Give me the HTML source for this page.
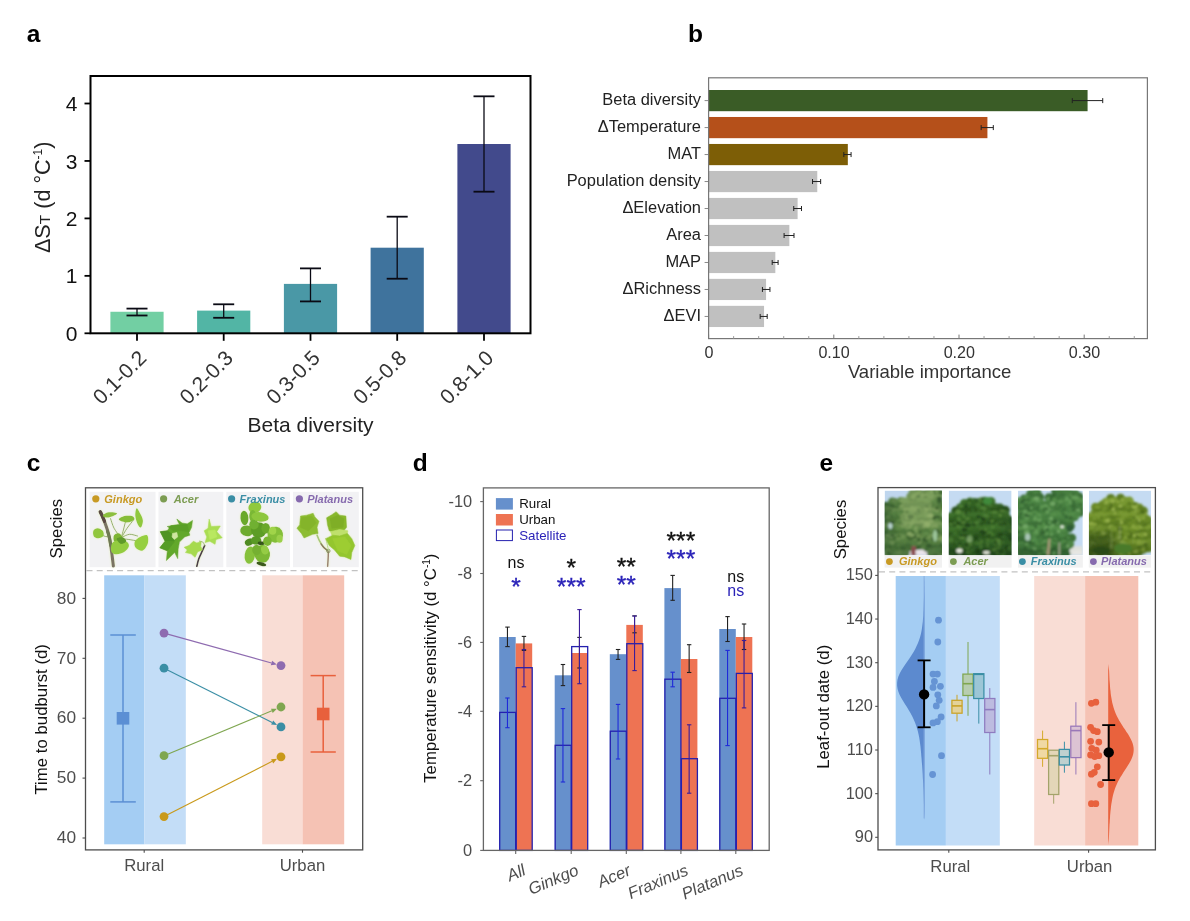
<!DOCTYPE html>
<html><head><meta charset="utf-8"><title>Figure</title>
<style>
html,body{margin:0;padding:0;background:#fff;}
body{width:1190px;height:921px;overflow:hidden;font-family:"Liberation Sans", sans-serif;}
svg{display:block;will-change:transform;}
svg text{font-family:"Liberation Sans", sans-serif;}
</style></head><body>
<svg width="1190" height="921" viewBox="0 0 1190 921">
<defs>
<filter id="b1" x="-10%" y="-10%" width="120%" height="120%"><feGaussianBlur stdDeviation="0.45"/></filter>
<filter id="b2" x="-10%" y="-10%" width="120%" height="120%"><feGaussianBlur stdDeviation="0.9"/></filter>
<filter id="lf" x="-15%" y="-15%" width="130%" height="130%"><feGaussianBlur in="SourceGraphic" stdDeviation="0.5" result="s"/><feGaussianBlur in="SourceAlpha" stdDeviation="1.1" result="a"/><feFlood flood-color="#e6f0b8" flood-opacity="0.9"/><feComposite in2="a" operator="in" result="h"/><feMerge><feMergeNode in="h"/><feMergeNode in="s"/></feMerge></filter>
<filter id="b3" x="-20%" y="-20%" width="140%" height="140%"><feGaussianBlur stdDeviation="1.6"/></filter>
</defs>
<rect width="1190" height="921" fill="#ffffff"/>
<g id="panel-a">
<text x="26.8" y="41.8" font-size="24.5" fill="#000" text-anchor="start" font-weight="bold" font-style="normal" >a</text>
<rect x="110.40" y="311.76" width="53.20" height="21.54" fill="#72cfa3" stroke="none" stroke-width="1" />
<rect x="197.10" y="310.61" width="53.20" height="22.69" fill="#52b5a5" stroke="none" stroke-width="1" />
<rect x="283.90" y="283.89" width="53.20" height="49.41" fill="#4a98a6" stroke="none" stroke-width="1" />
<rect x="370.60" y="247.70" width="53.20" height="85.60" fill="#3f739d" stroke="none" stroke-width="1" />
<rect x="457.40" y="144.00" width="53.20" height="189.30" fill="#424a8c" stroke="none" stroke-width="1" />
<line x1="137.0" y1="308.5965" x2="137.0" y2="315.4905" stroke="#0a0a14" stroke-width="1.3" />
<line x1="126.5" y1="308.5965" x2="147.5" y2="308.5965" stroke="#0a0a14" stroke-width="1.8" />
<line x1="126.5" y1="315.4905" x2="147.5" y2="315.4905" stroke="#0a0a14" stroke-width="1.8" />
<line x1="223.7" y1="304.28775" x2="223.7" y2="317.7885" stroke="#0a0a14" stroke-width="1.3" />
<line x1="213.2" y1="304.28775" x2="234.2" y2="304.28775" stroke="#0a0a14" stroke-width="1.8" />
<line x1="213.2" y1="317.7885" x2="234.2" y2="317.7885" stroke="#0a0a14" stroke-width="1.8" />
<line x1="310.5" y1="268.3815" x2="310.5" y2="301.41525" stroke="#0a0a14" stroke-width="1.3" />
<line x1="300.0" y1="268.3815" x2="321.0" y2="268.3815" stroke="#0a0a14" stroke-width="1.8" />
<line x1="300.0" y1="301.41525" x2="321.0" y2="301.41525" stroke="#0a0a14" stroke-width="1.8" />
<line x1="397.2" y1="216.67650000000003" x2="397.2" y2="278.7225" stroke="#0a0a14" stroke-width="1.3" />
<line x1="386.7" y1="216.67650000000003" x2="407.7" y2="216.67650000000003" stroke="#0a0a14" stroke-width="1.8" />
<line x1="386.7" y1="278.7225" x2="407.7" y2="278.7225" stroke="#0a0a14" stroke-width="1.8" />
<line x1="484.0" y1="96.31875" x2="484.0" y2="191.68575" stroke="#0a0a14" stroke-width="1.3" />
<line x1="473.5" y1="96.31875" x2="494.5" y2="96.31875" stroke="#0a0a14" stroke-width="1.8" />
<line x1="473.5" y1="191.68575" x2="494.5" y2="191.68575" stroke="#0a0a14" stroke-width="1.8" />
<rect x="90.50" y="76.00" width="440.00" height="257.30" fill="none" stroke="#000" stroke-width="2" />
<line x1="84.5" y1="333.3" x2="90.5" y2="333.3" stroke="#000" stroke-width="1.8" />
<text x="77.5" y="340.90000000000003" font-size="21" fill="#111" text-anchor="end" font-weight="normal" font-style="normal" >0</text>
<line x1="84.5" y1="275.85" x2="90.5" y2="275.85" stroke="#000" stroke-width="1.8" />
<text x="77.5" y="283.45000000000005" font-size="21" fill="#111" text-anchor="end" font-weight="normal" font-style="normal" >1</text>
<line x1="84.5" y1="218.4" x2="90.5" y2="218.4" stroke="#000" stroke-width="1.8" />
<text x="77.5" y="226.0" font-size="21" fill="#111" text-anchor="end" font-weight="normal" font-style="normal" >2</text>
<line x1="84.5" y1="160.95" x2="90.5" y2="160.95" stroke="#000" stroke-width="1.8" />
<text x="77.5" y="168.54999999999998" font-size="21" fill="#111" text-anchor="end" font-weight="normal" font-style="normal" >3</text>
<line x1="84.5" y1="103.5" x2="90.5" y2="103.5" stroke="#000" stroke-width="1.8" />
<text x="77.5" y="111.1" font-size="21" fill="#111" text-anchor="end" font-weight="normal" font-style="normal" >4</text>
<line x1="137.0" y1="333.3" x2="137.0" y2="340.8" stroke="#000" stroke-width="1.8" />
<text x="147.7" y="359.3" font-size="21" fill="#333" text-anchor="end" font-weight="normal" font-style="normal" transform="rotate(-45 147.7 359.3)" >0.1-0.2</text>
<line x1="223.7" y1="333.3" x2="223.7" y2="340.8" stroke="#000" stroke-width="1.8" />
<text x="234.39999999999998" y="359.3" font-size="21" fill="#333" text-anchor="end" font-weight="normal" font-style="normal" transform="rotate(-45 234.39999999999998 359.3)" >0.2-0.3</text>
<line x1="310.5" y1="333.3" x2="310.5" y2="340.8" stroke="#000" stroke-width="1.8" />
<text x="321.2" y="359.3" font-size="21" fill="#333" text-anchor="end" font-weight="normal" font-style="normal" transform="rotate(-45 321.2 359.3)" >0.3-0.5</text>
<line x1="397.2" y1="333.3" x2="397.2" y2="340.8" stroke="#000" stroke-width="1.8" />
<text x="407.9" y="359.3" font-size="21" fill="#333" text-anchor="end" font-weight="normal" font-style="normal" transform="rotate(-45 407.9 359.3)" >0.5-0.8</text>
<line x1="484.0" y1="333.3" x2="484.0" y2="340.8" stroke="#000" stroke-width="1.8" />
<text x="494.7" y="359.3" font-size="21" fill="#333" text-anchor="end" font-weight="normal" font-style="normal" transform="rotate(-45 494.7 359.3)" >0.8-1.0</text>
<text x="310.5" y="431.5" font-size="21" fill="#222" text-anchor="middle" font-weight="normal" font-style="normal" >Beta diversity</text>
<text transform="translate(50.2 197.3) rotate(-90)" font-size="21.6" fill="#222" text-anchor="middle">ΔS<tspan font-size="15.5">T</tspan> (d °C<tspan font-size="12" dy="-8">-1</tspan><tspan dy="8">)</tspan></text>
</g>
<g id="panel-b">
<text x="687.9" y="41.8" font-size="24.5" fill="#000" text-anchor="start" font-weight="bold" font-style="normal" >b</text>
<rect x="708.60" y="90.00" width="378.98" height="21.20" fill="#3a5c26" stroke="none" stroke-width="1" />
<line x1="1072.306" y1="100.6" x2="1102.7296000000001" y2="100.6" stroke="#222" stroke-width="1" />
<line x1="1072.306" y1="98.1" x2="1072.306" y2="103.1" stroke="#222" stroke-width="1" />
<line x1="1102.7296000000001" y1="98.1" x2="1102.7296000000001" y2="103.1" stroke="#222" stroke-width="1" />
<line x1="704.6" y1="100.6" x2="708.6" y2="100.6" stroke="#888" stroke-width="1" />
<text x="701.0" y="104.89999999999999" font-size="16.45" fill="#222" text-anchor="end" font-weight="normal" font-style="normal" >Beta diversity</text>
<rect x="708.60" y="116.98" width="278.82" height="21.20" fill="#b5501a" stroke="none" stroke-width="1" />
<line x1="981.1604" y1="127.58" x2="993.3048" y2="127.58" stroke="#222" stroke-width="1" />
<line x1="981.1604" y1="125.08" x2="981.1604" y2="130.07999999999998" stroke="#222" stroke-width="1" />
<line x1="993.3048" y1="125.08" x2="993.3048" y2="130.07999999999998" stroke="#222" stroke-width="1" />
<line x1="704.6" y1="127.58" x2="708.6" y2="127.58" stroke="#888" stroke-width="1" />
<text x="701.0" y="131.88" font-size="16.45" fill="#222" text-anchor="end" font-weight="normal" font-style="normal" >ΔTemperature</text>
<rect x="708.60" y="143.96" width="139.22" height="21.20" fill="#7d5e06" stroke="none" stroke-width="1" />
<line x1="843.816" y1="154.56" x2="851.0776000000001" y2="154.56" stroke="#222" stroke-width="1" />
<line x1="843.816" y1="152.06" x2="843.816" y2="157.06" stroke="#222" stroke-width="1" />
<line x1="851.0776000000001" y1="152.06" x2="851.0776000000001" y2="157.06" stroke="#222" stroke-width="1" />
<line x1="704.6" y1="154.56" x2="708.6" y2="154.56" stroke="#888" stroke-width="1" />
<text x="701.0" y="158.86" font-size="16.45" fill="#222" text-anchor="end" font-weight="normal" font-style="normal" >MAT</text>
<rect x="708.60" y="170.94" width="108.67" height="21.20" fill="#c0c0c0" stroke="none" stroke-width="1" />
<line x1="812.5160000000001" y1="181.54" x2="820.654" y2="181.54" stroke="#222" stroke-width="1" />
<line x1="812.5160000000001" y1="179.04" x2="812.5160000000001" y2="184.04" stroke="#222" stroke-width="1" />
<line x1="820.654" y1="179.04" x2="820.654" y2="184.04" stroke="#222" stroke-width="1" />
<line x1="704.6" y1="181.54" x2="708.6" y2="181.54" stroke="#888" stroke-width="1" />
<text x="701.0" y="185.84" font-size="16.45" fill="#222" text-anchor="end" font-weight="normal" font-style="normal" >Population density</text>
<rect x="708.60" y="197.92" width="89.02" height="21.20" fill="#c0c0c0" stroke="none" stroke-width="1" />
<line x1="793.736" y1="208.51999999999998" x2="801.4984000000001" y2="208.51999999999998" stroke="#222" stroke-width="1" />
<line x1="793.736" y1="206.01999999999998" x2="793.736" y2="211.01999999999998" stroke="#222" stroke-width="1" />
<line x1="801.4984000000001" y1="206.01999999999998" x2="801.4984000000001" y2="211.01999999999998" stroke="#222" stroke-width="1" />
<line x1="704.6" y1="208.51999999999998" x2="708.6" y2="208.51999999999998" stroke="#888" stroke-width="1" />
<text x="701.0" y="212.82" font-size="16.45" fill="#222" text-anchor="end" font-weight="normal" font-style="normal" >ΔElevation</text>
<rect x="708.60" y="224.90" width="80.75" height="21.20" fill="#c0c0c0" stroke="none" stroke-width="1" />
<line x1="784.0956" y1="235.5" x2="793.9864" y2="235.5" stroke="#222" stroke-width="1" />
<line x1="784.0956" y1="233.0" x2="784.0956" y2="238.0" stroke="#222" stroke-width="1" />
<line x1="793.9864" y1="233.0" x2="793.9864" y2="238.0" stroke="#222" stroke-width="1" />
<line x1="704.6" y1="235.5" x2="708.6" y2="235.5" stroke="#888" stroke-width="1" />
<text x="701.0" y="239.8" font-size="16.45" fill="#222" text-anchor="end" font-weight="normal" font-style="normal" >Area</text>
<rect x="708.60" y="251.88" width="66.73" height="21.20" fill="#c0c0c0" stroke="none" stroke-width="1" />
<line x1="772.2016" y1="262.48" x2="778.086" y2="262.48" stroke="#222" stroke-width="1" />
<line x1="772.2016" y1="259.98" x2="772.2016" y2="264.98" stroke="#222" stroke-width="1" />
<line x1="778.086" y1="259.98" x2="778.086" y2="264.98" stroke="#222" stroke-width="1" />
<line x1="704.6" y1="262.48" x2="708.6" y2="262.48" stroke="#888" stroke-width="1" />
<text x="701.0" y="266.78000000000003" font-size="16.45" fill="#222" text-anchor="end" font-weight="normal" font-style="normal" >MAP</text>
<rect x="708.60" y="278.86" width="57.47" height="21.20" fill="#c0c0c0" stroke="none" stroke-width="1" />
<line x1="762.436" y1="289.46000000000004" x2="769.948" y2="289.46000000000004" stroke="#222" stroke-width="1" />
<line x1="762.436" y1="286.96000000000004" x2="762.436" y2="291.96000000000004" stroke="#222" stroke-width="1" />
<line x1="769.948" y1="286.96000000000004" x2="769.948" y2="291.96000000000004" stroke="#222" stroke-width="1" />
<line x1="704.6" y1="289.46000000000004" x2="708.6" y2="289.46000000000004" stroke="#888" stroke-width="1" />
<text x="701.0" y="293.76000000000005" font-size="16.45" fill="#222" text-anchor="end" font-weight="normal" font-style="normal" >ΔRichness</text>
<rect x="708.60" y="305.84" width="55.46" height="21.20" fill="#c0c0c0" stroke="none" stroke-width="1" />
<line x1="760.1824" y1="316.44" x2="767.1936000000001" y2="316.44" stroke="#222" stroke-width="1" />
<line x1="760.1824" y1="313.94" x2="760.1824" y2="318.94" stroke="#222" stroke-width="1" />
<line x1="767.1936000000001" y1="313.94" x2="767.1936000000001" y2="318.94" stroke="#222" stroke-width="1" />
<line x1="704.6" y1="316.44" x2="708.6" y2="316.44" stroke="#888" stroke-width="1" />
<text x="701.0" y="320.74" font-size="16.45" fill="#222" text-anchor="end" font-weight="normal" font-style="normal" >ΔEVI</text>
<rect x="708.60" y="77.80" width="438.80" height="260.80" fill="none" stroke="#777" stroke-width="1.2" />
<line x1="708.6" y1="334.6" x2="708.6" y2="338.6" stroke="#777" stroke-width="1" />
<line x1="733.64" y1="336.1" x2="733.64" y2="338.6" stroke="#999" stroke-width="1" />
<line x1="758.6800000000001" y1="336.1" x2="758.6800000000001" y2="338.6" stroke="#999" stroke-width="1" />
<line x1="783.72" y1="336.1" x2="783.72" y2="338.6" stroke="#999" stroke-width="1" />
<line x1="808.76" y1="336.1" x2="808.76" y2="338.6" stroke="#999" stroke-width="1" />
<line x1="833.8000000000001" y1="334.6" x2="833.8000000000001" y2="338.6" stroke="#777" stroke-width="1" />
<line x1="858.84" y1="336.1" x2="858.84" y2="338.6" stroke="#999" stroke-width="1" />
<line x1="883.8800000000001" y1="336.1" x2="883.8800000000001" y2="338.6" stroke="#999" stroke-width="1" />
<line x1="908.9200000000001" y1="336.1" x2="908.9200000000001" y2="338.6" stroke="#999" stroke-width="1" />
<line x1="933.96" y1="336.1" x2="933.96" y2="338.6" stroke="#999" stroke-width="1" />
<line x1="959.0" y1="334.6" x2="959.0" y2="338.6" stroke="#777" stroke-width="1" />
<line x1="984.04" y1="336.1" x2="984.04" y2="338.6" stroke="#999" stroke-width="1" />
<line x1="1009.0799999999999" y1="336.1" x2="1009.0799999999999" y2="338.6" stroke="#999" stroke-width="1" />
<line x1="1034.1200000000001" y1="336.1" x2="1034.1200000000001" y2="338.6" stroke="#999" stroke-width="1" />
<line x1="1059.16" y1="336.1" x2="1059.16" y2="338.6" stroke="#999" stroke-width="1" />
<line x1="1084.2" y1="334.6" x2="1084.2" y2="338.6" stroke="#777" stroke-width="1" />
<line x1="1109.24" y1="336.1" x2="1109.24" y2="338.6" stroke="#999" stroke-width="1" />
<line x1="1134.28" y1="336.1" x2="1134.28" y2="338.6" stroke="#999" stroke-width="1" />
<text x="708.9" y="358.4" font-size="16.1" fill="#333" text-anchor="middle" font-weight="normal" font-style="normal" >0</text>
<text x="834.1" y="358.4" font-size="16.1" fill="#333" text-anchor="middle" font-weight="normal" font-style="normal" >0.10</text>
<text x="959.3" y="358.4" font-size="16.1" fill="#333" text-anchor="middle" font-weight="normal" font-style="normal" >0.20</text>
<text x="1084.5" y="358.4" font-size="16.1" fill="#333" text-anchor="middle" font-weight="normal" font-style="normal" >0.30</text>
<text x="929.6" y="378.3" font-size="18.55" fill="#333" text-anchor="middle" font-weight="normal" font-style="normal" >Variable importance</text>
</g>
<g id="panel-c">
<text x="26.8" y="470.7" font-size="24.5" fill="#000" text-anchor="start" font-weight="bold" font-style="normal" >c</text>
<rect x="104.20" y="575.30" width="40.20" height="269.00" fill="#a4cdf3" stroke="none" stroke-width="1" />
<rect x="144.40" y="575.30" width="41.40" height="269.00" fill="#c3ddf7" stroke="none" stroke-width="1" />
<rect x="262.20" y="575.30" width="40.30" height="269.00" fill="#f9ddd5" stroke="none" stroke-width="1" />
<rect x="302.50" y="575.30" width="41.70" height="269.00" fill="#f5c2b4" stroke="none" stroke-width="1" />
<rect x="89.60" y="491.80" width="65.90" height="75.40" fill="#f2f2f4" stroke="none" stroke-width="1" />
<rect x="158.50" y="491.80" width="64.80" height="75.40" fill="#f2f2f4" stroke="none" stroke-width="1" />
<rect x="226.30" y="491.80" width="63.70" height="75.40" fill="#f2f2f4" stroke="none" stroke-width="1" />
<rect x="293.00" y="491.80" width="65.80" height="75.40" fill="#f2f2f4" stroke="none" stroke-width="1" />
<g filter="url(#lf)">
<path d="M121.44,537.33 C121.80,535.96 122.96,531.62 123.61,529.08 C124.26,526.55 125.06,523.29 125.35,522.13 " fill="none" stroke="#8aa860" stroke-width="0.9" stroke-linecap="round"/>
<path d="M121.87,536.90 C122.74,535.45 125.20,530.96 127.08,528.21 C128.96,525.46 132.15,521.70 133.16,520.40 " fill="none" stroke="#8aa860" stroke-width="0.9" stroke-linecap="round"/>
<path d="M120.13,536.90 C119.12,535.45 115.65,531.25 114.06,528.21 C112.46,525.17 111.16,520.25 110.58,518.66 " fill="none" stroke="#8aa860" stroke-width="0.9" stroke-linecap="round"/>
<path d="M122.74,536.90 C123.90,536.47 127.23,534.44 129.69,534.29 C132.15,534.15 136.20,535.74 137.50,536.03 " fill="none" stroke="#8aa860" stroke-width="0.9" stroke-linecap="round"/>
<path d="M109.71,536.90 C108.99,536.83 106.60,536.75 105.37,536.47 C104.14,536.18 102.84,535.38 102.33,535.16 " fill="none" stroke="#8aa860" stroke-width="0.9" stroke-linecap="round"/>
<path d="M121.00,538.64 C122.31,538.78 126.21,539.14 128.82,539.50 C131.43,539.87 135.33,540.59 136.64,540.81 " fill="none" stroke="#8aa860" stroke-width="0.9" stroke-linecap="round"/>
<path d="M100.59,512.15 C101.17,513.52 102.76,516.85 104.07,520.40 C105.37,523.94 107.30,529.23 108.41,533.43 C109.52,537.62 110.13,541.82 110.75,545.58 C111.38,549.35 111.71,552.60 112.14,556.01 C112.58,559.41 113.16,564.33 113.36,565.99 " fill="none" stroke="#7a7364" stroke-width="3.1" stroke-linecap="round"/>
<path d="M100.16,511.71 C100.52,512.44 101.61,514.46 102.33,516.06 C103.05,517.65 104.14,520.40 104.50,521.27 " fill="none" stroke="#5a4a42" stroke-width="3.3" stroke-linecap="round"/>
<path d="M107.54,531.69 C107.90,532.85 109.18,536.32 109.71,538.64 C110.25,540.95 110.58,544.43 110.75,545.58 " fill="none" stroke="#6e7a52" stroke-width="3.0" stroke-linecap="round"/>
<path d="M102.76,516.06 C102.69,515.24 104.79,513.36 106.67,512.75 C108.55,512.15 112.32,512.26 114.06,512.41 C115.79,512.55 117.24,513.02 117.10,513.62 C116.95,514.23 114.85,515.39 113.19,516.06 C111.52,516.72 108.84,517.62 107.11,517.62 C105.37,517.62 102.84,516.87 102.76,516.06 Z" fill="#8cbf3c" />
<path d="M118.83,519.53 C118.69,518.49 122.31,516.63 124.48,516.06 C126.65,515.48 130.20,515.55 131.86,516.06 C133.52,516.56 134.54,518.20 134.47,519.10 C134.39,519.99 132.95,520.90 131.43,521.44 C129.91,521.98 127.44,522.63 125.35,522.31 C123.25,521.99 118.98,520.57 118.83,519.53 Z" fill="#86bd38" />
<path d="M136.64,508.24 C137.43,507.80 139.07,511.42 140.11,513.45 C141.15,515.48 142.74,518.08 142.89,520.40 C143.03,522.71 141.80,526.62 140.98,527.35 C140.15,528.07 138.88,526.62 137.94,524.74 C137.00,522.86 135.55,518.81 135.33,516.06 C135.12,513.30 135.84,508.67 136.64,508.24 Z" fill="#8fc83e" />
<path d="M93.38,530.82 C93.99,529.44 95.99,528.21 97.55,528.21 C99.12,528.21 101.78,529.52 102.76,530.82 C103.75,532.12 104.18,534.80 103.46,536.03 C102.74,537.26 100.01,538.13 98.42,538.20 C96.83,538.27 94.75,537.70 93.91,536.47 C93.07,535.23 92.78,532.20 93.38,530.82 Z" fill="#90c63c" />
<path d="M114.06,535.16 C114.92,533.86 117.82,532.85 119.27,533.43 C120.71,534.00 122.89,537.19 122.74,538.64 C122.60,540.08 119.85,541.68 118.40,542.11 C116.95,542.54 114.78,542.40 114.06,541.24 C113.33,540.08 113.19,536.47 114.06,535.16 Z" fill="#7db533" />
<path d="M113.19,542.11 C114.71,540.95 117.82,540.37 120.13,540.37 C122.45,540.37 125.64,541.10 127.08,542.11 C128.53,543.12 129.25,544.86 128.82,546.45 C128.39,548.05 126.50,550.36 124.48,551.66 C122.45,552.97 118.76,554.12 116.66,554.27 C114.56,554.41 112.82,553.69 111.88,552.53 C110.94,551.37 110.80,549.06 111.02,547.32 C111.23,545.58 111.67,543.27 113.19,542.11 Z" fill="#93cc3f" />
<path d="M134.90,541.24 C135.70,539.50 138.08,537.91 140.11,536.90 C142.14,535.89 145.73,534.29 147.06,535.16 C148.39,536.03 148.39,539.94 148.10,542.11 C147.81,544.28 146.51,546.74 145.32,548.19 C144.13,549.64 142.64,550.94 140.98,550.80 C139.31,550.65 136.35,548.91 135.33,547.32 C134.32,545.73 134.10,542.98 134.90,541.24 Z" fill="#96cf40" />
<path d="M116.66,538.64 C116.95,537.55 121.15,536.90 122.74,537.33 C124.33,537.77 126.50,540.16 126.21,541.24 C125.92,542.33 122.60,544.28 121.00,543.85 C119.41,543.41 116.37,539.72 116.66,538.64 Z" fill="#5f9a2a" />
</g>
<g filter="url(#lf)">
<path d="M204.64,545.58 C204.06,546.89 202.18,551.09 201.16,553.40 C200.15,555.72 199.28,557.34 198.56,559.48 C197.83,561.62 197.11,565.13 196.82,566.25 " fill="none" stroke="#4b3c48" stroke-width="1.7" stroke-linecap="round"/>
<path d="M204.64,545.58 C204.35,545.01 203.77,542.83 202.90,542.11 C202.03,541.39 200.00,541.39 199.43,541.24 " fill="none" stroke="#8aa860" stroke-width="0.8" stroke-linecap="round"/>
<polygon points="176.84,519.10 182.06,523.00 187.27,523.87 192.48,520.40 191.61,527.35 189.00,532.56 189.87,535.16 184.66,536.90 179.45,542.11 178.15,549.06 177.71,558.61 174.67,552.53 166.42,560.52 167.29,550.80 159.91,547.76 165.12,541.24 160.34,531.69 167.29,530.82 170.76,525.61 179.45,524.74" fill="#62a82b" stroke="#62a82b" stroke-width="0.6" stroke-linejoin="round" />
<polygon points="160.34,531.69 167.29,530.82 173.37,535.16 174.24,541.24 165.12,541.24" fill="#4f9422" stroke="#4f9422" stroke-width="0.6" stroke-linejoin="round" />
<polygon points="159.91,547.76 165.12,541.24 174.24,542.11 167.29,550.80" fill="#579c26" stroke="#579c26" stroke-width="0.6" stroke-linejoin="round" />
<polygon points="167.29,526.48 177.71,524.74 187.27,524.74 189.00,531.69 182.06,530.82 173.37,530.82" fill="#5a9f27" stroke="#5a9f27" stroke-width="0.6" stroke-linejoin="round" />
<polygon points="172.50,533.43 176.84,532.56 177.71,536.90 174.24,539.50 172.07,536.90" fill="#cfe6a0" stroke="#cfe6a0" stroke-width="0.6" stroke-linejoin="round" />
<polygon points="184.23,547.32 189.00,545.58 193.35,541.24 196.82,542.98 201.16,541.68 200.73,546.45 202.47,549.93 197.69,551.66 195.08,557.31 191.17,553.84 185.53,552.53 187.27,549.93" fill="#a6da4e" stroke="#a6da4e" stroke-width="0.6" stroke-linejoin="round" />
<polygon points="209.15,519.10 211.15,526.48 220.27,526.04 216.80,531.69 222.18,537.77 215.93,539.50 215.06,544.28 209.85,541.24 205.07,542.54 206.81,536.90 204.20,530.82 208.11,528.21" fill="#a9dd52" stroke="#a9dd52" stroke-width="0.6" stroke-linejoin="round" />
<polygon points="208.11,530.82 215.06,529.95 216.80,536.90 209.85,539.50" fill="#b9e860" stroke="#b9e860" stroke-width="0.6" stroke-linejoin="round" />
</g>
<g filter="url(#lf)">
<ellipse cx="254.83" cy="507.37" rx="6.51" ry="5.73" fill="#90c93d" transform="rotate(-20 254.83 507.37)"/>
<ellipse cx="244.41" cy="517.97" rx="4.00" ry="7.30" fill="#6aa92b" transform="rotate(-5 244.41 517.97)"/>
<ellipse cx="252.66" cy="516.06" rx="3.47" ry="6.08" fill="#7ab834" transform="rotate(0 252.66 516.06)"/>
<ellipse cx="260.04" cy="516.92" rx="8.69" ry="4.78" fill="#8dc73c" transform="rotate(8 260.04 516.92)"/>
<ellipse cx="246.75" cy="530.82" rx="6.60" ry="5.38" fill="#6dab2d" transform="rotate(10 246.75 530.82)"/>
<ellipse cx="258.74" cy="529.95" rx="7.82" ry="7.82" fill="#5d9d26" transform="rotate(0 258.74 529.95)"/>
<ellipse cx="253.96" cy="524.74" rx="4.78" ry="4.78" fill="#70b030" transform="rotate(0 253.96 524.74)"/>
<ellipse cx="265.69" cy="528.21" rx="4.34" ry="5.21" fill="#6aa82c" transform="rotate(0 265.69 528.21)"/>
<ellipse cx="275.24" cy="534.73" rx="7.82" ry="7.99" fill="#84bf39" transform="rotate(10 275.24 534.73)"/>
<ellipse cx="272.64" cy="530.82" rx="3.65" ry="4.00" fill="#a0d44a" transform="rotate(0 272.64 530.82)"/>
<ellipse cx="279.58" cy="538.64" rx="3.13" ry="4.00" fill="#9bd048" transform="rotate(0 279.58 538.64)"/>
<ellipse cx="249.19" cy="542.11" rx="4.52" ry="3.47" fill="#4f8c22" transform="rotate(-25 249.19 542.11)"/>
<ellipse cx="256.13" cy="540.37" rx="5.21" ry="4.34" fill="#5a9a26" transform="rotate(0 256.13 540.37)"/>
<ellipse cx="261.35" cy="543.15" rx="3.65" ry="1.91" fill="#35551a" transform="rotate(0 261.35 543.15)"/>
<ellipse cx="267.43" cy="541.24" rx="4.34" ry="4.78" fill="#7ab532" transform="rotate(0 267.43 541.24)"/>
<ellipse cx="249.88" cy="555.14" rx="5.21" ry="8.69" fill="#86c13a" transform="rotate(8 249.88 555.14)"/>
<ellipse cx="262.21" cy="553.84" rx="7.82" ry="9.03" fill="#7cb834" transform="rotate(-8 262.21 553.84)"/>
<ellipse cx="256.57" cy="549.93" rx="4.34" ry="5.21" fill="#74b030" transform="rotate(0 256.57 549.93)"/>
<ellipse cx="264.82" cy="549.93" rx="3.65" ry="4.52" fill="#95cc44" transform="rotate(-20 264.82 549.93)"/>
<ellipse cx="261.35" cy="564.00" rx="5.04" ry="1.74" fill="#3b5a1c" transform="rotate(15 261.35 564.00)"/>
</g>
<g filter="url(#lf)">
<path d="M317.06,535.16 C317.49,536.18 318.65,539.36 319.66,541.24 C320.67,543.12 321.76,544.86 323.13,546.45 C324.51,548.05 327.12,550.07 327.91,550.80 " fill="none" stroke="#a8c878" stroke-width="1.6" stroke-linecap="round"/>
<path d="M320.96,543.85 C321.47,544.50 322.85,546.60 324.00,547.76 C325.16,548.91 327.26,550.29 327.91,550.80 " fill="none" stroke="#8a7562" stroke-width="1.3" stroke-linecap="round"/>
<path d="M328.35,551.23 C328.32,552.32 328.29,555.24 328.17,557.74 C328.06,560.25 327.74,564.84 327.65,566.25 " fill="none" stroke="#9a8270" stroke-width="1.5" stroke-linecap="round"/>
<circle cx="328.35" cy="550.97" r="1.7" fill="none" stroke="#7a8a55" stroke-width="0.9"/>
<path d="M325.74,538.64 C326.03,539.79 327.04,543.56 327.48,545.58 C327.91,547.61 328.20,549.93 328.35,550.80 " fill="none" stroke="#b8d890" stroke-width="1.0" stroke-linecap="round"/>
<polygon points="300.55,516.06 306.63,515.19 313.15,513.28 314.88,516.92 318.97,521.27 317.06,527.35 318.10,533.43 312.71,534.29 304.03,537.94 301.42,533.43 296.91,528.21 299.69,524.74" fill="#8dbd30" stroke="#8dbd30" stroke-width="0.6" stroke-linejoin="round" />
<polygon points="301.42,517.79 311.84,516.06 316.19,523.00 308.37,530.82 300.55,527.35" fill="#84b42b" stroke="#84b42b" stroke-width="0.6" stroke-linejoin="round" />
<polygon points="326.61,517.79 331.82,514.75 336.16,511.71 339.64,515.19 345.89,516.06 346.58,527.35 343.11,531.69 334.43,532.56 329.21,530.82 327.48,524.74" fill="#88b82c" stroke="#88b82c" stroke-width="0.6" stroke-linejoin="round" />
<polygon points="330.08,518.66 337.90,515.19 343.98,518.66 343.11,527.35 331.82,528.21" fill="#7fae28" stroke="#7fae28" stroke-width="0.6" stroke-linejoin="round" />
<polygon points="330.52,531.69 339.64,529.52 347.89,530.82 346.58,535.16 336.16,536.90 331.82,535.16" fill="#bfe06c" stroke="#bfe06c" stroke-width="0.6" stroke-linejoin="round" />
<polygon points="325.74,538.64 332.69,535.16 339.64,536.03 347.45,533.43 351.80,538.64 354.84,545.58 351.80,552.53 350.93,559.48 344.85,556.88 339.64,556.18 334.43,549.93 329.21,545.58" fill="#94c62f" stroke="#94c62f" stroke-width="0.6" stroke-linejoin="round" />
<polygon points="332.69,538.64 344.85,536.90 350.93,545.58 346.58,554.27 337.90,550.80" fill="#9dcd33" stroke="#9dcd33" stroke-width="0.6" stroke-linejoin="round" />
</g>
<circle cx="95.8" cy="498.8" r="3.6" fill="#c89a24"/>
<text x="104.3" y="502.6" font-size="11" fill="#c89a24" text-anchor="start" font-weight="bold" font-style="italic" >Ginkgo</text>
<circle cx="163.6" cy="498.8" r="3.6" fill="#7c9c52"/>
<text x="173.8" y="502.6" font-size="11" fill="#7c9c52" text-anchor="start" font-weight="bold" font-style="italic" >Acer</text>
<circle cx="231.6" cy="498.8" r="3.6" fill="#3a8ea5"/>
<text x="239.6" y="502.6" font-size="11" fill="#3a8ea5" text-anchor="start" font-weight="bold" font-style="italic" >Fraxinus</text>
<circle cx="299.4" cy="498.8" r="3.6" fill="#866aae"/>
<text x="307.2" y="502.6" font-size="11" fill="#866aae" text-anchor="start" font-weight="bold" font-style="italic" >Platanus</text>
<line x1="86.5" y1="570.6" x2="361.7" y2="570.6" stroke="#c2c2c2" stroke-width="1.3" stroke-dasharray="6 4.2"/>
<line x1="123" y1="635" x2="123" y2="801.9" stroke="#5b8fd4" stroke-width="1.5" />
<line x1="110.3" y1="635" x2="135.8" y2="635" stroke="#5b8fd4" stroke-width="1.5" />
<line x1="110.3" y1="801.9" x2="135.8" y2="801.9" stroke="#5b8fd4" stroke-width="1.5" />
<rect x="116.70" y="712.00" width="12.60" height="12.60" fill="#5b8fd4" stroke="none" stroke-width="1" />
<line x1="323.2" y1="675.6" x2="323.2" y2="752" stroke="#e8603c" stroke-width="1.5" />
<line x1="310.6" y1="675.6" x2="335.8" y2="675.6" stroke="#e8603c" stroke-width="1.5" />
<line x1="310.6" y1="752" x2="335.8" y2="752" stroke="#e8603c" stroke-width="1.5" />
<rect x="316.90" y="707.70" width="12.60" height="12.60" fill="#e8603c" stroke="none" stroke-width="1" />
<line x1="164.0" y1="633.1" x2="271.46117269466356" y2="662.9503257485177" stroke="#8e6bb0" stroke-width="1.1" />
<polygon points="276.8,664.4 270.8,665.2 272.1,660.7" fill="#8e6bb0"/>
<line x1="164.0" y1="668.2" x2="272.1512295189058" y2="722.4604886560664" stroke="#3a8ea5" stroke-width="1.1" />
<polygon points="277.1,724.9 271.1,724.5 273.2,720.4" fill="#3a8ea5"/>
<line x1="164.0" y1="755.7" x2="271.86015235119106" y2="710.8043639358717" stroke="#7fa650" stroke-width="1.1" />
<polygon points="276.9,708.7 272.7,712.9 271.0,708.7" fill="#7fa650"/>
<line x1="164.0" y1="816.6" x2="272.18469664625883" y2="761.3055994919122" stroke="#c9991a" stroke-width="1.1" />
<polygon points="277.1,758.8 273.2,763.4 271.1,759.3" fill="#c9991a"/>
<circle cx="164" cy="633.1" r="4.4" fill="#8e6bb0"/>
<circle cx="281" cy="665.6" r="4.4" fill="#8e6bb0"/>
<circle cx="164" cy="668.2" r="4.4" fill="#3a8ea5"/>
<circle cx="281" cy="726.9" r="4.4" fill="#3a8ea5"/>
<circle cx="164" cy="755.7" r="4.4" fill="#7fa650"/>
<circle cx="281" cy="707.0" r="4.4" fill="#7fa650"/>
<circle cx="164" cy="816.6" r="4.4" fill="#c9991a"/>
<circle cx="281" cy="756.8" r="4.4" fill="#c9991a"/>
<rect x="85.50" y="487.80" width="277.20" height="362.10" fill="none" stroke="#4d4d4d" stroke-width="1.3" />
<line x1="82.5" y1="838.0" x2="85.5" y2="838.0" stroke="#4d4d4d" stroke-width="1.1" />
<text x="76.0" y="843.2" font-size="17.3" fill="#4d4d4d" text-anchor="end" font-weight="normal" font-style="normal" >40</text>
<line x1="82.5" y1="778.1" x2="85.5" y2="778.1" stroke="#4d4d4d" stroke-width="1.1" />
<text x="76.0" y="783.3000000000001" font-size="17.3" fill="#4d4d4d" text-anchor="end" font-weight="normal" font-style="normal" >50</text>
<line x1="82.5" y1="718.2" x2="85.5" y2="718.2" stroke="#4d4d4d" stroke-width="1.1" />
<text x="76.0" y="723.4000000000001" font-size="17.3" fill="#4d4d4d" text-anchor="end" font-weight="normal" font-style="normal" >60</text>
<line x1="82.5" y1="658.3" x2="85.5" y2="658.3" stroke="#4d4d4d" stroke-width="1.1" />
<text x="76.0" y="663.5" font-size="17.3" fill="#4d4d4d" text-anchor="end" font-weight="normal" font-style="normal" >70</text>
<line x1="82.5" y1="598.4" x2="85.5" y2="598.4" stroke="#4d4d4d" stroke-width="1.1" />
<text x="76.0" y="603.6" font-size="17.3" fill="#4d4d4d" text-anchor="end" font-weight="normal" font-style="normal" >80</text>
<line x1="144.2" y1="849.9" x2="144.2" y2="852.6999999999999" stroke="#4d4d4d" stroke-width="1.1" />
<text x="144.2" y="870.7" font-size="16.7" fill="#4d4d4d" text-anchor="middle" font-weight="normal" font-style="normal" >Rural</text>
<line x1="302.5" y1="849.9" x2="302.5" y2="852.6999999999999" stroke="#4d4d4d" stroke-width="1.1" />
<text x="302.5" y="870.7" font-size="16.7" fill="#4d4d4d" text-anchor="middle" font-weight="normal" font-style="normal" >Urban</text>
<text x="46.8" y="719.3" font-size="16.8" fill="#111" text-anchor="middle" font-weight="normal" font-style="normal" transform="rotate(-90 46.8 719.3)" >Time to budburst (d)</text>
<text x="61.6" y="528.6" font-size="16.8" fill="#111" text-anchor="middle" font-weight="normal" font-style="normal" transform="rotate(-90 61.6 528.6)" >Species</text>
</g>
<g id="panel-d">
<text x="412.8" y="471.3" font-size="24.5" fill="#000" text-anchor="start" font-weight="bold" font-style="normal" >d</text>
<rect x="499.20" y="637.00" width="16.50" height="213.40" fill="#6690cc" stroke="none" stroke-width="1" />
<rect x="515.70" y="643.40" width="16.50" height="207.00" fill="#ee7353" stroke="none" stroke-width="1" />
<rect x="554.70" y="675.30" width="16.50" height="175.10" fill="#6690cc" stroke="none" stroke-width="1" />
<rect x="571.20" y="653.00" width="16.50" height="197.40" fill="#ee7353" stroke="none" stroke-width="1" />
<rect x="609.80" y="654.20" width="16.50" height="196.20" fill="#6690cc" stroke="none" stroke-width="1" />
<rect x="626.30" y="624.90" width="16.50" height="225.50" fill="#ee7353" stroke="none" stroke-width="1" />
<rect x="664.40" y="588.10" width="16.50" height="262.30" fill="#6690cc" stroke="none" stroke-width="1" />
<rect x="680.90" y="659.00" width="16.50" height="191.40" fill="#ee7353" stroke="none" stroke-width="1" />
<rect x="719.30" y="629.00" width="16.50" height="221.40" fill="#6690cc" stroke="none" stroke-width="1" />
<rect x="735.80" y="637.00" width="16.50" height="213.40" fill="#ee7353" stroke="none" stroke-width="1" />
<line x1="507.45000000000005" y1="627.1" x2="507.45000000000005" y2="646.6" stroke="#222" stroke-width="1.1" />
<line x1="505.25000000000006" y1="627.1" x2="509.65000000000003" y2="627.1" stroke="#222" stroke-width="1.1" />
<line x1="505.25000000000006" y1="646.6" x2="509.65000000000003" y2="646.6" stroke="#222" stroke-width="1.1" />
<line x1="523.95" y1="636.4" x2="523.95" y2="650.4" stroke="#222" stroke-width="1.1" />
<line x1="521.75" y1="636.4" x2="526.1500000000001" y2="636.4" stroke="#222" stroke-width="1.1" />
<line x1="521.75" y1="650.4" x2="526.1500000000001" y2="650.4" stroke="#222" stroke-width="1.1" />
<line x1="562.95" y1="664.5" x2="562.95" y2="685.6" stroke="#222" stroke-width="1.1" />
<line x1="560.75" y1="664.5" x2="565.1500000000001" y2="664.5" stroke="#222" stroke-width="1.1" />
<line x1="560.75" y1="685.6" x2="565.1500000000001" y2="685.6" stroke="#222" stroke-width="1.1" />
<line x1="579.45" y1="637.4" x2="579.45" y2="668.0" stroke="#222" stroke-width="1.1" />
<line x1="577.25" y1="637.4" x2="581.6500000000001" y2="637.4" stroke="#222" stroke-width="1.1" />
<line x1="577.25" y1="668.0" x2="581.6500000000001" y2="668.0" stroke="#222" stroke-width="1.1" />
<line x1="618.05" y1="649.5" x2="618.05" y2="659.4" stroke="#222" stroke-width="1.1" />
<line x1="615.8499999999999" y1="649.5" x2="620.25" y2="649.5" stroke="#222" stroke-width="1.1" />
<line x1="615.8499999999999" y1="659.4" x2="620.25" y2="659.4" stroke="#222" stroke-width="1.1" />
<line x1="634.55" y1="615.9" x2="634.55" y2="632.8" stroke="#222" stroke-width="1.1" />
<line x1="632.3499999999999" y1="615.9" x2="636.75" y2="615.9" stroke="#222" stroke-width="1.1" />
<line x1="632.3499999999999" y1="632.8" x2="636.75" y2="632.8" stroke="#222" stroke-width="1.1" />
<line x1="672.65" y1="575.4" x2="672.65" y2="600.3" stroke="#222" stroke-width="1.1" />
<line x1="670.4499999999999" y1="575.4" x2="674.85" y2="575.4" stroke="#222" stroke-width="1.1" />
<line x1="670.4499999999999" y1="600.3" x2="674.85" y2="600.3" stroke="#222" stroke-width="1.1" />
<line x1="689.15" y1="644.7" x2="689.15" y2="672.5" stroke="#222" stroke-width="1.1" />
<line x1="686.9499999999999" y1="644.7" x2="691.35" y2="644.7" stroke="#222" stroke-width="1.1" />
<line x1="686.9499999999999" y1="672.5" x2="691.35" y2="672.5" stroke="#222" stroke-width="1.1" />
<line x1="727.55" y1="616.6" x2="727.55" y2="641.5" stroke="#222" stroke-width="1.1" />
<line x1="725.3499999999999" y1="616.6" x2="729.75" y2="616.6" stroke="#222" stroke-width="1.1" />
<line x1="725.3499999999999" y1="641.5" x2="729.75" y2="641.5" stroke="#222" stroke-width="1.1" />
<line x1="744.05" y1="624.0" x2="744.05" y2="649.5" stroke="#222" stroke-width="1.1" />
<line x1="741.8499999999999" y1="624.0" x2="746.25" y2="624.0" stroke="#222" stroke-width="1.1" />
<line x1="741.8499999999999" y1="649.5" x2="746.25" y2="649.5" stroke="#222" stroke-width="1.1" />
<rect x="499.70" y="712.40" width="16.00" height="138.00" fill="none" stroke="#2420ae" stroke-width="1.3" />
<rect x="516.20" y="667.70" width="16.00" height="182.70" fill="none" stroke="#2420ae" stroke-width="1.3" />
<line x1="507.45000000000005" y1="698.0" x2="507.45000000000005" y2="727.7" stroke="#1f2ad8" stroke-width="1.1" />
<line x1="505.25000000000006" y1="698.0" x2="509.65000000000003" y2="698.0" stroke="#1f2ad8" stroke-width="1.1" />
<line x1="505.25000000000006" y1="727.7" x2="509.65000000000003" y2="727.7" stroke="#1f2ad8" stroke-width="1.1" />
<line x1="523.95" y1="649.5" x2="523.95" y2="686.8" stroke="#3a1c9a" stroke-width="1.1" />
<line x1="521.75" y1="649.5" x2="526.1500000000001" y2="649.5" stroke="#3a1c9a" stroke-width="1.1" />
<line x1="521.75" y1="686.8" x2="526.1500000000001" y2="686.8" stroke="#3a1c9a" stroke-width="1.1" />
<rect x="555.20" y="745.30" width="16.00" height="105.10" fill="none" stroke="#2420ae" stroke-width="1.3" />
<rect x="571.70" y="646.60" width="16.00" height="203.80" fill="none" stroke="#2420ae" stroke-width="1.3" />
<line x1="562.95" y1="708.6" x2="562.95" y2="782.0" stroke="#1f2ad8" stroke-width="1.1" />
<line x1="560.75" y1="708.6" x2="565.1500000000001" y2="708.6" stroke="#1f2ad8" stroke-width="1.1" />
<line x1="560.75" y1="782.0" x2="565.1500000000001" y2="782.0" stroke="#1f2ad8" stroke-width="1.1" />
<line x1="579.45" y1="609.6" x2="579.45" y2="683.7" stroke="#3a1c9a" stroke-width="1.1" />
<line x1="577.25" y1="609.6" x2="581.6500000000001" y2="609.6" stroke="#3a1c9a" stroke-width="1.1" />
<line x1="577.25" y1="683.7" x2="581.6500000000001" y2="683.7" stroke="#3a1c9a" stroke-width="1.1" />
<rect x="610.30" y="731.20" width="16.00" height="119.20" fill="none" stroke="#2420ae" stroke-width="1.3" />
<rect x="626.80" y="643.70" width="16.00" height="206.70" fill="none" stroke="#2420ae" stroke-width="1.3" />
<line x1="618.05" y1="704.4" x2="618.05" y2="759.0" stroke="#1f2ad8" stroke-width="1.1" />
<line x1="615.8499999999999" y1="704.4" x2="620.25" y2="704.4" stroke="#1f2ad8" stroke-width="1.1" />
<line x1="615.8499999999999" y1="759.0" x2="620.25" y2="759.0" stroke="#1f2ad8" stroke-width="1.1" />
<line x1="634.55" y1="616.0" x2="634.55" y2="670.6" stroke="#3a1c9a" stroke-width="1.1" />
<line x1="632.3499999999999" y1="616.0" x2="636.75" y2="616.0" stroke="#3a1c9a" stroke-width="1.1" />
<line x1="632.3499999999999" y1="670.6" x2="636.75" y2="670.6" stroke="#3a1c9a" stroke-width="1.1" />
<rect x="664.90" y="679.20" width="16.00" height="171.20" fill="none" stroke="#2420ae" stroke-width="1.3" />
<rect x="681.40" y="758.70" width="16.00" height="91.70" fill="none" stroke="#2420ae" stroke-width="1.3" />
<line x1="672.65" y1="672.2" x2="672.65" y2="686.8" stroke="#1f2ad8" stroke-width="1.1" />
<line x1="670.4499999999999" y1="672.2" x2="674.85" y2="672.2" stroke="#1f2ad8" stroke-width="1.1" />
<line x1="670.4499999999999" y1="686.8" x2="674.85" y2="686.8" stroke="#1f2ad8" stroke-width="1.1" />
<line x1="689.15" y1="724.8" x2="689.15" y2="793.2" stroke="#3a1c9a" stroke-width="1.1" />
<line x1="686.9499999999999" y1="724.8" x2="691.35" y2="724.8" stroke="#3a1c9a" stroke-width="1.1" />
<line x1="686.9499999999999" y1="793.2" x2="691.35" y2="793.2" stroke="#3a1c9a" stroke-width="1.1" />
<rect x="719.80" y="698.30" width="16.00" height="152.10" fill="none" stroke="#2420ae" stroke-width="1.3" />
<rect x="736.30" y="673.40" width="16.00" height="177.00" fill="none" stroke="#2420ae" stroke-width="1.3" />
<line x1="727.55" y1="650.4" x2="727.55" y2="745.6" stroke="#1f2ad8" stroke-width="1.1" />
<line x1="725.3499999999999" y1="650.4" x2="729.75" y2="650.4" stroke="#1f2ad8" stroke-width="1.1" />
<line x1="725.3499999999999" y1="745.6" x2="729.75" y2="745.6" stroke="#1f2ad8" stroke-width="1.1" />
<line x1="744.05" y1="640.5" x2="744.05" y2="707.9" stroke="#3a1c9a" stroke-width="1.1" />
<line x1="741.8499999999999" y1="640.5" x2="746.25" y2="640.5" stroke="#3a1c9a" stroke-width="1.1" />
<line x1="741.8499999999999" y1="707.9" x2="746.25" y2="707.9" stroke="#3a1c9a" stroke-width="1.1" />
<rect x="483.40" y="487.90" width="285.80" height="362.50" fill="none" stroke="#666" stroke-width="1.3" />
<line x1="480.2" y1="850.4" x2="483.4" y2="850.4" stroke="#666" stroke-width="1.1" />
<text x="472.2" y="856.0" font-size="16.4" fill="#4d4d4d" text-anchor="end" font-weight="normal" font-style="normal" >0</text>
<line x1="480.2" y1="780.7" x2="483.4" y2="780.7" stroke="#666" stroke-width="1.1" />
<text x="472.2" y="786.3000000000001" font-size="16.4" fill="#4d4d4d" text-anchor="end" font-weight="normal" font-style="normal" >-2</text>
<line x1="480.2" y1="711.3" x2="483.4" y2="711.3" stroke="#666" stroke-width="1.1" />
<text x="472.2" y="716.9" font-size="16.4" fill="#4d4d4d" text-anchor="end" font-weight="normal" font-style="normal" >-4</text>
<line x1="480.2" y1="642.4" x2="483.4" y2="642.4" stroke="#666" stroke-width="1.1" />
<text x="472.2" y="648.0" font-size="16.4" fill="#4d4d4d" text-anchor="end" font-weight="normal" font-style="normal" >-6</text>
<line x1="480.2" y1="573.5" x2="483.4" y2="573.5" stroke="#666" stroke-width="1.1" />
<text x="472.2" y="579.1" font-size="16.4" fill="#4d4d4d" text-anchor="end" font-weight="normal" font-style="normal" >-8</text>
<line x1="480.2" y1="501.6" x2="483.4" y2="501.6" stroke="#666" stroke-width="1.1" />
<text x="472.2" y="507.20000000000005" font-size="16.4" fill="#4d4d4d" text-anchor="end" font-weight="normal" font-style="normal" >-10</text>
<line x1="515.7" y1="850.4" x2="515.7" y2="853.9" stroke="#666" stroke-width="1.1" />
<text x="526.7" y="874.4" font-size="16.6" fill="#4d4d4d" text-anchor="end" font-weight="normal" font-style="italic" transform="rotate(-23 526.7 874.4)" >All</text>
<line x1="571.2" y1="850.4" x2="571.2" y2="853.9" stroke="#666" stroke-width="1.1" />
<text x="579.7" y="874.4" font-size="16.6" fill="#4d4d4d" text-anchor="end" font-weight="normal" font-style="italic" transform="rotate(-23 579.7 874.4)" >Ginkgo</text>
<line x1="626.3" y1="850.4" x2="626.3" y2="853.9" stroke="#666" stroke-width="1.1" />
<text x="631.8" y="874.4" font-size="16.6" fill="#4d4d4d" text-anchor="end" font-weight="normal" font-style="italic" transform="rotate(-23 631.8 874.4)" >Acer</text>
<line x1="680.9" y1="850.4" x2="680.9" y2="853.9" stroke="#666" stroke-width="1.1" />
<text x="689.4" y="874.4" font-size="16.6" fill="#4d4d4d" text-anchor="end" font-weight="normal" font-style="italic" transform="rotate(-23 689.4 874.4)" >Fraxinus</text>
<line x1="735.8" y1="850.4" x2="735.8" y2="853.9" stroke="#666" stroke-width="1.1" />
<text x="744.3" y="874.4" font-size="16.6" fill="#4d4d4d" text-anchor="end" font-weight="normal" font-style="italic" transform="rotate(-23 744.3 874.4)" >Platanus</text>
<rect x="495.90" y="498.10" width="17.00" height="11.50" fill="#6690cc" stroke="none" stroke-width="1" />
<text x="519.2" y="508.3" font-size="13.3" fill="#111" text-anchor="start" font-weight="normal" font-style="normal" >Rural</text>
<rect x="495.90" y="514.00" width="17.00" height="11.50" fill="#ee7353" stroke="none" stroke-width="1" />
<text x="519.2" y="524.3" font-size="13.3" fill="#111" text-anchor="start" font-weight="normal" font-style="normal" >Urban</text>
<rect x="496.40" y="530.00" width="16.00" height="10.60" fill="#fff" stroke="#2420ae" stroke-width="1" />
<text x="519.2" y="540.0" font-size="13.3" fill="#2a22b8" text-anchor="start" font-weight="normal" font-style="normal" >Satellite</text>
<text x="516" y="568.2" font-size="16" fill="#111" text-anchor="middle" font-weight="normal" font-style="normal" >ns</text>
<text x="516" y="594.8" font-size="24.6" fill="#2a22b8" text-anchor="middle" font-weight="normal" font-style="normal" stroke="#2a22b8" stroke-width="0.35">*</text>
<text x="571.2" y="576.3" font-size="24.6" fill="#111" text-anchor="middle" font-weight="normal" font-style="normal" stroke="#111" stroke-width="0.35">*</text>
<text x="571.2" y="594.8" font-size="24.6" fill="#2a22b8" text-anchor="middle" font-weight="normal" font-style="normal" stroke="#2a22b8" stroke-width="0.35">***</text>
<text x="626.3" y="575.0" font-size="24.6" fill="#111" text-anchor="middle" font-weight="normal" font-style="normal" stroke="#111" stroke-width="0.35">**</text>
<text x="626.3" y="592.6" font-size="24.6" fill="#2a22b8" text-anchor="middle" font-weight="normal" font-style="normal" stroke="#2a22b8" stroke-width="0.35">**</text>
<text x="680.9" y="549.4" font-size="24.6" fill="#111" text-anchor="middle" font-weight="normal" font-style="normal" stroke="#111" stroke-width="0.35">***</text>
<text x="680.9" y="567.4" font-size="24.6" fill="#2a22b8" text-anchor="middle" font-weight="normal" font-style="normal" stroke="#2a22b8" stroke-width="0.35">***</text>
<text x="735.8" y="582.0" font-size="16" fill="#111" text-anchor="middle" font-weight="normal" font-style="normal" >ns</text>
<text x="735.8" y="596.3" font-size="16" fill="#2a22b8" text-anchor="middle" font-weight="normal" font-style="normal" >ns</text>
<text transform="translate(435.6 668.2) rotate(-90)" font-size="16.8" fill="#111" text-anchor="middle">Temperature sensitivity (d °C<tspan font-size="10" dy="-6">-1</tspan><tspan dy="6">)</tspan></text>
</g>
<g id="panel-e">
<text x="819.5" y="470.7" font-size="24.5" fill="#000" text-anchor="start" font-weight="bold" font-style="normal" >e</text>
<rect x="895.70" y="576.00" width="50.20" height="269.50" fill="#a4cdf3" stroke="none" stroke-width="1" />
<rect x="945.90" y="576.00" width="53.90" height="269.50" fill="#c3ddf7" stroke="none" stroke-width="1" />
<rect x="1034.20" y="576.00" width="50.90" height="269.50" fill="#f9ddd5" stroke="none" stroke-width="1" />
<rect x="1085.10" y="576.00" width="53.20" height="269.50" fill="#f5c2b4" stroke="none" stroke-width="1" />
<clipPath id="tc0"><rect x="884.60" y="490.6" width="57.40" height="64.60"/></clipPath>
<g clip-path="url(#tc0)">
<rect x="884.60" y="490.60" width="57.40" height="64.60" fill="#bfd6ee" stroke="none" stroke-width="1" />
<g filter="url(#b2)">
<rect x="884.60" y="542.28" width="57.40" height="12.92" fill="#e6dfe6" stroke="none" stroke-width="1" />
<rect x="911.00" y="542.28" width="5.17" height="12.92" fill="#8a4c50" stroke="none" stroke-width="1" />
<ellipse cx="912.4" cy="493.7" rx="4.2" ry="4.4" fill="#719354"/>
<ellipse cx="918.2" cy="491.7" rx="4.2" ry="4.4" fill="#719354"/>
<ellipse cx="923.2" cy="494.1" rx="4.2" ry="4.4" fill="#719354"/>
<ellipse cx="926.9" cy="493.2" rx="4.2" ry="4.4" fill="#719354"/>
<ellipse cx="930.2" cy="491.7" rx="4.2" ry="4.4" fill="#719354"/>
<ellipse cx="935.4" cy="491.8" rx="4.2" ry="4.4" fill="#50783c"/>
<ellipse cx="939.1" cy="492.2" rx="4.2" ry="4.4" fill="#50783c"/>
<ellipse cx="910.0" cy="498.8" rx="4.2" ry="4.4" fill="#86a663"/>
<ellipse cx="914.1" cy="498.1" rx="4.2" ry="4.4" fill="#86a663"/>
<ellipse cx="917.3" cy="496.8" rx="4.2" ry="4.4" fill="#86a663"/>
<ellipse cx="921.6" cy="496.4" rx="4.2" ry="4.4" fill="#86a663"/>
<ellipse cx="927.2" cy="497.3" rx="4.2" ry="4.4" fill="#86a663"/>
<ellipse cx="931.8" cy="497.2" rx="4.2" ry="4.4" fill="#86a663"/>
<ellipse cx="936.4" cy="498.4" rx="4.2" ry="4.4" fill="#729654"/>
<ellipse cx="938.6" cy="496.8" rx="4.2" ry="4.4" fill="#729654"/>
<ellipse cx="892.3" cy="501.9" rx="4.2" ry="4.4" fill="#4f793e"/>
<ellipse cx="894.7" cy="502.5" rx="4.2" ry="4.4" fill="#537d41"/>
<ellipse cx="900.7" cy="501.5" rx="4.2" ry="4.4" fill="#5e8746"/>
<ellipse cx="903.5" cy="501.7" rx="4.2" ry="4.4" fill="#7b9e5c"/>
<ellipse cx="910.0" cy="502.8" rx="4.2" ry="4.4" fill="#7b9e5c"/>
<ellipse cx="912.4" cy="501.5" rx="4.2" ry="4.4" fill="#7b9e5c"/>
<ellipse cx="916.8" cy="501.0" rx="4.2" ry="4.4" fill="#7b9e5c"/>
<ellipse cx="922.8" cy="501.3" rx="4.2" ry="4.4" fill="#7b9e5c"/>
<ellipse cx="926.7" cy="502.0" rx="4.2" ry="4.4" fill="#7b9e5c"/>
<ellipse cx="930.3" cy="502.7" rx="4.2" ry="4.4" fill="#7b9e5c"/>
<ellipse cx="934.5" cy="502.5" rx="4.2" ry="4.4" fill="#608a48"/>
<ellipse cx="938.9" cy="501.9" rx="4.2" ry="4.4" fill="#608a48"/>
<ellipse cx="886.1" cy="506.2" rx="4.2" ry="4.4" fill="#3b6331"/>
<ellipse cx="892.3" cy="507.5" rx="4.2" ry="4.4" fill="#436b35"/>
<ellipse cx="895.2" cy="507.7" rx="4.2" ry="4.4" fill="#476f37"/>
<ellipse cx="899.4" cy="506.5" rx="4.2" ry="4.4" fill="#4c743a"/>
<ellipse cx="905.3" cy="507.1" rx="4.2" ry="4.4" fill="#719354"/>
<ellipse cx="908.0" cy="508.0" rx="4.2" ry="4.4" fill="#719354"/>
<ellipse cx="912.6" cy="506.1" rx="4.2" ry="4.4" fill="#719354"/>
<ellipse cx="918.3" cy="506.3" rx="4.2" ry="4.4" fill="#719354"/>
<ellipse cx="921.7" cy="505.6" rx="4.2" ry="4.4" fill="#719354"/>
<ellipse cx="925.6" cy="507.0" rx="4.2" ry="4.4" fill="#719354"/>
<ellipse cx="930.4" cy="507.0" rx="4.2" ry="4.4" fill="#719354"/>
<ellipse cx="935.1" cy="506.6" rx="4.2" ry="4.4" fill="#50783c"/>
<ellipse cx="940.8" cy="506.7" rx="4.2" ry="4.4" fill="#50783c"/>
<ellipse cx="887.0" cy="512.3" rx="4.2" ry="4.4" fill="#517640"/>
<ellipse cx="890.5" cy="510.5" rx="4.2" ry="4.4" fill="#597e45"/>
<ellipse cx="896.6" cy="512.2" rx="4.2" ry="4.4" fill="#668b4d"/>
<ellipse cx="899.5" cy="510.6" rx="4.2" ry="4.4" fill="#6c9151"/>
<ellipse cx="905.0" cy="512.5" rx="4.2" ry="4.4" fill="#86a663"/>
<ellipse cx="908.2" cy="512.5" rx="4.2" ry="4.4" fill="#86a663"/>
<ellipse cx="914.2" cy="511.6" rx="4.2" ry="4.4" fill="#86a663"/>
<ellipse cx="917.5" cy="510.3" rx="4.2" ry="4.4" fill="#86a663"/>
<ellipse cx="921.1" cy="512.6" rx="4.2" ry="4.4" fill="#86a663"/>
<ellipse cx="925.9" cy="511.9" rx="4.2" ry="4.4" fill="#86a663"/>
<ellipse cx="930.4" cy="512.2" rx="4.2" ry="4.4" fill="#86a663"/>
<ellipse cx="935.6" cy="510.8" rx="4.2" ry="4.4" fill="#729654"/>
<ellipse cx="939.0" cy="511.9" rx="4.2" ry="4.4" fill="#729654"/>
<ellipse cx="885.8" cy="515.3" rx="4.2" ry="4.4" fill="#446d38"/>
<ellipse cx="891.4" cy="516.9" rx="4.2" ry="4.4" fill="#4d773d"/>
<ellipse cx="895.9" cy="515.4" rx="4.2" ry="4.4" fill="#557f42"/>
<ellipse cx="901.0" cy="515.2" rx="4.2" ry="4.4" fill="#5e8847"/>
<ellipse cx="903.4" cy="515.4" rx="4.2" ry="4.4" fill="#7b9e5c"/>
<ellipse cx="908.8" cy="514.8" rx="4.2" ry="4.4" fill="#7b9e5c"/>
<ellipse cx="912.6" cy="515.6" rx="4.2" ry="4.4" fill="#7b9e5c"/>
<ellipse cx="917.9" cy="515.0" rx="4.2" ry="4.4" fill="#7b9e5c"/>
<ellipse cx="921.8" cy="517.0" rx="4.2" ry="4.4" fill="#7b9e5c"/>
<ellipse cx="927.6" cy="516.4" rx="4.2" ry="4.4" fill="#7b9e5c"/>
<ellipse cx="931.4" cy="516.2" rx="4.2" ry="4.4" fill="#7b9e5c"/>
<ellipse cx="934.6" cy="514.8" rx="4.2" ry="4.4" fill="#608a48"/>
<ellipse cx="938.7" cy="517.0" rx="4.2" ry="4.4" fill="#608a48"/>
<ellipse cx="887.3" cy="521.8" rx="4.2" ry="4.4" fill="#3c6432"/>
<ellipse cx="890.1" cy="520.9" rx="4.2" ry="4.4" fill="#406834"/>
<ellipse cx="895.6" cy="521.2" rx="4.2" ry="4.4" fill="#476f37"/>
<ellipse cx="899.6" cy="521.9" rx="4.2" ry="4.4" fill="#4d753a"/>
<ellipse cx="903.5" cy="520.7" rx="4.2" ry="4.4" fill="#719354"/>
<ellipse cx="909.4" cy="521.6" rx="4.2" ry="4.4" fill="#719354"/>
<ellipse cx="913.8" cy="521.1" rx="4.2" ry="4.4" fill="#719354"/>
<ellipse cx="918.4" cy="521.7" rx="4.2" ry="4.4" fill="#719354"/>
<ellipse cx="921.8" cy="521.1" rx="4.2" ry="4.4" fill="#719354"/>
<ellipse cx="927.5" cy="521.6" rx="4.2" ry="4.4" fill="#719354"/>
<ellipse cx="930.8" cy="521.3" rx="4.2" ry="4.4" fill="#719354"/>
<ellipse cx="936.2" cy="520.8" rx="4.2" ry="4.4" fill="#50783c"/>
<ellipse cx="940.1" cy="520.3" rx="4.2" ry="4.4" fill="#50783c"/>
<ellipse cx="887.0" cy="525.5" rx="4.2" ry="4.4" fill="#517741"/>
<ellipse cx="890.3" cy="525.6" rx="4.2" ry="4.4" fill="#587d45"/>
<ellipse cx="896.8" cy="526.2" rx="4.2" ry="4.4" fill="#668b4d"/>
<ellipse cx="900.6" cy="524.9" rx="4.2" ry="4.4" fill="#6f9352"/>
<ellipse cx="905.0" cy="525.4" rx="4.2" ry="4.4" fill="#86a663"/>
<ellipse cx="908.7" cy="526.1" rx="4.2" ry="4.4" fill="#86a663"/>
<ellipse cx="912.3" cy="525.9" rx="4.2" ry="4.4" fill="#86a663"/>
<ellipse cx="916.6" cy="525.5" rx="4.2" ry="4.4" fill="#86a663"/>
<ellipse cx="922.1" cy="524.5" rx="4.2" ry="4.4" fill="#86a663"/>
<ellipse cx="927.0" cy="525.2" rx="4.2" ry="4.4" fill="#86a663"/>
<ellipse cx="931.2" cy="526.3" rx="4.2" ry="4.4" fill="#86a663"/>
<ellipse cx="934.8" cy="523.9" rx="4.2" ry="4.4" fill="#729654"/>
<ellipse cx="939.3" cy="525.7" rx="4.2" ry="4.4" fill="#729654"/>
<ellipse cx="886.1" cy="529.0" rx="4.2" ry="4.4" fill="#446e38"/>
<ellipse cx="892.2" cy="530.2" rx="4.2" ry="4.4" fill="#4f783e"/>
<ellipse cx="895.5" cy="530.8" rx="4.2" ry="4.4" fill="#557e41"/>
<ellipse cx="899.7" cy="530.3" rx="4.2" ry="4.4" fill="#5c8645"/>
<ellipse cx="903.8" cy="529.6" rx="4.2" ry="4.4" fill="#608a48"/>
<ellipse cx="909.6" cy="530.9" rx="4.2" ry="4.4" fill="#608a48"/>
<ellipse cx="914.2" cy="529.5" rx="4.2" ry="4.4" fill="#608a48"/>
<ellipse cx="917.9" cy="529.3" rx="4.2" ry="4.4" fill="#7b9e5c"/>
<ellipse cx="921.3" cy="529.8" rx="4.2" ry="4.4" fill="#608a48"/>
<ellipse cx="927.3" cy="530.7" rx="4.2" ry="4.4" fill="#608a48"/>
<ellipse cx="931.4" cy="531.0" rx="4.2" ry="4.4" fill="#608a48"/>
<ellipse cx="934.9" cy="529.0" rx="4.2" ry="4.4" fill="#608a48"/>
<ellipse cx="939.7" cy="529.2" rx="4.2" ry="4.4" fill="#608a48"/>
<ellipse cx="886.2" cy="534.2" rx="4.2" ry="4.4" fill="#3b6331"/>
<ellipse cx="891.5" cy="534.4" rx="4.2" ry="4.4" fill="#426a35"/>
<ellipse cx="895.2" cy="535.3" rx="4.2" ry="4.4" fill="#476f37"/>
<ellipse cx="901.2" cy="534.3" rx="4.2" ry="4.4" fill="#4f773b"/>
<ellipse cx="903.5" cy="533.2" rx="4.2" ry="4.4" fill="#50783c"/>
<ellipse cx="909.7" cy="533.3" rx="4.2" ry="4.4" fill="#50783c"/>
<ellipse cx="913.8" cy="534.6" rx="4.2" ry="4.4" fill="#50783c"/>
<ellipse cx="917.3" cy="535.2" rx="4.2" ry="4.4" fill="#50783c"/>
<ellipse cx="921.0" cy="533.5" rx="4.2" ry="4.4" fill="#50783c"/>
<ellipse cx="926.4" cy="533.2" rx="4.2" ry="4.4" fill="#50783c"/>
<ellipse cx="931.7" cy="533.8" rx="4.2" ry="4.4" fill="#50783c"/>
<ellipse cx="934.6" cy="533.3" rx="4.2" ry="4.4" fill="#50783c"/>
<ellipse cx="940.1" cy="534.3" rx="4.2" ry="4.4" fill="#50783c"/>
<ellipse cx="887.1" cy="539.5" rx="4.2" ry="4.4" fill="#517741"/>
<ellipse cx="891.9" cy="540.2" rx="4.2" ry="4.4" fill="#5c8147"/>
<ellipse cx="896.1" cy="538.3" rx="4.2" ry="4.4" fill="#65894c"/>
<ellipse cx="900.0" cy="538.2" rx="4.2" ry="4.4" fill="#6d9151"/>
<ellipse cx="903.3" cy="539.0" rx="4.2" ry="4.4" fill="#6b9050"/>
<ellipse cx="909.4" cy="538.2" rx="4.2" ry="4.4" fill="#6d9151"/>
<ellipse cx="912.8" cy="538.7" rx="4.2" ry="4.4" fill="#6c9050"/>
<ellipse cx="918.2" cy="539.1" rx="4.2" ry="4.4" fill="#6b8f50"/>
<ellipse cx="922.4" cy="539.7" rx="4.2" ry="4.4" fill="#6a8e4f"/>
<ellipse cx="926.3" cy="539.8" rx="4.2" ry="4.4" fill="#6a8e4f"/>
<ellipse cx="931.9" cy="538.0" rx="4.2" ry="4.4" fill="#6d9151"/>
<ellipse cx="936.4" cy="539.6" rx="4.2" ry="4.4" fill="#6a8e4f"/>
<ellipse cx="938.9" cy="538.9" rx="4.2" ry="4.4" fill="#6b9050"/>
<ellipse cx="887.1" cy="544.7" rx="4.2" ry="4.4" fill="#466f39"/>
<ellipse cx="890.9" cy="543.8" rx="4.2" ry="4.4" fill="#4d763d"/>
<ellipse cx="896.5" cy="544.4" rx="4.2" ry="4.4" fill="#527c40"/>
<ellipse cx="901.1" cy="543.6" rx="4.2" ry="4.4" fill="#547d41"/>
<ellipse cx="904.8" cy="542.9" rx="4.2" ry="4.4" fill="#557e41"/>
<ellipse cx="909.4" cy="544.5" rx="4.2" ry="4.4" fill="#527c40"/>
<ellipse cx="913.6" cy="544.2" rx="4.2" ry="4.4" fill="#537c40"/>
<ellipse cx="917.1" cy="544.7" rx="4.2" ry="4.4" fill="#527b40"/>
<ellipse cx="923.2" cy="544.9" rx="4.2" ry="4.4" fill="#527b40"/>
<ellipse cx="926.6" cy="544.4" rx="4.2" ry="4.4" fill="#527c40"/>
<ellipse cx="930.5" cy="544.7" rx="4.2" ry="4.4" fill="#527b40"/>
<ellipse cx="936.2" cy="543.3" rx="4.2" ry="4.4" fill="#547e41"/>
<ellipse cx="938.8" cy="543.5" rx="4.2" ry="4.4" fill="#547d41"/>
<ellipse cx="886.9" cy="549.0" rx="4.2" ry="4.4" fill="#3c6432"/>
<ellipse cx="891.2" cy="547.1" rx="4.2" ry="4.4" fill="#426a35"/>
<ellipse cx="896.3" cy="547.2" rx="4.2" ry="4.4" fill="#426a35"/>
<ellipse cx="900.7" cy="547.4" rx="4.2" ry="4.4" fill="#426a35"/>
<ellipse cx="904.1" cy="549.0" rx="4.2" ry="4.4" fill="#406834"/>
<ellipse cx="908.1" cy="547.4" rx="4.2" ry="4.4" fill="#426a35"/>
<ellipse cx="923.2" cy="548.3" rx="4.2" ry="4.4" fill="#416934"/>
<ellipse cx="927.6" cy="547.2" rx="4.2" ry="4.4" fill="#426a35"/>
<ellipse cx="930.3" cy="548.3" rx="4.2" ry="4.4" fill="#416934"/>
<ellipse cx="934.9" cy="548.9" rx="4.2" ry="4.4" fill="#406834"/>
<ellipse cx="940.1" cy="548.3" rx="4.2" ry="4.4" fill="#416934"/>
<ellipse cx="887.6" cy="553.0" rx="4.2" ry="4.4" fill="#507540"/>
<ellipse cx="890.8" cy="552.6" rx="4.2" ry="4.4" fill="#517640"/>
<ellipse cx="896.4" cy="553.9" rx="4.2" ry="4.4" fill="#4e743f"/>
<ellipse cx="899.4" cy="553.8" rx="4.2" ry="4.4" fill="#4e743f"/>
<ellipse cx="905.5" cy="553.0" rx="4.2" ry="4.4" fill="#507640"/>
<ellipse cx="931.1" cy="552.9" rx="4.2" ry="4.4" fill="#507640"/>
<ellipse cx="935.8" cy="551.8" rx="4.2" ry="4.4" fill="#527841"/>
<ellipse cx="939.9" cy="552.7" rx="4.2" ry="4.4" fill="#517640"/>
<ellipse cx="939.5" cy="550.3" rx="1.7" ry="1.7" fill="#557b43"/>
<ellipse cx="904.1" cy="548.8" rx="2.2" ry="1.2" fill="#375d2d"/>
<ellipse cx="899.5" cy="536.0" rx="1.3" ry="1.2" fill="#4d753a"/>
<ellipse cx="885.3" cy="509.0" rx="1.9" ry="1.9" fill="#406634"/>
<ellipse cx="890.6" cy="537.8" rx="2.9" ry="1.9" fill="#416934"/>
<ellipse cx="925.8" cy="535.9" rx="1.2" ry="1.9" fill="#416731"/>
<ellipse cx="932.0" cy="530.4" rx="1.6" ry="1.9" fill="#82a260"/>
<ellipse cx="921.2" cy="524.8" rx="2.3" ry="1.8" fill="#61814b"/>
<ellipse cx="892.4" cy="549.7" rx="2.8" ry="2.3" fill="#466d38"/>
<ellipse cx="902.7" cy="510.9" rx="1.6" ry="2.4" fill="#7b9e5c"/>
<ellipse cx="935.5" cy="499.3" rx="1.5" ry="1.1" fill="#608a48"/>
<ellipse cx="906.9" cy="518.7" rx="2.3" ry="2.0" fill="#68894e"/>
<ellipse cx="896.1" cy="531.2" rx="1.2" ry="1.3" fill="#34582c"/>
<ellipse cx="940.2" cy="498.1" rx="2.5" ry="1.5" fill="#82a260"/>
<ellipse cx="941.9" cy="544.4" rx="1.3" ry="1.1" fill="#32572b"/>
<ellipse cx="886.7" cy="526.2" rx="3.0" ry="1.7" fill="#5a7d47"/>
<ellipse cx="894.5" cy="500.8" rx="3.1" ry="1.1" fill="#61864a"/>
<ellipse cx="888.2" cy="552.1" rx="1.4" ry="1.1" fill="#345b2c"/>
<ellipse cx="907.0" cy="518.1" rx="2.1" ry="1.8" fill="#86a663"/>
<ellipse cx="885.4" cy="535.9" rx="1.6" ry="1.6" fill="#2c5229"/>
<ellipse cx="905.2" cy="514.5" rx="2.4" ry="1.1" fill="#7b9e5c"/>
<ellipse cx="930.1" cy="511.5" rx="2.8" ry="2.0" fill="#719354"/>
<ellipse cx="934.0" cy="531.3" rx="2.3" ry="1.3" fill="#426832"/>
<ellipse cx="918.2" cy="512.6" rx="1.7" ry="2.3" fill="#61814b"/>
<ellipse cx="927.3" cy="540.9" rx="3.1" ry="1.2" fill="#34592c"/>
<ellipse cx="903.5" cy="525.4" rx="2.7" ry="2.1" fill="#86a663"/>
<ellipse cx="907.9" cy="537.3" rx="2.8" ry="1.4" fill="#4e763b"/>
<ellipse cx="890.4" cy="548.0" rx="3.0" ry="1.1" fill="#486e38"/>
<ellipse cx="900.3" cy="552.7" rx="1.9" ry="1.9" fill="#517640"/>
<ellipse cx="917.3" cy="525.0" rx="2.2" ry="1.7" fill="#68894e"/>
<ellipse cx="907.3" cy="527.7" rx="2.4" ry="2.0" fill="#719354"/>
<ellipse cx="899.3" cy="516.5" rx="2.7" ry="1.9" fill="#4c743a"/>
<ellipse cx="885.2" cy="507.3" rx="3.0" ry="1.8" fill="#4d733e"/>
<ellipse cx="921.2" cy="542.9" rx="2.3" ry="1.9" fill="#476f37"/>
<ellipse cx="939.4" cy="515.6" rx="2.0" ry="2.4" fill="#608a48"/>
<ellipse cx="933.7" cy="525.6" rx="1.3" ry="2.3" fill="#82a260"/>
<ellipse cx="908.7" cy="524.6" rx="1.8" ry="1.7" fill="#91ae6b"/>
<ellipse cx="912.3" cy="508.0" rx="2.5" ry="2.0" fill="#86a663"/>
<ellipse cx="886.1" cy="540.5" rx="1.3" ry="1.2" fill="#597c47"/>
<ellipse cx="927.9" cy="515.8" rx="2.7" ry="1.1" fill="#86a663"/>
<ellipse cx="941.4" cy="551.6" rx="2.8" ry="1.3" fill="#3d6532"/>
<ellipse cx="925.9" cy="506.8" rx="1.7" ry="1.7" fill="#61814b"/>
<ellipse cx="938.4" cy="537.3" rx="1.5" ry="2.3" fill="#406631"/>
<ellipse cx="898.7" cy="536.2" rx="2.4" ry="1.6" fill="#4b7339"/>
<ellipse cx="914.9" cy="498.6" rx="1.5" ry="1.6" fill="#68894e"/>
<ellipse cx="919.1" cy="531.9" rx="2.0" ry="2.1" fill="#5a8042"/>
<ellipse cx="939.3" cy="538.0" rx="2.2" ry="1.7" fill="#5c8646"/>
<ellipse cx="902.3" cy="523.4" rx="1.9" ry="1.4" fill="#61814b"/>
<ellipse cx="923.9" cy="527.1" rx="1.6" ry="1.4" fill="#91ae6b"/>
<ellipse cx="898.3" cy="552.1" rx="3.2" ry="2.3" fill="#5c7f48"/>
<ellipse cx="935.0" cy="493.2" rx="1.2" ry="1.4" fill="#50783c"/>
<ellipse cx="897.4" cy="508.6" rx="1.4" ry="1.9" fill="#34592c"/>
<ellipse cx="916.2" cy="531.4" rx="2.2" ry="1.5" fill="#729654"/>
<ellipse cx="904.0" cy="522.5" rx="2.9" ry="1.1" fill="#7b9e5c"/>
<ellipse cx="891.5" cy="542.9" rx="2.9" ry="2.1" fill="#66894f"/>
<ellipse cx="910.1" cy="538.9" rx="2.8" ry="1.5" fill="#3f6530"/>
<ellipse cx="903.3" cy="526.0" rx="2.9" ry="1.3" fill="#779858"/>
<ellipse cx="922.1" cy="528.1" rx="3.0" ry="1.1" fill="#68894e"/>
<ellipse cx="889.4" cy="527.0" rx="2.8" ry="1.6" fill="#365c2d"/>
<ellipse cx="931.9" cy="491.2" rx="1.6" ry="1.9" fill="#86a663"/>
<ellipse cx="889.3" cy="510.2" rx="2.7" ry="1.5" fill="#466d37"/>
<ellipse cx="935.2" cy="504.7" rx="2.7" ry="1.5" fill="#5a8042"/>
<ellipse cx="891.3" cy="536.4" rx="2.4" ry="2.3" fill="#66884f"/>
<ellipse cx="924.0" cy="508.6" rx="2.8" ry="1.4" fill="#91ae6b"/>
<ellipse cx="902.8" cy="516.4" rx="3.0" ry="1.3" fill="#779858"/>
<ellipse cx="905.4" cy="514.2" rx="2.6" ry="1.8" fill="#86a663"/>
<ellipse cx="930.3" cy="538.3" rx="2.8" ry="1.8" fill="#6d9151"/>
<ellipse cx="932.6" cy="527.0" rx="1.4" ry="1.6" fill="#7b9e5c"/>
<ellipse cx="933.7" cy="543.0" rx="2.2" ry="1.8" fill="#547e41"/>
<ellipse cx="922.0" cy="542.6" rx="2.4" ry="1.4" fill="#487038"/>
<ellipse cx="915.9" cy="512.2" rx="2.7" ry="2.3" fill="#86a663"/>
<ellipse cx="889.5" cy="531.6" rx="1.4" ry="2.1" fill="#4a743c"/>
<ellipse cx="908.8" cy="536.6" rx="2.7" ry="1.7" fill="#416731"/>
<ellipse cx="928.5" cy="516.1" rx="2.8" ry="1.5" fill="#86a663"/>
<ellipse cx="892.4" cy="522.1" rx="2.6" ry="2.0" fill="#31562b"/>
<ellipse cx="937.1" cy="517.1" rx="3.2" ry="1.5" fill="#385c2e"/>
<ellipse cx="884.8" cy="515.0" rx="3.0" ry="2.3" fill="#396130"/>
<ellipse cx="921.4" cy="524.4" rx="1.2" ry="1.2" fill="#779858"/>
<ellipse cx="937.6" cy="549.7" rx="2.7" ry="2.4" fill="#4a743c"/>
<ellipse cx="906.2" cy="501.4" rx="2.0" ry="1.7" fill="#7b9e5c"/>
<ellipse cx="900.3" cy="547.8" rx="1.8" ry="1.2" fill="#375e2d"/>
<ellipse cx="921.8" cy="540.7" rx="3.0" ry="2.1" fill="#588243"/>
<ellipse cx="885.6" cy="521.7" rx="1.3" ry="1.2" fill="#2c5229"/>
<ellipse cx="895.2" cy="504.6" rx="2.4" ry="1.7" fill="#547e41"/>
<ellipse cx="913.8" cy="519.2" rx="2.0" ry="2.3" fill="#86a663"/>
<ellipse cx="938.4" cy="531.1" rx="2.3" ry="2.2" fill="#385c2e"/>
<ellipse cx="912.4" cy="516.6" rx="2.5" ry="2.1" fill="#86a663"/>
<ellipse cx="889.9" cy="546.3" rx="1.3" ry="2.3" fill="#365d2d"/>
<ellipse cx="930.6" cy="515.5" rx="2.8" ry="2.1" fill="#91ae6b"/>
<ellipse cx="929.8" cy="494.3" rx="3.0" ry="2.2" fill="#7b9e5c"/>
<ellipse cx="936.6" cy="519.7" rx="2.6" ry="1.8" fill="#608a48"/>
<ellipse cx="893.6" cy="500.7" rx="1.5" ry="2.3" fill="#608449"/>
<ellipse cx="931.1" cy="499.1" rx="3.2" ry="1.4" fill="#779858"/>
<ellipse cx="915.3" cy="500.3" rx="1.6" ry="1.3" fill="#61814b"/>
<ellipse cx="937.2" cy="500.2" rx="1.4" ry="1.4" fill="#608a48"/>
<ellipse cx="925.7" cy="496.9" rx="2.6" ry="1.1" fill="#68894e"/>
<ellipse cx="927.6" cy="525.7" rx="1.8" ry="2.1" fill="#91ae6b"/>
<ellipse cx="889.8" cy="544.0" rx="1.3" ry="1.6" fill="#4b743c"/>
<ellipse cx="939.9" cy="511.0" rx="1.4" ry="1.4" fill="#426832"/>
<ellipse cx="911.4" cy="536.8" rx="1.3" ry="1.2" fill="#709452"/>
<ellipse cx="922.9" cy="534.3" rx="3.1" ry="2.2" fill="#5a8042"/>
<ellipse cx="922.1" cy="491.4" rx="2.6" ry="1.7" fill="#68894e"/>
<ellipse cx="928.9" cy="545.9" rx="2.8" ry="1.3" fill="#31562b"/>
<ellipse cx="920.0" cy="509.4" rx="3.1" ry="2.0" fill="#68894e"/>
<ellipse cx="939.4" cy="539.4" rx="2.5" ry="1.4" fill="#799a5a"/>
<ellipse cx="896.1" cy="537.9" rx="1.8" ry="1.4" fill="#65894c"/>
<ellipse cx="911.6" cy="532.0" rx="2.9" ry="1.1" fill="#426832"/>
<ellipse cx="923.5" cy="536.4" rx="1.6" ry="1.1" fill="#5f8947"/>
<ellipse cx="911.2" cy="536.1" rx="1.7" ry="1.2" fill="#4f773b"/>
<ellipse cx="891.7" cy="516.9" rx="1.9" ry="2.2" fill="#426a35"/>
<ellipse cx="937.8" cy="499.6" rx="2.7" ry="2.1" fill="#608a48"/>
<ellipse cx="906.8" cy="512.0" rx="2.4" ry="2.0" fill="#68894e"/>
<ellipse cx="919.8" cy="511.1" rx="2.8" ry="1.9" fill="#61814b"/>
<ellipse cx="919.5" cy="491.8" rx="1.6" ry="1.4" fill="#86a663"/>
<ellipse cx="909.9" cy="526.6" rx="2.2" ry="2.1" fill="#7b9e5c"/>
<ellipse cx="932.0" cy="530.1" rx="1.7" ry="1.8" fill="#608a48"/>
<ellipse cx="901.7" cy="505.7" rx="2.2" ry="1.2" fill="#81a15f"/>
<ellipse cx="914.2" cy="536.8" rx="3.1" ry="1.8" fill="#375b2d"/>
<ellipse cx="886.1" cy="533.2" rx="1.4" ry="1.3" fill="#2d5229"/>
<ellipse cx="917.7" cy="535.6" rx="1.4" ry="2.2" fill="#729654"/>
<ellipse cx="899.9" cy="547.6" rx="3.1" ry="1.2" fill="#385e2d"/>
<ellipse cx="936.5" cy="525.7" rx="1.3" ry="2.3" fill="#82a260"/>
<ellipse cx="894.3" cy="538.8" rx="1.9" ry="1.2" fill="#32572b"/>
<ellipse cx="938.2" cy="490.8" rx="3.0" ry="1.3" fill="#5a8042"/>
<ellipse cx="917.5" cy="544.3" rx="2.4" ry="2.1" fill="#537c40"/>
<ellipse cx="910.7" cy="516.7" rx="3.2" ry="2.3" fill="#61814b"/>
<ellipse cx="922.4" cy="510.5" rx="2.9" ry="2.3" fill="#779858"/>
<ellipse cx="919.9" cy="532.0" rx="1.2" ry="1.3" fill="#385c2e"/>
<ellipse cx="911.5" cy="499.8" rx="1.4" ry="1.6" fill="#68894e"/>
<ellipse cx="903.9" cy="499.1" rx="2.3" ry="1.5" fill="#7b9e5c"/>
<ellipse cx="921.4" cy="493.0" rx="2.8" ry="1.6" fill="#779858"/>
<ellipse cx="913.2" cy="497.2" rx="2.0" ry="1.9" fill="#86a663"/>
<ellipse cx="924.2" cy="539.6" rx="1.8" ry="2.2" fill="#355a2d"/>
<ellipse cx="924.2" cy="543.9" rx="2.3" ry="2.3" fill="#466e37"/>
<ellipse cx="914.8" cy="524.5" rx="2.0" ry="1.0" fill="#68894e"/>
<ellipse cx="936.7" cy="509.7" rx="3.0" ry="2.0" fill="#82a260"/>
<ellipse cx="918.9" cy="539.2" rx="3.0" ry="2.2" fill="#6b8f50"/>
<ellipse cx="898.6" cy="545.1" rx="2.2" ry="1.6" fill="#517b3f"/>
<ellipse cx="887.6" cy="535.5" rx="3.0" ry="1.8" fill="#5c7f49"/>
<ellipse cx="935.1" cy="555.2" rx="3.1" ry="1.9" fill="#3f6534"/>
<ellipse cx="934.3" cy="517.8" rx="1.5" ry="1.9" fill="#385c2e"/>
<ellipse cx="908.8" cy="498.5" rx="1.4" ry="2.1" fill="#719354"/>
<ellipse cx="891.7" cy="525.3" rx="1.2" ry="1.3" fill="#385f2e"/>
<ellipse cx="901.8" cy="511.6" rx="2.1" ry="1.6" fill="#4f773b"/>
<ellipse cx="915.0" cy="499.7" rx="2.4" ry="1.1" fill="#779858"/>
<ellipse cx="886.4" cy="548.6" rx="1.8" ry="1.2" fill="#507540"/>
<ellipse cx="929.2" cy="540.8" rx="1.6" ry="2.2" fill="#588243"/>
<ellipse cx="924.4" cy="494.4" rx="2.9" ry="1.5" fill="#86a663"/>
<ellipse cx="911.7" cy="501.7" rx="3.2" ry="1.3" fill="#779858"/>
<ellipse cx="920.9" cy="503.0" rx="2.5" ry="1.4" fill="#719354"/>
<ellipse cx="931.5" cy="552.7" rx="2.9" ry="2.0" fill="#517640"/>
<ellipse cx="892.3" cy="535.6" rx="2.1" ry="1.1" fill="#31562b"/>
<ellipse cx="897.4" cy="510.4" rx="2.6" ry="1.4" fill="#53793e"/>
<ellipse cx="925.9" cy="523.0" rx="2.8" ry="1.5" fill="#86a663"/>
<ellipse cx="922.6" cy="547.7" rx="2.2" ry="2.4" fill="#66884f"/>
<ellipse cx="936.0" cy="502.3" rx="1.8" ry="1.9" fill="#608a48"/>
<ellipse cx="889.8" cy="554.1" rx="3.0" ry="1.1" fill="#32592b"/>
<ellipse cx="936.7" cy="491.1" rx="1.8" ry="1.4" fill="#82a260"/>
<ellipse cx="930.7" cy="496.2" rx="3.2" ry="1.3" fill="#86a663"/>
<ellipse cx="894.9" cy="538.0" rx="1.6" ry="2.3" fill="#466e37"/>
<ellipse cx="941.3" cy="492.8" rx="3.0" ry="1.8" fill="#426832"/>
<ellipse cx="884.8" cy="548.2" rx="1.6" ry="1.8" fill="#396130"/>
<ellipse cx="921.6" cy="513.8" rx="2.2" ry="1.0" fill="#779858"/>
<ellipse cx="901.3" cy="544.0" rx="2.6" ry="1.7" fill="#4e743c"/>
<ellipse cx="939.2" cy="501.8" rx="2.7" ry="1.2" fill="#385c2e"/>
<ellipse cx="909.6" cy="533.8" rx="2.7" ry="2.1" fill="#82a260"/>
<ellipse cx="930.0" cy="505.8" rx="2.3" ry="2.2" fill="#68894e"/>
<ellipse cx="919.2" cy="507.5" rx="2.4" ry="2.0" fill="#7b9e5c"/>
<ellipse cx="917.5" cy="547.0" rx="1.9" ry="1.9" fill="#4e783e"/>
<ellipse cx="919.5" cy="542.7" rx="2.1" ry="1.4" fill="#729356"/>
<ellipse cx="930.4" cy="495.3" rx="2.3" ry="1.8" fill="#7b9e5c"/>
<ellipse cx="930.0" cy="506.0" rx="1.3" ry="1.6" fill="#7b9e5c"/>
<ellipse cx="924.5" cy="543.5" rx="2.3" ry="1.4" fill="#4f753c"/>
<ellipse cx="918.4" cy="496.3" rx="2.2" ry="1.5" fill="#61814b"/>
<ellipse cx="898.8" cy="522.7" rx="2.9" ry="2.1" fill="#557b3f"/>
<ellipse cx="888.1" cy="517.1" rx="2.6" ry="2.0" fill="#537942"/>
<ellipse cx="939.5" cy="498.9" rx="2.7" ry="2.4" fill="#385c2e"/>
<ellipse cx="892.9" cy="520.0" rx="3.2" ry="1.0" fill="#4c723a"/>
<ellipse cx="908.1" cy="524.6" rx="2.0" ry="1.4" fill="#719354"/>
<ellipse cx="909.0" cy="495.5" rx="2.6" ry="2.0" fill="#719354"/>
<ellipse cx="940.6" cy="530.2" rx="1.7" ry="1.8" fill="#729654"/>
<ellipse cx="898.5" cy="520.4" rx="1.9" ry="1.5" fill="#5a8444"/>
<ellipse cx="940.9" cy="530.1" rx="1.5" ry="1.8" fill="#50783c"/>
<ellipse cx="941.7" cy="538.2" rx="2.6" ry="2.2" fill="#7c9c5c"/>
<ellipse cx="918.5" cy="547.9" rx="2.9" ry="2.3" fill="#375e2d"/>
<ellipse cx="896.8" cy="515.1" rx="1.6" ry="1.5" fill="#497138"/>
<ellipse cx="895.1" cy="526.1" rx="2.2" ry="1.6" fill="#547e41"/>
<ellipse cx="918.7" cy="539.7" rx="2.1" ry="2.4" fill="#3e6430"/>
<ellipse cx="923.6" cy="546.3" rx="2.3" ry="1.6" fill="#4f793e"/>
<ellipse cx="887.3" cy="508.5" rx="2.4" ry="1.7" fill="#527741"/>
<ellipse cx="927.2" cy="523.7" rx="3.0" ry="2.0" fill="#91ae6b"/>
<ellipse cx="900.0" cy="513.9" rx="2.7" ry="2.1" fill="#5c8646"/>
<ellipse cx="892.5" cy="506.2" rx="3.0" ry="1.0" fill="#31562b"/>
<ellipse cx="903.1" cy="515.4" rx="2.9" ry="1.5" fill="#719354"/>
<ellipse cx="899.3" cy="547.4" rx="1.3" ry="1.6" fill="#497039"/>
<ellipse cx="893.3" cy="529.1" rx="1.6" ry="1.6" fill="#446c36"/>
<ellipse cx="912.1" cy="535.4" rx="2.6" ry="1.4" fill="#82a260"/>
<ellipse cx="926.2" cy="533.6" rx="3.0" ry="2.2" fill="#608a48"/>
<ellipse cx="915.3" cy="519.6" rx="2.0" ry="2.2" fill="#7b9e5c"/>
<ellipse cx="897.6" cy="509.5" rx="2.4" ry="1.2" fill="#688d4e"/>
<ellipse cx="933.3" cy="538.9" rx="2.3" ry="2.1" fill="#3f6530"/>
<ellipse cx="940.6" cy="509.9" rx="1.3" ry="2.2" fill="#5a8042"/>
<ellipse cx="916.6" cy="513.4" rx="3.1" ry="2.2" fill="#719354"/>
<ellipse cx="898.1" cy="531.5" rx="2.8" ry="1.2" fill="#4b7339"/>
<ellipse cx="912.9" cy="522.2" rx="1.8" ry="2.0" fill="#86a663"/>
<ellipse cx="897.3" cy="550.4" rx="2.2" ry="1.2" fill="#49723b"/>
<ellipse cx="922.8" cy="506.1" rx="2.7" ry="2.3" fill="#719354"/>
<ellipse cx="930.8" cy="521.5" rx="2.6" ry="1.8" fill="#86a663"/>
<ellipse cx="924.8" cy="492.1" rx="1.4" ry="2.3" fill="#68894e"/>
<ellipse cx="937.0" cy="508.2" rx="2.2" ry="1.8" fill="#426832"/>
<rect x="911.58" y="546.16" width="4.30" height="9.04" fill="#8a4c50" stroke="none" stroke-width="1" />
<ellipse cx="920.2" cy="552.0" rx="5" ry="2.6" fill="#e9e3ea"/>
<ellipse cx="890.3" cy="526.1" rx="2.2" ry="3" fill="#b9d3cf"/>
<ellipse cx="935.1" cy="535.8" rx="2.2" ry="6" fill="#9cc59a"/>
</g></g>
<clipPath id="tc1"><rect x="948.70" y="490.6" width="62.90" height="64.60"/></clipPath>
<g clip-path="url(#tc1)">
<rect x="948.70" y="490.60" width="62.90" height="64.60" fill="#c5dbf2" stroke="none" stroke-width="1" />
<g filter="url(#b2)">
<rect x="948.70" y="545.51" width="62.90" height="9.69" fill="#d8dcd2" stroke="none" stroke-width="1" />
<ellipse cx="964.6" cy="503.4" rx="4.6" ry="4.4" fill="#3e702c"/>
<ellipse cx="970.1" cy="502.0" rx="4.6" ry="4.4" fill="#3e702c"/>
<ellipse cx="975.1" cy="503.2" rx="4.6" ry="4.4" fill="#3e702c"/>
<ellipse cx="981.3" cy="502.2" rx="4.6" ry="4.4" fill="#3e702c"/>
<ellipse cx="984.7" cy="501.1" rx="4.6" ry="4.4" fill="#3e702c"/>
<ellipse cx="990.8" cy="501.3" rx="4.6" ry="4.4" fill="#3e702c"/>
<ellipse cx="960.6" cy="507.6" rx="4.6" ry="4.4" fill="#326024"/>
<ellipse cx="966.7" cy="506.6" rx="4.6" ry="4.4" fill="#326024"/>
<ellipse cx="971.3" cy="506.7" rx="4.6" ry="4.4" fill="#326024"/>
<ellipse cx="975.4" cy="507.0" rx="4.6" ry="4.4" fill="#326024"/>
<ellipse cx="981.4" cy="507.4" rx="4.6" ry="4.4" fill="#326024"/>
<ellipse cx="984.9" cy="507.3" rx="4.6" ry="4.4" fill="#326024"/>
<ellipse cx="990.2" cy="506.4" rx="4.6" ry="4.4" fill="#326024"/>
<ellipse cx="995.4" cy="507.6" rx="4.6" ry="4.4" fill="#326024"/>
<ellipse cx="999.8" cy="507.9" rx="4.6" ry="4.4" fill="#315f23"/>
<ellipse cx="955.8" cy="510.8" rx="4.6" ry="4.4" fill="#2a521e"/>
<ellipse cx="959.6" cy="512.6" rx="4.6" ry="4.4" fill="#2a521e"/>
<ellipse cx="965.3" cy="510.4" rx="4.6" ry="4.4" fill="#2a521e"/>
<ellipse cx="969.8" cy="510.7" rx="4.6" ry="4.4" fill="#2a521e"/>
<ellipse cx="976.2" cy="510.5" rx="4.6" ry="4.4" fill="#2a521e"/>
<ellipse cx="979.6" cy="510.3" rx="4.6" ry="4.4" fill="#2a521e"/>
<ellipse cx="984.9" cy="510.6" rx="4.6" ry="4.4" fill="#2a521e"/>
<ellipse cx="989.4" cy="512.0" rx="4.6" ry="4.4" fill="#2a521e"/>
<ellipse cx="995.7" cy="512.2" rx="4.6" ry="4.4" fill="#2a521e"/>
<ellipse cx="998.3" cy="511.0" rx="4.6" ry="4.4" fill="#2a521e"/>
<ellipse cx="1005.2" cy="510.2" rx="4.6" ry="4.4" fill="#264d1c"/>
<ellipse cx="950.8" cy="516.6" rx="4.6" ry="4.4" fill="#3e702c"/>
<ellipse cx="956.5" cy="515.9" rx="4.6" ry="4.4" fill="#3e702c"/>
<ellipse cx="960.2" cy="515.3" rx="4.6" ry="4.4" fill="#3e702c"/>
<ellipse cx="965.0" cy="514.9" rx="4.6" ry="4.4" fill="#3e702c"/>
<ellipse cx="970.9" cy="515.1" rx="4.6" ry="4.4" fill="#3e702c"/>
<ellipse cx="976.3" cy="516.4" rx="4.6" ry="4.4" fill="#3e702c"/>
<ellipse cx="979.0" cy="516.0" rx="4.6" ry="4.4" fill="#3e702c"/>
<ellipse cx="985.2" cy="514.8" rx="4.6" ry="4.4" fill="#3e702c"/>
<ellipse cx="989.8" cy="514.8" rx="4.6" ry="4.4" fill="#3e702c"/>
<ellipse cx="995.3" cy="514.7" rx="4.6" ry="4.4" fill="#3e702c"/>
<ellipse cx="999.8" cy="517.2" rx="4.6" ry="4.4" fill="#3d6e2b"/>
<ellipse cx="1005.2" cy="515.3" rx="4.6" ry="4.4" fill="#376628"/>
<ellipse cx="950.7" cy="521.5" rx="4.6" ry="4.4" fill="#326024"/>
<ellipse cx="956.8" cy="519.3" rx="4.6" ry="4.4" fill="#326024"/>
<ellipse cx="960.5" cy="521.0" rx="4.6" ry="4.4" fill="#326024"/>
<ellipse cx="964.8" cy="521.4" rx="4.6" ry="4.4" fill="#326024"/>
<ellipse cx="971.5" cy="520.7" rx="4.6" ry="4.4" fill="#326024"/>
<ellipse cx="975.0" cy="521.5" rx="4.6" ry="4.4" fill="#326024"/>
<ellipse cx="980.2" cy="519.8" rx="4.6" ry="4.4" fill="#326024"/>
<ellipse cx="984.4" cy="519.7" rx="4.6" ry="4.4" fill="#326024"/>
<ellipse cx="990.7" cy="520.6" rx="4.6" ry="4.4" fill="#326024"/>
<ellipse cx="995.2" cy="521.4" rx="4.6" ry="4.4" fill="#326024"/>
<ellipse cx="1000.7" cy="519.8" rx="4.6" ry="4.4" fill="#305e23"/>
<ellipse cx="1004.1" cy="521.6" rx="4.6" ry="4.4" fill="#2e5a22"/>
<ellipse cx="1009.8" cy="520.3" rx="4.6" ry="4.4" fill="#2a5420"/>
<ellipse cx="951.5" cy="524.4" rx="4.6" ry="4.4" fill="#2a521e"/>
<ellipse cx="955.1" cy="524.0" rx="4.6" ry="4.4" fill="#2a521e"/>
<ellipse cx="960.5" cy="524.5" rx="4.6" ry="4.4" fill="#2a521e"/>
<ellipse cx="965.7" cy="526.4" rx="4.6" ry="4.4" fill="#2a521e"/>
<ellipse cx="969.6" cy="525.4" rx="4.6" ry="4.4" fill="#2a521e"/>
<ellipse cx="976.2" cy="525.5" rx="4.6" ry="4.4" fill="#2a521e"/>
<ellipse cx="980.2" cy="525.9" rx="4.6" ry="4.4" fill="#2a521e"/>
<ellipse cx="983.8" cy="526.4" rx="4.6" ry="4.4" fill="#2a521e"/>
<ellipse cx="990.3" cy="526.0" rx="4.6" ry="4.4" fill="#2a521e"/>
<ellipse cx="995.5" cy="524.2" rx="4.6" ry="4.4" fill="#2a521e"/>
<ellipse cx="998.4" cy="524.4" rx="4.6" ry="4.4" fill="#2a521e"/>
<ellipse cx="1004.4" cy="526.3" rx="4.6" ry="4.4" fill="#274d1c"/>
<ellipse cx="1010.2" cy="525.0" rx="4.6" ry="4.4" fill="#24491b"/>
<ellipse cx="951.4" cy="530.4" rx="4.6" ry="4.4" fill="#3e702c"/>
<ellipse cx="955.5" cy="531.0" rx="4.6" ry="4.4" fill="#3e702c"/>
<ellipse cx="961.9" cy="530.4" rx="4.6" ry="4.4" fill="#3e702c"/>
<ellipse cx="966.6" cy="530.6" rx="4.6" ry="4.4" fill="#3e702c"/>
<ellipse cx="970.9" cy="529.4" rx="4.6" ry="4.4" fill="#3e702c"/>
<ellipse cx="974.8" cy="529.1" rx="4.6" ry="4.4" fill="#3e702c"/>
<ellipse cx="979.0" cy="530.9" rx="4.6" ry="4.4" fill="#3e702c"/>
<ellipse cx="984.5" cy="528.6" rx="4.6" ry="4.4" fill="#3e702c"/>
<ellipse cx="989.4" cy="528.8" rx="4.6" ry="4.4" fill="#3e702c"/>
<ellipse cx="994.5" cy="529.4" rx="4.6" ry="4.4" fill="#3e702c"/>
<ellipse cx="998.7" cy="529.8" rx="4.6" ry="4.4" fill="#3e702c"/>
<ellipse cx="1004.1" cy="529.4" rx="4.6" ry="4.4" fill="#386829"/>
<ellipse cx="1010.0" cy="529.3" rx="4.6" ry="4.4" fill="#335f26"/>
<ellipse cx="951.2" cy="535.4" rx="4.6" ry="4.4" fill="#326024"/>
<ellipse cx="957.1" cy="534.1" rx="4.6" ry="4.4" fill="#326024"/>
<ellipse cx="959.6" cy="535.6" rx="4.6" ry="4.4" fill="#326024"/>
<ellipse cx="965.7" cy="533.7" rx="4.6" ry="4.4" fill="#326024"/>
<ellipse cx="969.5" cy="533.8" rx="4.6" ry="4.4" fill="#326024"/>
<ellipse cx="974.8" cy="533.5" rx="4.6" ry="4.4" fill="#326024"/>
<ellipse cx="979.0" cy="535.7" rx="4.6" ry="4.4" fill="#326024"/>
<ellipse cx="985.8" cy="533.4" rx="4.6" ry="4.4" fill="#326024"/>
<ellipse cx="989.8" cy="535.2" rx="4.6" ry="4.4" fill="#326024"/>
<ellipse cx="994.7" cy="533.3" rx="4.6" ry="4.4" fill="#326024"/>
<ellipse cx="999.1" cy="534.1" rx="4.6" ry="4.4" fill="#315f23"/>
<ellipse cx="1005.4" cy="534.6" rx="4.6" ry="4.4" fill="#2d5921"/>
<ellipse cx="1009.1" cy="534.8" rx="4.6" ry="4.4" fill="#2a5420"/>
<ellipse cx="950.0" cy="539.5" rx="4.6" ry="4.4" fill="#284f1d"/>
<ellipse cx="956.7" cy="539.5" rx="4.6" ry="4.4" fill="#284f1d"/>
<ellipse cx="960.4" cy="538.5" rx="4.6" ry="4.4" fill="#28501d"/>
<ellipse cx="964.4" cy="538.0" rx="4.6" ry="4.4" fill="#29501d"/>
<ellipse cx="969.6" cy="538.9" rx="4.6" ry="4.4" fill="#28501d"/>
<ellipse cx="976.0" cy="538.3" rx="4.6" ry="4.4" fill="#29501d"/>
<ellipse cx="980.1" cy="539.4" rx="4.6" ry="4.4" fill="#284f1d"/>
<ellipse cx="985.3" cy="537.8" rx="4.6" ry="4.4" fill="#29501d"/>
<ellipse cx="990.9" cy="539.3" rx="4.6" ry="4.4" fill="#28501d"/>
<ellipse cx="994.2" cy="538.4" rx="4.6" ry="4.4" fill="#28501d"/>
<ellipse cx="1000.0" cy="540.2" rx="4.6" ry="4.4" fill="#284f1d"/>
<ellipse cx="1003.9" cy="538.8" rx="4.6" ry="4.4" fill="#274e1d"/>
<ellipse cx="1009.3" cy="538.2" rx="4.6" ry="4.4" fill="#244a1c"/>
<ellipse cx="950.9" cy="544.7" rx="4.6" ry="4.4" fill="#376628"/>
<ellipse cx="956.1" cy="544.5" rx="4.6" ry="4.4" fill="#376628"/>
<ellipse cx="960.2" cy="544.6" rx="4.6" ry="4.4" fill="#376628"/>
<ellipse cx="966.3" cy="543.0" rx="4.6" ry="4.4" fill="#386829"/>
<ellipse cx="970.5" cy="544.1" rx="4.6" ry="4.4" fill="#376628"/>
<ellipse cx="975.5" cy="543.9" rx="4.6" ry="4.4" fill="#376628"/>
<ellipse cx="979.5" cy="543.8" rx="4.6" ry="4.4" fill="#376728"/>
<ellipse cx="984.6" cy="544.4" rx="4.6" ry="4.4" fill="#376628"/>
<ellipse cx="989.5" cy="544.9" rx="4.6" ry="4.4" fill="#376528"/>
<ellipse cx="994.9" cy="543.0" rx="4.6" ry="4.4" fill="#386829"/>
<ellipse cx="999.3" cy="542.7" rx="4.6" ry="4.4" fill="#386829"/>
<ellipse cx="1004.9" cy="542.5" rx="4.6" ry="4.4" fill="#386728"/>
<ellipse cx="1009.4" cy="543.2" rx="4.6" ry="4.4" fill="#336026"/>
<ellipse cx="951.8" cy="547.3" rx="4.6" ry="4.4" fill="#2b5621"/>
<ellipse cx="956.4" cy="548.8" rx="4.6" ry="4.4" fill="#2a5520"/>
<ellipse cx="960.1" cy="547.3" rx="4.6" ry="4.4" fill="#2b5621"/>
<ellipse cx="965.3" cy="548.7" rx="4.6" ry="4.4" fill="#2b5520"/>
<ellipse cx="969.9" cy="547.0" rx="4.6" ry="4.4" fill="#2b5621"/>
<ellipse cx="975.2" cy="549.1" rx="4.6" ry="4.4" fill="#2a5420"/>
<ellipse cx="979.3" cy="549.4" rx="4.6" ry="4.4" fill="#2a5420"/>
<ellipse cx="985.0" cy="547.4" rx="4.6" ry="4.4" fill="#2b5621"/>
<ellipse cx="988.8" cy="547.9" rx="4.6" ry="4.4" fill="#2b5520"/>
<ellipse cx="994.6" cy="547.4" rx="4.6" ry="4.4" fill="#2b5621"/>
<ellipse cx="998.5" cy="548.3" rx="4.6" ry="4.4" fill="#2b5520"/>
<ellipse cx="1003.7" cy="548.1" rx="4.6" ry="4.4" fill="#2b5520"/>
<ellipse cx="1009.1" cy="548.8" rx="4.6" ry="4.4" fill="#2a5420"/>
<ellipse cx="951.3" cy="552.2" rx="4.6" ry="4.4" fill="#23481b"/>
<ellipse cx="955.2" cy="553.8" rx="4.6" ry="4.4" fill="#22471b"/>
<ellipse cx="959.7" cy="551.9" rx="4.6" ry="4.4" fill="#23481b"/>
<ellipse cx="964.6" cy="553.7" rx="4.6" ry="4.4" fill="#22471b"/>
<ellipse cx="970.6" cy="554.0" rx="4.6" ry="4.4" fill="#22471b"/>
<ellipse cx="975.6" cy="552.5" rx="4.6" ry="4.4" fill="#23481b"/>
<ellipse cx="980.0" cy="553.5" rx="4.6" ry="4.4" fill="#22471b"/>
<ellipse cx="984.3" cy="553.7" rx="4.6" ry="4.4" fill="#22471b"/>
<ellipse cx="989.6" cy="551.7" rx="4.6" ry="4.4" fill="#23481b"/>
<ellipse cx="994.3" cy="553.0" rx="4.6" ry="4.4" fill="#23481b"/>
<ellipse cx="998.6" cy="553.9" rx="4.6" ry="4.4" fill="#22471b"/>
<ellipse cx="1005.4" cy="552.9" rx="4.6" ry="4.4" fill="#23481b"/>
<ellipse cx="1010.2" cy="553.4" rx="4.6" ry="4.4" fill="#23471b"/>
<ellipse cx="982.5" cy="500.8" rx="3.0" ry="1.6" fill="#58883a"/>
<ellipse cx="987.6" cy="545.8" rx="1.6" ry="1.2" fill="#41702e"/>
<ellipse cx="984.1" cy="549.0" rx="3.2" ry="1.2" fill="#244a1c"/>
<ellipse cx="977.9" cy="503.7" rx="2.9" ry="1.6" fill="#4c7e34"/>
<ellipse cx="996.4" cy="541.9" rx="1.8" ry="1.9" fill="#204219"/>
<ellipse cx="971.2" cy="508.0" rx="1.4" ry="1.7" fill="#2a521e"/>
<ellipse cx="1005.2" cy="538.2" rx="2.8" ry="2.3" fill="#2d5921"/>
<ellipse cx="977.6" cy="530.2" rx="2.2" ry="1.0" fill="#386628"/>
<ellipse cx="958.1" cy="510.7" rx="1.3" ry="1.7" fill="#58883a"/>
<ellipse cx="983.1" cy="505.0" rx="1.7" ry="1.5" fill="#22441a"/>
<ellipse cx="974.8" cy="500.3" rx="3.0" ry="2.1" fill="#22441a"/>
<ellipse cx="987.4" cy="534.9" rx="2.7" ry="1.5" fill="#326024"/>
<ellipse cx="967.2" cy="505.8" rx="2.6" ry="1.5" fill="#22441a"/>
<ellipse cx="1011.2" cy="530.3" rx="1.8" ry="1.5" fill="#1d3e18"/>
<ellipse cx="964.6" cy="552.6" rx="1.7" ry="1.1" fill="#1d3e18"/>
<ellipse cx="979.3" cy="528.4" rx="1.4" ry="1.1" fill="#326024"/>
<ellipse cx="1005.7" cy="538.5" rx="2.6" ry="2.1" fill="#2d5821"/>
<ellipse cx="979.3" cy="520.6" rx="2.6" ry="2.1" fill="#386628"/>
<ellipse cx="965.3" cy="511.2" rx="1.3" ry="1.8" fill="#326024"/>
<ellipse cx="963.6" cy="526.5" rx="1.9" ry="2.4" fill="#386628"/>
<ellipse cx="965.9" cy="511.4" rx="1.3" ry="1.1" fill="#22441a"/>
<ellipse cx="1008.1" cy="524.2" rx="1.4" ry="1.6" fill="#3f6d2d"/>
<ellipse cx="955.7" cy="522.8" rx="1.9" ry="1.3" fill="#58883a"/>
<ellipse cx="986.5" cy="499.5" rx="1.3" ry="2.0" fill="#2a521e"/>
<ellipse cx="1000.3" cy="515.4" rx="1.7" ry="1.5" fill="#558538"/>
<ellipse cx="996.9" cy="553.8" rx="2.8" ry="1.4" fill="#22471b"/>
<ellipse cx="970.5" cy="510.8" rx="2.0" ry="2.0" fill="#2a521e"/>
<ellipse cx="996.5" cy="538.7" rx="1.5" ry="1.3" fill="#497a32"/>
<ellipse cx="959.6" cy="536.4" rx="1.4" ry="1.5" fill="#214319"/>
<ellipse cx="1000.1" cy="522.0" rx="3.1" ry="1.6" fill="#376427"/>
<ellipse cx="999.0" cy="552.3" rx="2.2" ry="2.0" fill="#29521f"/>
<ellipse cx="1007.6" cy="542.4" rx="2.4" ry="1.6" fill="#305b24"/>
<ellipse cx="967.9" cy="519.2" rx="2.4" ry="1.6" fill="#58883a"/>
<ellipse cx="975.1" cy="540.0" rx="2.2" ry="1.2" fill="#284f1d"/>
<ellipse cx="979.1" cy="510.5" rx="1.4" ry="2.4" fill="#386628"/>
<ellipse cx="994.4" cy="513.0" rx="2.6" ry="2.1" fill="#58883a"/>
<ellipse cx="951.0" cy="534.8" rx="2.8" ry="1.0" fill="#2a521e"/>
<ellipse cx="964.4" cy="513.0" rx="1.3" ry="1.3" fill="#3e702c"/>
<ellipse cx="961.9" cy="504.5" rx="1.7" ry="1.5" fill="#386628"/>
<ellipse cx="950.4" cy="539.4" rx="3.1" ry="2.1" fill="#487932"/>
<ellipse cx="981.1" cy="499.0" rx="2.8" ry="1.7" fill="#58883a"/>
<ellipse cx="973.3" cy="502.8" rx="2.7" ry="2.2" fill="#326024"/>
<ellipse cx="1010.6" cy="543.4" rx="2.3" ry="1.2" fill="#325e25"/>
<ellipse cx="980.2" cy="535.3" rx="2.4" ry="1.4" fill="#326024"/>
<ellipse cx="960.3" cy="519.6" rx="1.3" ry="1.6" fill="#58883a"/>
<ellipse cx="972.7" cy="509.7" rx="2.0" ry="1.4" fill="#386628"/>
<ellipse cx="968.3" cy="505.3" rx="1.8" ry="1.1" fill="#2a521e"/>
<ellipse cx="958.4" cy="550.2" rx="2.5" ry="1.2" fill="#2e5823"/>
<ellipse cx="974.1" cy="524.5" rx="1.8" ry="1.7" fill="#22441a"/>
<ellipse cx="1008.9" cy="524.9" rx="1.8" ry="1.2" fill="#346126"/>
<ellipse cx="984.9" cy="550.9" rx="2.3" ry="1.3" fill="#1e3f18"/>
<ellipse cx="967.9" cy="548.5" rx="1.4" ry="1.2" fill="#3f6c2d"/>
<ellipse cx="996.1" cy="508.3" rx="2.3" ry="2.2" fill="#2a521e"/>
<ellipse cx="969.7" cy="500.7" rx="2.5" ry="1.5" fill="#2a521e"/>
<ellipse cx="984.4" cy="541.4" rx="2.7" ry="1.1" fill="#467630"/>
<ellipse cx="999.4" cy="539.7" rx="3.1" ry="2.0" fill="#214219"/>
<ellipse cx="960.2" cy="533.4" rx="1.6" ry="1.8" fill="#22441a"/>
<ellipse cx="989.8" cy="540.1" rx="1.6" ry="1.7" fill="#356226"/>
<ellipse cx="951.6" cy="554.3" rx="2.4" ry="2.2" fill="#27501f"/>
<ellipse cx="992.7" cy="548.4" rx="2.2" ry="1.3" fill="#244a1c"/>
<ellipse cx="979.5" cy="536.8" rx="2.3" ry="1.3" fill="#29511d"/>
<ellipse cx="967.9" cy="524.9" rx="3.0" ry="2.4" fill="#22441a"/>
<ellipse cx="959.1" cy="521.8" rx="2.6" ry="1.6" fill="#326024"/>
<ellipse cx="963.4" cy="522.6" rx="2.8" ry="1.0" fill="#58883a"/>
<ellipse cx="987.3" cy="517.3" rx="2.3" ry="1.3" fill="#58883a"/>
<ellipse cx="989.4" cy="506.7" rx="2.1" ry="1.6" fill="#386628"/>
<ellipse cx="1010.7" cy="530.9" rx="2.3" ry="1.3" fill="#45702f"/>
<ellipse cx="992.5" cy="534.9" rx="3.0" ry="1.7" fill="#3e702c"/>
<ellipse cx="1005.7" cy="539.9" rx="1.5" ry="2.0" fill="#2d5821"/>
<ellipse cx="980.4" cy="526.0" rx="2.3" ry="1.1" fill="#326024"/>
<ellipse cx="965.2" cy="546.7" rx="2.7" ry="1.5" fill="#254b1c"/>
<ellipse cx="1003.0" cy="536.6" rx="2.9" ry="1.2" fill="#396a29"/>
<ellipse cx="980.4" cy="539.2" rx="2.3" ry="1.9" fill="#356226"/>
<ellipse cx="989.3" cy="533.7" rx="3.2" ry="2.4" fill="#4c7e34"/>
<ellipse cx="956.5" cy="536.9" rx="3.2" ry="1.7" fill="#4a7c33"/>
<ellipse cx="960.7" cy="546.3" rx="2.3" ry="1.7" fill="#4b7733"/>
<ellipse cx="961.6" cy="550.5" rx="1.5" ry="1.8" fill="#457130"/>
<ellipse cx="950.4" cy="534.7" rx="2.5" ry="1.3" fill="#22441a"/>
<ellipse cx="991.5" cy="520.8" rx="2.4" ry="1.6" fill="#58883a"/>
<ellipse cx="952.8" cy="543.6" rx="2.7" ry="1.4" fill="#264d1c"/>
<ellipse cx="997.3" cy="553.1" rx="1.7" ry="2.3" fill="#28511f"/>
<ellipse cx="984.1" cy="533.5" rx="2.9" ry="2.2" fill="#22441a"/>
<ellipse cx="959.9" cy="549.4" rx="2.8" ry="2.0" fill="#477231"/>
<ellipse cx="969.0" cy="521.3" rx="2.7" ry="2.1" fill="#326024"/>
<ellipse cx="991.4" cy="522.9" rx="1.2" ry="1.4" fill="#3e702c"/>
<ellipse cx="998.5" cy="534.3" rx="1.2" ry="2.0" fill="#2a521e"/>
<ellipse cx="967.0" cy="546.8" rx="3.2" ry="1.8" fill="#406e2e"/>
<ellipse cx="950.0" cy="536.3" rx="1.8" ry="1.3" fill="#376527"/>
<ellipse cx="1002.4" cy="510.7" rx="3.0" ry="1.2" fill="#528137"/>
<ellipse cx="1002.5" cy="554.4" rx="3.0" ry="1.9" fill="#396429"/>
<ellipse cx="981.8" cy="523.5" rx="2.7" ry="1.3" fill="#2a521e"/>
<ellipse cx="969.1" cy="542.7" rx="1.3" ry="1.0" fill="#386829"/>
<ellipse cx="980.9" cy="529.9" rx="1.3" ry="1.3" fill="#58883a"/>
<ellipse cx="998.6" cy="540.8" rx="2.5" ry="2.2" fill="#518036"/>
<ellipse cx="964.9" cy="514.4" rx="2.1" ry="2.0" fill="#58883a"/>
<ellipse cx="997.5" cy="552.9" rx="1.3" ry="1.6" fill="#436d2e"/>
<ellipse cx="953.1" cy="535.8" rx="1.4" ry="1.8" fill="#376527"/>
<ellipse cx="986.4" cy="511.8" rx="1.7" ry="2.0" fill="#386628"/>
<ellipse cx="981.6" cy="539.6" rx="2.6" ry="1.1" fill="#356226"/>
<ellipse cx="983.7" cy="498.8" rx="3.0" ry="1.2" fill="#386628"/>
<ellipse cx="998.5" cy="527.5" rx="2.7" ry="1.4" fill="#3e702c"/>
<ellipse cx="978.7" cy="506.5" rx="2.9" ry="1.7" fill="#3e702c"/>
<ellipse cx="979.5" cy="542.4" rx="1.4" ry="2.1" fill="#204119"/>
<ellipse cx="992.8" cy="526.9" rx="1.8" ry="2.2" fill="#4c7e34"/>
<ellipse cx="1010.4" cy="522.8" rx="2.0" ry="1.0" fill="#295320"/>
<ellipse cx="978.7" cy="526.4" rx="2.2" ry="2.0" fill="#3e702c"/>
<ellipse cx="972.0" cy="551.1" rx="2.3" ry="2.4" fill="#295320"/>
<ellipse cx="973.7" cy="499.7" rx="2.5" ry="1.1" fill="#4c7e34"/>
<ellipse cx="948.9" cy="540.2" rx="1.5" ry="2.0" fill="#477731"/>
<ellipse cx="998.0" cy="547.5" rx="2.3" ry="1.9" fill="#406d2d"/>
<ellipse cx="977.4" cy="534.5" rx="2.6" ry="1.1" fill="#2a521e"/>
<ellipse cx="971.6" cy="549.4" rx="1.3" ry="1.1" fill="#1e3f19"/>
<ellipse cx="961.7" cy="532.9" rx="2.0" ry="1.1" fill="#386628"/>
<ellipse cx="986.0" cy="537.4" rx="1.4" ry="1.9" fill="#3c6e2b"/>
<ellipse cx="990.0" cy="505.6" rx="2.5" ry="1.1" fill="#58883a"/>
<ellipse cx="968.5" cy="542.6" rx="2.5" ry="1.9" fill="#457430"/>
<ellipse cx="1002.0" cy="551.5" rx="2.6" ry="1.7" fill="#1e3e18"/>
<ellipse cx="974.2" cy="555.2" rx="1.8" ry="1.1" fill="#386329"/>
<ellipse cx="985.2" cy="503.1" rx="3.0" ry="1.6" fill="#386628"/>
<ellipse cx="1000.9" cy="552.1" rx="3.0" ry="1.9" fill="#23481b"/>
<ellipse cx="957.9" cy="526.0" rx="1.6" ry="1.1" fill="#58883a"/>
<ellipse cx="965.8" cy="514.0" rx="1.4" ry="2.0" fill="#22441a"/>
<ellipse cx="978.9" cy="543.4" rx="3.0" ry="1.3" fill="#44732f"/>
<ellipse cx="971.1" cy="522.8" rx="2.5" ry="1.2" fill="#3e702c"/>
<ellipse cx="969.4" cy="508.7" rx="1.4" ry="1.2" fill="#2a521e"/>
<ellipse cx="967.9" cy="552.3" rx="2.4" ry="1.8" fill="#436e2f"/>
<ellipse cx="975.9" cy="538.1" rx="1.7" ry="1.9" fill="#214319"/>
<ellipse cx="958.6" cy="519.0" rx="2.0" ry="2.0" fill="#2a521e"/>
<ellipse cx="950.7" cy="541.8" rx="2.6" ry="1.9" fill="#457530"/>
<ellipse cx="982.7" cy="499.4" rx="1.7" ry="1.7" fill="#2a521e"/>
<ellipse cx="988.1" cy="518.9" rx="1.5" ry="1.2" fill="#3e702c"/>
<ellipse cx="972.6" cy="509.5" rx="2.0" ry="1.3" fill="#326024"/>
<ellipse cx="985.6" cy="529.5" rx="2.0" ry="1.4" fill="#4c7e34"/>
<ellipse cx="969.3" cy="503.2" rx="1.5" ry="1.9" fill="#4c7e34"/>
<ellipse cx="980.7" cy="519.9" rx="2.5" ry="1.7" fill="#3e702c"/>
<ellipse cx="973.4" cy="547.8" rx="2.6" ry="1.6" fill="#305a24"/>
<ellipse cx="954.9" cy="538.4" rx="2.0" ry="1.4" fill="#366327"/>
<ellipse cx="967.8" cy="554.8" rx="1.8" ry="2.0" fill="#1d3d18"/>
<ellipse cx="964.7" cy="531.7" rx="2.6" ry="1.7" fill="#386628"/>
<ellipse cx="982.0" cy="531.5" rx="2.6" ry="2.0" fill="#22441a"/>
<ellipse cx="988.0" cy="523.0" rx="1.8" ry="1.1" fill="#326024"/>
<ellipse cx="955.3" cy="533.0" rx="2.2" ry="2.0" fill="#3e702c"/>
<ellipse cx="974.8" cy="535.1" rx="2.5" ry="1.0" fill="#2a521e"/>
<ellipse cx="960.9" cy="506.2" rx="2.8" ry="1.6" fill="#4c7e34"/>
<ellipse cx="985.2" cy="509.0" rx="2.9" ry="1.6" fill="#58883a"/>
<ellipse cx="958.0" cy="536.5" rx="1.6" ry="2.3" fill="#3d6f2b"/>
<ellipse cx="966.7" cy="515.2" rx="2.2" ry="1.5" fill="#386628"/>
<ellipse cx="971.9" cy="538.6" rx="2.3" ry="1.8" fill="#305d23"/>
<ellipse cx="972.1" cy="550.1" rx="2.4" ry="1.9" fill="#335f26"/>
<ellipse cx="1007.1" cy="547.8" rx="1.7" ry="1.4" fill="#1e4019"/>
<ellipse cx="992.5" cy="512.9" rx="1.7" ry="1.7" fill="#4c7e34"/>
<ellipse cx="991.0" cy="514.8" rx="2.6" ry="1.3" fill="#326024"/>
<ellipse cx="974.3" cy="528.6" rx="2.5" ry="2.1" fill="#386628"/>
<ellipse cx="987.4" cy="539.7" rx="2.9" ry="1.0" fill="#538137"/>
<ellipse cx="1007.2" cy="521.6" rx="2.7" ry="1.6" fill="#305b24"/>
<ellipse cx="951.9" cy="535.7" rx="2.6" ry="1.3" fill="#386628"/>
<ellipse cx="1007.8" cy="546.3" rx="1.2" ry="1.8" fill="#1f4019"/>
<ellipse cx="969.2" cy="505.6" rx="2.0" ry="2.2" fill="#386628"/>
<ellipse cx="977.2" cy="502.6" rx="1.2" ry="1.5" fill="#326024"/>
<ellipse cx="959.5" cy="526.9" rx="3.0" ry="1.2" fill="#4c7e34"/>
<ellipse cx="1004.6" cy="550.8" rx="1.8" ry="2.1" fill="#2e5723"/>
<ellipse cx="999.1" cy="544.8" rx="1.9" ry="2.4" fill="#4d7a34"/>
<ellipse cx="958.3" cy="512.0" rx="2.8" ry="2.2" fill="#58883a"/>
<ellipse cx="988.0" cy="535.9" rx="2.7" ry="2.3" fill="#3d6f2b"/>
<ellipse cx="1006.1" cy="511.8" rx="2.3" ry="1.6" fill="#42712e"/>
<ellipse cx="976.7" cy="522.7" rx="2.8" ry="1.7" fill="#4c7e34"/>
<ellipse cx="982.8" cy="518.4" rx="2.3" ry="1.5" fill="#22441a"/>
<ellipse cx="990.2" cy="550.3" rx="2.2" ry="1.4" fill="#2a5320"/>
<ellipse cx="956.1" cy="521.7" rx="1.2" ry="2.3" fill="#326024"/>
<ellipse cx="974.4" cy="499.6" rx="1.4" ry="1.6" fill="#326024"/>
<ellipse cx="962.1" cy="545.8" rx="1.5" ry="1.6" fill="#2c5721"/>
<ellipse cx="990.1" cy="519.1" rx="2.4" ry="1.5" fill="#2a521e"/>
<ellipse cx="966.9" cy="544.8" rx="2.9" ry="2.4" fill="#264c1c"/>
<ellipse cx="987.6" cy="509.6" rx="2.0" ry="1.5" fill="#326024"/>
<ellipse cx="989.1" cy="522.2" rx="1.6" ry="1.3" fill="#22441a"/>
<ellipse cx="958.4" cy="518.6" rx="1.6" ry="2.1" fill="#4c7e34"/>
<ellipse cx="983.2" cy="507.9" rx="3.0" ry="1.9" fill="#4c7e34"/>
<ellipse cx="1008.1" cy="547.6" rx="3.1" ry="1.4" fill="#3f6d2d"/>
<ellipse cx="970.9" cy="535.5" rx="1.8" ry="1.4" fill="#3e702c"/>
<ellipse cx="964.4" cy="517.0" rx="1.5" ry="1.2" fill="#4c7e34"/>
<ellipse cx="989.6" cy="548.1" rx="2.7" ry="1.1" fill="#2f5a23"/>
<ellipse cx="995.6" cy="544.9" rx="2.7" ry="1.0" fill="#42712f"/>
<ellipse cx="996.9" cy="546.1" rx="2.7" ry="1.4" fill="#315c24"/>
<ellipse cx="978.3" cy="516.6" rx="2.0" ry="1.4" fill="#22441a"/>
<ellipse cx="984.0" cy="540.4" rx="2.7" ry="2.1" fill="#2f5c22"/>
<ellipse cx="950.8" cy="544.1" rx="3.0" ry="1.9" fill="#2d5921"/>
<ellipse cx="989.7" cy="534.7" rx="1.3" ry="1.3" fill="#22441a"/>
<ellipse cx="962.2" cy="538.0" rx="3.1" ry="1.3" fill="#558438"/>
<ellipse cx="983.2" cy="545.9" rx="1.4" ry="1.7" fill="#2c5721"/>
<ellipse cx="969.3" cy="554.0" rx="3.2" ry="1.6" fill="#305b24"/>
<ellipse cx="963.8" cy="530.8" rx="1.9" ry="2.2" fill="#326024"/>
<ellipse cx="969.3" cy="540.4" rx="1.7" ry="1.3" fill="#528037"/>
<ellipse cx="987.7" cy="543.2" rx="1.4" ry="1.6" fill="#44732f"/>
<ellipse cx="1007.4" cy="517.6" rx="1.9" ry="1.8" fill="#356327"/>
<ellipse cx="983.7" cy="519.9" rx="2.3" ry="1.2" fill="#22441a"/>
<ellipse cx="986.9" cy="501.4" rx="2.8" ry="1.9" fill="#22441a"/>
<ellipse cx="977.5" cy="530.7" rx="1.6" ry="1.5" fill="#326024"/>
<ellipse cx="1006.5" cy="547.5" rx="1.5" ry="2.1" fill="#1f4019"/>
<ellipse cx="1000.6" cy="534.7" rx="2.7" ry="1.6" fill="#214319"/>
<ellipse cx="958.6" cy="534.1" rx="2.2" ry="1.7" fill="#326024"/>
<ellipse cx="994.2" cy="549.7" rx="2.4" ry="1.7" fill="#467230"/>
<ellipse cx="987.3" cy="518.0" rx="2.9" ry="1.0" fill="#386628"/>
<ellipse cx="978.0" cy="499.4" rx="1.4" ry="1.5" fill="#386628"/>
<ellipse cx="983.5" cy="507.8" rx="2.9" ry="1.2" fill="#4c7e34"/>
<ellipse cx="959.9" cy="543.4" rx="2.1" ry="1.7" fill="#264d1c"/>
<ellipse cx="953.7" cy="547.8" rx="1.6" ry="1.8" fill="#2b5620"/>
<ellipse cx="989.6" cy="506.7" rx="1.7" ry="1.4" fill="#386628"/>
<ellipse cx="985.4" cy="515.6" rx="2.7" ry="1.9" fill="#4c7e34"/>
<ellipse cx="986.9" cy="552.2" rx="1.8" ry="2.3" fill="#2d5622"/>
<ellipse cx="980.9" cy="546.7" rx="1.8" ry="2.2" fill="#416f2e"/>
<ellipse cx="1010.8" cy="539.6" rx="1.7" ry="1.9" fill="#1e3e18"/>
<ellipse cx="997.8" cy="529.4" rx="1.5" ry="1.3" fill="#386628"/>
<ellipse cx="958.6" cy="522.3" rx="1.6" ry="1.8" fill="#22441a"/>
<ellipse cx="981.3" cy="541.4" rx="1.8" ry="1.6" fill="#467630"/>
<ellipse cx="964.5" cy="529.8" rx="2.9" ry="1.9" fill="#22441a"/>
<ellipse cx="1009.9" cy="549.9" rx="2.6" ry="1.2" fill="#335f26"/>
<ellipse cx="963.2" cy="546.2" rx="2.0" ry="1.1" fill="#315c24"/>
<ellipse cx="959.1" cy="520.3" rx="1.6" ry="1.4" fill="#4c7e34"/>
<ellipse cx="950.5" cy="524.2" rx="2.8" ry="1.1" fill="#4c7e34"/>
<ellipse cx="977.8" cy="551.3" rx="1.4" ry="2.3" fill="#1e3e18"/>
<ellipse cx="955.6" cy="537.5" rx="3.0" ry="1.4" fill="#315e23"/>
<ellipse cx="981.2" cy="502.7" rx="2.1" ry="1.3" fill="#326024"/>
<ellipse cx="995.5" cy="506.7" rx="1.9" ry="1.1" fill="#386628"/>
<ellipse cx="991.7" cy="540.1" rx="2.8" ry="1.4" fill="#3a6b2a"/>
<ellipse cx="985.8" cy="535.3" rx="1.6" ry="1.7" fill="#386628"/>
<ellipse cx="987.7" cy="502.3" rx="2.8" ry="1.7" fill="#4c7e34"/>
<ellipse cx="970.3" cy="544.3" rx="2.2" ry="1.4" fill="#4d7a34"/>
<ellipse cx="996.4" cy="524.7" rx="1.8" ry="2.2" fill="#3e702c"/>
<ellipse cx="987.8" cy="536.7" rx="2.9" ry="1.9" fill="#29511d"/>
<ellipse cx="995.4" cy="514.8" rx="2.8" ry="1.5" fill="#386628"/>
<ellipse cx="987.7" cy="500.9" rx="4.5" ry="3.6" fill="#3f8a3a"/>
<ellipse cx="959.4" cy="550.7" rx="3.2" ry="2.2" fill="#e4e6dc"/>
<ellipse cx="986.4" cy="552.6" rx="3.5" ry="1.8" fill="#d9dccf"/>
<ellipse cx="969.5" cy="539.1" rx="3.0" ry="3.5" fill="#8fb07a" opacity="0.7"/>
</g></g>
<clipPath id="tc2"><rect x="1018.00" y="490.6" width="64.80" height="64.60"/></clipPath>
<g clip-path="url(#tc2)">
<rect x="1018.00" y="490.60" width="64.80" height="64.60" fill="#c5dbf2" stroke="none" stroke-width="1" />
<g filter="url(#b2)">
<rect x="1063.36" y="546.16" width="19.44" height="9.04" fill="#dfe1dc" stroke="none" stroke-width="1" />
<ellipse cx="1030.9" cy="493.9" rx="4.7" ry="4.4" fill="#467e40"/>
<ellipse cx="1036.5" cy="492.1" rx="4.7" ry="4.4" fill="#467e40"/>
<ellipse cx="1056.5" cy="493.3" rx="4.7" ry="4.4" fill="#467e40"/>
<ellipse cx="1059.9" cy="492.4" rx="4.7" ry="4.4" fill="#467e40"/>
<ellipse cx="1065.3" cy="491.8" rx="4.7" ry="4.4" fill="#467e40"/>
<ellipse cx="1070.6" cy="493.5" rx="4.7" ry="4.4" fill="#467e40"/>
<ellipse cx="1075.1" cy="493.8" rx="4.7" ry="4.4" fill="#467e40"/>
<ellipse cx="1024.3" cy="498.8" rx="4.7" ry="4.4" fill="#3c7038"/>
<ellipse cx="1029.9" cy="496.8" rx="4.7" ry="4.4" fill="#3c7038"/>
<ellipse cx="1036.5" cy="498.2" rx="4.7" ry="4.4" fill="#3c7038"/>
<ellipse cx="1039.5" cy="497.1" rx="4.7" ry="4.4" fill="#3c7038"/>
<ellipse cx="1049.1" cy="497.6" rx="4.7" ry="4.4" fill="#3c7038"/>
<ellipse cx="1054.9" cy="497.2" rx="4.7" ry="4.4" fill="#3c7038"/>
<ellipse cx="1059.6" cy="496.5" rx="4.7" ry="4.4" fill="#3c7038"/>
<ellipse cx="1064.1" cy="498.5" rx="4.7" ry="4.4" fill="#3c7038"/>
<ellipse cx="1071.0" cy="497.7" rx="4.7" ry="4.4" fill="#3c7038"/>
<ellipse cx="1074.3" cy="496.6" rx="4.7" ry="4.4" fill="#3c7038"/>
<ellipse cx="1079.3" cy="497.0" rx="4.7" ry="4.4" fill="#3c7038"/>
<ellipse cx="1019.3" cy="501.6" rx="4.7" ry="4.4" fill="#548e4a"/>
<ellipse cx="1024.7" cy="501.3" rx="4.7" ry="4.4" fill="#548e4a"/>
<ellipse cx="1030.9" cy="502.0" rx="4.7" ry="4.4" fill="#548e4a"/>
<ellipse cx="1035.4" cy="501.8" rx="4.7" ry="4.4" fill="#548e4a"/>
<ellipse cx="1040.5" cy="502.9" rx="4.7" ry="4.4" fill="#548e4a"/>
<ellipse cx="1050.4" cy="501.8" rx="4.7" ry="4.4" fill="#548e4a"/>
<ellipse cx="1056.1" cy="501.1" rx="4.7" ry="4.4" fill="#548e4a"/>
<ellipse cx="1061.3" cy="500.9" rx="4.7" ry="4.4" fill="#548e4a"/>
<ellipse cx="1065.5" cy="502.0" rx="4.7" ry="4.4" fill="#548e4a"/>
<ellipse cx="1069.9" cy="503.1" rx="4.7" ry="4.4" fill="#548e4a"/>
<ellipse cx="1075.8" cy="501.3" rx="4.7" ry="4.4" fill="#548e4a"/>
<ellipse cx="1080.3" cy="502.4" rx="4.7" ry="4.4" fill="#548e4a"/>
<ellipse cx="1019.3" cy="505.7" rx="4.7" ry="4.4" fill="#467e40"/>
<ellipse cx="1025.7" cy="507.3" rx="4.7" ry="4.4" fill="#467e40"/>
<ellipse cx="1030.4" cy="506.5" rx="4.7" ry="4.4" fill="#467e40"/>
<ellipse cx="1035.5" cy="506.1" rx="4.7" ry="4.4" fill="#467e40"/>
<ellipse cx="1041.4" cy="507.9" rx="4.7" ry="4.4" fill="#467e40"/>
<ellipse cx="1045.4" cy="505.5" rx="4.7" ry="4.4" fill="#467e40"/>
<ellipse cx="1050.1" cy="507.5" rx="4.7" ry="4.4" fill="#467e40"/>
<ellipse cx="1054.9" cy="505.7" rx="4.7" ry="4.4" fill="#467e40"/>
<ellipse cx="1059.6" cy="507.3" rx="4.7" ry="4.4" fill="#467e40"/>
<ellipse cx="1065.7" cy="506.2" rx="4.7" ry="4.4" fill="#467e40"/>
<ellipse cx="1070.7" cy="507.4" rx="4.7" ry="4.4" fill="#467e40"/>
<ellipse cx="1076.5" cy="507.6" rx="4.7" ry="4.4" fill="#467e40"/>
<ellipse cx="1080.1" cy="507.5" rx="4.7" ry="4.4" fill="#467e40"/>
<ellipse cx="1021.6" cy="512.3" rx="4.7" ry="4.4" fill="#3c7038"/>
<ellipse cx="1026.1" cy="511.6" rx="4.7" ry="4.4" fill="#3c7038"/>
<ellipse cx="1030.5" cy="512.3" rx="4.7" ry="4.4" fill="#3c7038"/>
<ellipse cx="1035.8" cy="511.9" rx="4.7" ry="4.4" fill="#3c7038"/>
<ellipse cx="1039.7" cy="510.3" rx="4.7" ry="4.4" fill="#3c7038"/>
<ellipse cx="1044.8" cy="511.6" rx="4.7" ry="4.4" fill="#3c7038"/>
<ellipse cx="1050.6" cy="510.6" rx="4.7" ry="4.4" fill="#3c7038"/>
<ellipse cx="1054.6" cy="512.5" rx="4.7" ry="4.4" fill="#3c7038"/>
<ellipse cx="1059.3" cy="512.5" rx="4.7" ry="4.4" fill="#3c7038"/>
<ellipse cx="1066.1" cy="511.6" rx="4.7" ry="4.4" fill="#3c7038"/>
<ellipse cx="1071.6" cy="511.8" rx="4.7" ry="4.4" fill="#3c7038"/>
<ellipse cx="1074.0" cy="512.5" rx="4.7" ry="4.4" fill="#3c7038"/>
<ellipse cx="1080.1" cy="512.4" rx="4.7" ry="4.4" fill="#3c7038"/>
<ellipse cx="1021.3" cy="515.0" rx="4.7" ry="4.4" fill="#548e4a"/>
<ellipse cx="1024.3" cy="514.7" rx="4.7" ry="4.4" fill="#548e4a"/>
<ellipse cx="1031.2" cy="516.7" rx="4.7" ry="4.4" fill="#548e4a"/>
<ellipse cx="1034.7" cy="515.0" rx="4.7" ry="4.4" fill="#548e4a"/>
<ellipse cx="1040.1" cy="516.8" rx="4.7" ry="4.4" fill="#548e4a"/>
<ellipse cx="1046.0" cy="516.9" rx="4.7" ry="4.4" fill="#548e4a"/>
<ellipse cx="1051.6" cy="516.6" rx="4.7" ry="4.4" fill="#548e4a"/>
<ellipse cx="1056.3" cy="514.7" rx="4.7" ry="4.4" fill="#548e4a"/>
<ellipse cx="1059.1" cy="516.9" rx="4.7" ry="4.4" fill="#548e4a"/>
<ellipse cx="1065.7" cy="515.5" rx="4.7" ry="4.4" fill="#548e4a"/>
<ellipse cx="1069.4" cy="515.5" rx="4.7" ry="4.4" fill="#548e4a"/>
<ellipse cx="1074.9" cy="516.0" rx="4.7" ry="4.4" fill="#548e4a"/>
<ellipse cx="1019.4" cy="519.8" rx="4.7" ry="4.4" fill="#467e40"/>
<ellipse cx="1024.5" cy="519.6" rx="4.7" ry="4.4" fill="#467e40"/>
<ellipse cx="1030.2" cy="519.6" rx="4.7" ry="4.4" fill="#467e40"/>
<ellipse cx="1036.2" cy="520.7" rx="4.7" ry="4.4" fill="#467e40"/>
<ellipse cx="1040.3" cy="521.0" rx="4.7" ry="4.4" fill="#467e40"/>
<ellipse cx="1044.7" cy="519.4" rx="4.7" ry="4.4" fill="#467e40"/>
<ellipse cx="1049.3" cy="520.2" rx="4.7" ry="4.4" fill="#467e40"/>
<ellipse cx="1055.0" cy="520.0" rx="4.7" ry="4.4" fill="#467e40"/>
<ellipse cx="1059.9" cy="521.5" rx="4.7" ry="4.4" fill="#467e40"/>
<ellipse cx="1064.1" cy="520.5" rx="4.7" ry="4.4" fill="#467e40"/>
<ellipse cx="1070.0" cy="520.0" rx="4.7" ry="4.4" fill="#467e40"/>
<ellipse cx="1021.7" cy="524.8" rx="4.7" ry="4.4" fill="#3c7038"/>
<ellipse cx="1024.5" cy="526.4" rx="4.7" ry="4.4" fill="#3c7038"/>
<ellipse cx="1030.8" cy="526.4" rx="4.7" ry="4.4" fill="#3c7038"/>
<ellipse cx="1035.0" cy="526.0" rx="4.7" ry="4.4" fill="#3c7038"/>
<ellipse cx="1039.2" cy="524.5" rx="4.7" ry="4.4" fill="#3c7038"/>
<ellipse cx="1046.2" cy="525.2" rx="4.7" ry="4.4" fill="#3c7038"/>
<ellipse cx="1051.2" cy="524.9" rx="4.7" ry="4.4" fill="#3c7038"/>
<ellipse cx="1056.4" cy="524.1" rx="4.7" ry="4.4" fill="#3c7038"/>
<ellipse cx="1060.7" cy="524.4" rx="4.7" ry="4.4" fill="#3c7038"/>
<ellipse cx="1064.6" cy="526.2" rx="4.7" ry="4.4" fill="#3c7038"/>
<ellipse cx="1070.2" cy="526.0" rx="4.7" ry="4.4" fill="#3c7038"/>
<ellipse cx="1019.8" cy="530.3" rx="4.7" ry="4.4" fill="#548e4a"/>
<ellipse cx="1026.6" cy="530.6" rx="4.7" ry="4.4" fill="#548e4a"/>
<ellipse cx="1030.3" cy="529.6" rx="4.7" ry="4.4" fill="#548e4a"/>
<ellipse cx="1034.4" cy="530.5" rx="4.7" ry="4.4" fill="#548e4a"/>
<ellipse cx="1039.5" cy="529.1" rx="4.7" ry="4.4" fill="#548e4a"/>
<ellipse cx="1044.2" cy="529.0" rx="4.7" ry="4.4" fill="#548e4a"/>
<ellipse cx="1050.1" cy="529.8" rx="4.7" ry="4.4" fill="#548e4a"/>
<ellipse cx="1054.5" cy="529.6" rx="4.7" ry="4.4" fill="#548e4a"/>
<ellipse cx="1061.0" cy="528.8" rx="4.7" ry="4.4" fill="#548e4a"/>
<ellipse cx="1064.4" cy="529.9" rx="4.7" ry="4.4" fill="#548e4a"/>
<ellipse cx="1021.5" cy="534.5" rx="4.7" ry="4.4" fill="#467e40"/>
<ellipse cx="1025.2" cy="534.7" rx="4.7" ry="4.4" fill="#467e40"/>
<ellipse cx="1031.2" cy="535.7" rx="4.7" ry="4.4" fill="#467e40"/>
<ellipse cx="1035.4" cy="534.5" rx="4.7" ry="4.4" fill="#467e40"/>
<ellipse cx="1039.9" cy="534.5" rx="4.7" ry="4.4" fill="#467e40"/>
<ellipse cx="1045.5" cy="533.9" rx="4.7" ry="4.4" fill="#467e40"/>
<ellipse cx="1050.3" cy="535.5" rx="4.7" ry="4.4" fill="#467e40"/>
<ellipse cx="1054.7" cy="533.8" rx="4.7" ry="4.4" fill="#467e40"/>
<ellipse cx="1059.9" cy="535.4" rx="4.7" ry="4.4" fill="#467e40"/>
<ellipse cx="1064.8" cy="535.3" rx="4.7" ry="4.4" fill="#467e40"/>
<ellipse cx="1019.8" cy="539.3" rx="4.7" ry="4.4" fill="#3b6f37"/>
<ellipse cx="1026.4" cy="540.2" rx="4.7" ry="4.4" fill="#3b6e37"/>
<ellipse cx="1030.1" cy="538.1" rx="4.7" ry="4.4" fill="#3c7038"/>
<ellipse cx="1034.2" cy="538.6" rx="4.7" ry="4.4" fill="#3c7038"/>
<ellipse cx="1040.6" cy="538.5" rx="4.7" ry="4.4" fill="#3c7038"/>
<ellipse cx="1046.3" cy="539.4" rx="4.7" ry="4.4" fill="#3b6f37"/>
<ellipse cx="1050.7" cy="539.9" rx="4.7" ry="4.4" fill="#3b6f37"/>
<ellipse cx="1054.9" cy="539.4" rx="4.7" ry="4.4" fill="#3b6f37"/>
<ellipse cx="1060.0" cy="538.5" rx="4.7" ry="4.4" fill="#3c7038"/>
<ellipse cx="1064.4" cy="539.8" rx="4.7" ry="4.4" fill="#3b6f37"/>
<ellipse cx="1071.4" cy="537.8" rx="4.7" ry="4.4" fill="#3c7038"/>
<ellipse cx="1021.5" cy="543.5" rx="4.7" ry="4.4" fill="#4f8746"/>
<ellipse cx="1025.5" cy="543.3" rx="4.7" ry="4.4" fill="#4f8746"/>
<ellipse cx="1029.8" cy="543.0" rx="4.7" ry="4.4" fill="#4f8846"/>
<ellipse cx="1034.3" cy="542.4" rx="4.7" ry="4.4" fill="#508947"/>
<ellipse cx="1040.6" cy="544.3" rx="4.7" ry="4.4" fill="#4e8645"/>
<ellipse cx="1045.9" cy="543.0" rx="4.7" ry="4.4" fill="#4f8846"/>
<ellipse cx="1051.7" cy="542.6" rx="4.7" ry="4.4" fill="#508847"/>
<ellipse cx="1055.2" cy="543.2" rx="4.7" ry="4.4" fill="#4f8746"/>
<ellipse cx="1059.5" cy="544.9" rx="4.7" ry="4.4" fill="#4d8545"/>
<ellipse cx="1065.9" cy="542.7" rx="4.7" ry="4.4" fill="#508847"/>
<ellipse cx="1069.5" cy="544.5" rx="4.7" ry="4.4" fill="#4e8545"/>
<ellipse cx="1020.7" cy="547.8" rx="4.7" ry="4.4" fill="#3f733a"/>
<ellipse cx="1025.7" cy="547.2" rx="4.7" ry="4.4" fill="#3f743a"/>
<ellipse cx="1030.6" cy="548.5" rx="4.7" ry="4.4" fill="#3e723a"/>
<ellipse cx="1035.0" cy="549.2" rx="4.7" ry="4.4" fill="#3e7139"/>
<ellipse cx="1041.5" cy="548.7" rx="4.7" ry="4.4" fill="#3e7239"/>
<ellipse cx="1045.2" cy="547.4" rx="4.7" ry="4.4" fill="#3f743a"/>
<ellipse cx="1050.7" cy="547.7" rx="4.7" ry="4.4" fill="#3f733a"/>
<ellipse cx="1054.5" cy="548.4" rx="4.7" ry="4.4" fill="#3e723a"/>
<ellipse cx="1059.6" cy="548.6" rx="4.7" ry="4.4" fill="#3e7239"/>
<ellipse cx="1066.0" cy="547.0" rx="4.7" ry="4.4" fill="#3f743a"/>
<ellipse cx="1021.2" cy="552.5" rx="4.7" ry="4.4" fill="#346331"/>
<ellipse cx="1026.6" cy="552.0" rx="4.7" ry="4.4" fill="#346331"/>
<ellipse cx="1030.9" cy="551.8" rx="4.7" ry="4.4" fill="#346431"/>
<ellipse cx="1035.6" cy="553.5" rx="4.7" ry="4.4" fill="#336231"/>
<ellipse cx="1041.5" cy="553.6" rx="4.7" ry="4.4" fill="#336230"/>
<ellipse cx="1045.5" cy="552.6" rx="4.7" ry="4.4" fill="#336331"/>
<ellipse cx="1050.7" cy="553.3" rx="4.7" ry="4.4" fill="#336231"/>
<ellipse cx="1055.7" cy="553.4" rx="4.7" ry="4.4" fill="#336231"/>
<ellipse cx="1061.0" cy="554.0" rx="4.7" ry="4.4" fill="#336230"/>
<ellipse cx="1065.7" cy="553.9" rx="4.7" ry="4.4" fill="#336230"/>
<ellipse cx="1062.9" cy="522.8" rx="3.2" ry="1.4" fill="#3c7038"/>
<ellipse cx="1051.5" cy="532.5" rx="1.6" ry="1.2" fill="#548e4a"/>
<ellipse cx="1025.3" cy="526.3" rx="2.8" ry="2.4" fill="#70a664"/>
<ellipse cx="1026.6" cy="497.1" rx="2.3" ry="2.1" fill="#548e4a"/>
<ellipse cx="1050.0" cy="535.0" rx="1.7" ry="1.5" fill="#3c7038"/>
<ellipse cx="1070.9" cy="500.5" rx="1.6" ry="1.3" fill="#3c7038"/>
<ellipse cx="1044.6" cy="541.2" rx="1.3" ry="2.3" fill="#336231"/>
<ellipse cx="1060.8" cy="536.7" rx="2.1" ry="1.5" fill="#467e40"/>
<ellipse cx="1034.6" cy="514.2" rx="1.6" ry="1.2" fill="#3c7038"/>
<ellipse cx="1039.7" cy="501.5" rx="2.6" ry="1.4" fill="#467e40"/>
<ellipse cx="1034.8" cy="537.2" rx="1.5" ry="1.7" fill="#70a664"/>
<ellipse cx="1043.8" cy="541.2" rx="2.6" ry="1.3" fill="#619855"/>
<ellipse cx="1064.7" cy="501.9" rx="1.9" ry="1.5" fill="#4c8444"/>
<ellipse cx="1058.1" cy="498.3" rx="1.9" ry="2.1" fill="#3c7038"/>
<ellipse cx="1043.7" cy="523.9" rx="1.6" ry="2.0" fill="#548e4a"/>
<ellipse cx="1023.4" cy="504.9" rx="2.9" ry="1.7" fill="#548e4a"/>
<ellipse cx="1050.9" cy="508.6" rx="2.7" ry="2.2" fill="#70a664"/>
<ellipse cx="1055.8" cy="505.2" rx="3.1" ry="1.0" fill="#548e4a"/>
<ellipse cx="1056.3" cy="512.9" rx="1.6" ry="1.6" fill="#4c8444"/>
<ellipse cx="1046.9" cy="549.4" rx="2.9" ry="1.1" fill="#497e41"/>
<ellipse cx="1031.3" cy="540.6" rx="2.4" ry="1.0" fill="#619956"/>
<ellipse cx="1058.1" cy="539.4" rx="2.6" ry="2.2" fill="#3b6f37"/>
<ellipse cx="1035.6" cy="526.8" rx="1.5" ry="1.6" fill="#346432"/>
<ellipse cx="1068.1" cy="539.0" rx="2.6" ry="2.3" fill="#3c7038"/>
<ellipse cx="1023.2" cy="503.8" rx="1.4" ry="1.2" fill="#4c8444"/>
<ellipse cx="1025.0" cy="538.9" rx="2.7" ry="1.2" fill="#467e40"/>
<ellipse cx="1039.4" cy="519.9" rx="2.4" ry="2.0" fill="#649c58"/>
<ellipse cx="1021.8" cy="501.7" rx="1.5" ry="2.2" fill="#346432"/>
<ellipse cx="1052.2" cy="548.6" rx="3.1" ry="1.2" fill="#2f5d2e"/>
<ellipse cx="1022.2" cy="540.5" rx="1.5" ry="1.7" fill="#629956"/>
<ellipse cx="1054.6" cy="552.7" rx="1.9" ry="1.7" fill="#5a8b52"/>
<ellipse cx="1043.8" cy="534.2" rx="2.7" ry="1.2" fill="#467e40"/>
<ellipse cx="1060.9" cy="503.2" rx="1.9" ry="2.3" fill="#649c58"/>
<ellipse cx="1063.5" cy="515.4" rx="1.5" ry="1.8" fill="#4c8444"/>
<ellipse cx="1039.6" cy="554.1" rx="1.9" ry="1.0" fill="#4f8147"/>
<ellipse cx="1023.6" cy="512.5" rx="1.5" ry="1.6" fill="#3c7038"/>
<ellipse cx="1057.0" cy="522.3" rx="1.9" ry="2.3" fill="#70a664"/>
<ellipse cx="1063.0" cy="512.4" rx="2.0" ry="1.5" fill="#467e40"/>
<ellipse cx="1025.2" cy="540.8" rx="3.2" ry="1.2" fill="#619856"/>
<ellipse cx="1069.4" cy="529.0" rx="1.3" ry="1.4" fill="#70a664"/>
<ellipse cx="1076.1" cy="501.2" rx="2.7" ry="1.5" fill="#649c58"/>
<ellipse cx="1020.1" cy="539.7" rx="2.7" ry="2.3" fill="#336331"/>
<ellipse cx="1049.6" cy="499.0" rx="3.1" ry="2.3" fill="#649c58"/>
<ellipse cx="1040.8" cy="541.4" rx="2.1" ry="1.5" fill="#326231"/>
<ellipse cx="1057.0" cy="541.0" rx="1.3" ry="1.5" fill="#619855"/>
<ellipse cx="1050.3" cy="550.7" rx="1.5" ry="1.8" fill="#477c40"/>
<ellipse cx="1072.0" cy="516.8" rx="1.7" ry="1.4" fill="#3c7038"/>
<ellipse cx="1067.2" cy="495.8" rx="1.3" ry="1.3" fill="#548e4a"/>
<ellipse cx="1066.7" cy="496.9" rx="3.0" ry="1.4" fill="#467e40"/>
<ellipse cx="1029.8" cy="540.7" rx="2.2" ry="2.2" fill="#4a8142"/>
<ellipse cx="1054.4" cy="548.2" rx="1.7" ry="2.2" fill="#2f5d2e"/>
<ellipse cx="1042.0" cy="531.2" rx="1.7" ry="1.0" fill="#70a664"/>
<ellipse cx="1043.2" cy="515.9" rx="2.8" ry="1.2" fill="#467e40"/>
<ellipse cx="1055.3" cy="494.2" rx="3.1" ry="1.9" fill="#3c7038"/>
<ellipse cx="1072.8" cy="497.1" rx="2.0" ry="1.1" fill="#649c58"/>
<ellipse cx="1073.6" cy="505.7" rx="2.8" ry="1.2" fill="#346432"/>
<ellipse cx="1043.5" cy="512.5" rx="2.9" ry="1.4" fill="#467e40"/>
<ellipse cx="1077.1" cy="500.9" rx="1.8" ry="1.9" fill="#4c8444"/>
<ellipse cx="1073.3" cy="496.2" rx="2.2" ry="1.0" fill="#467e40"/>
<ellipse cx="1070.5" cy="501.6" rx="1.6" ry="2.3" fill="#649c58"/>
<ellipse cx="1070.2" cy="503.0" rx="1.5" ry="1.8" fill="#649c58"/>
<ellipse cx="1050.0" cy="555.1" rx="2.7" ry="1.0" fill="#326130"/>
<ellipse cx="1065.3" cy="550.5" rx="2.9" ry="1.6" fill="#2e5b2d"/>
<ellipse cx="1066.8" cy="504.7" rx="1.8" ry="2.1" fill="#548e4a"/>
<ellipse cx="1038.3" cy="507.8" rx="2.9" ry="1.6" fill="#3c7038"/>
<ellipse cx="1064.9" cy="538.8" rx="1.6" ry="1.0" fill="#346432"/>
<ellipse cx="1065.7" cy="543.9" rx="2.7" ry="1.5" fill="#396b35"/>
<ellipse cx="1075.2" cy="497.3" rx="3.0" ry="2.1" fill="#548e4a"/>
<ellipse cx="1052.7" cy="525.3" rx="1.6" ry="1.2" fill="#70a664"/>
<ellipse cx="1060.7" cy="535.3" rx="1.4" ry="2.2" fill="#548e4a"/>
<ellipse cx="1044.5" cy="548.5" rx="2.8" ry="1.2" fill="#578b4d"/>
<ellipse cx="1033.8" cy="531.3" rx="2.5" ry="1.5" fill="#649c58"/>
<ellipse cx="1070.4" cy="520.6" rx="3.1" ry="1.5" fill="#4c8444"/>
<ellipse cx="1054.3" cy="540.3" rx="2.3" ry="1.4" fill="#336331"/>
<ellipse cx="1045.9" cy="534.0" rx="3.1" ry="1.3" fill="#649c58"/>
<ellipse cx="1053.3" cy="490.9" rx="2.2" ry="2.1" fill="#3c7038"/>
<ellipse cx="1068.5" cy="530.4" rx="1.4" ry="1.7" fill="#4c8444"/>
<ellipse cx="1075.2" cy="519.6" rx="2.9" ry="1.2" fill="#3c7038"/>
<ellipse cx="1045.0" cy="532.5" rx="1.5" ry="1.4" fill="#548e4a"/>
<ellipse cx="1051.4" cy="534.6" rx="1.8" ry="1.4" fill="#649c58"/>
<ellipse cx="1066.1" cy="498.7" rx="2.8" ry="2.1" fill="#649c58"/>
<ellipse cx="1079.9" cy="512.4" rx="1.2" ry="1.8" fill="#548e4a"/>
<ellipse cx="1042.2" cy="529.4" rx="1.5" ry="2.0" fill="#3c7038"/>
<ellipse cx="1034.6" cy="492.2" rx="2.3" ry="1.0" fill="#467e40"/>
<ellipse cx="1045.5" cy="527.7" rx="2.2" ry="1.9" fill="#70a664"/>
<ellipse cx="1029.8" cy="542.3" rx="2.2" ry="1.7" fill="#326130"/>
<ellipse cx="1040.0" cy="517.2" rx="2.5" ry="1.4" fill="#548e4a"/>
<ellipse cx="1074.1" cy="503.0" rx="1.6" ry="1.9" fill="#3c7038"/>
<ellipse cx="1055.4" cy="553.0" rx="1.9" ry="1.3" fill="#3f713a"/>
<ellipse cx="1023.8" cy="500.2" rx="1.4" ry="2.2" fill="#346432"/>
<ellipse cx="1055.3" cy="521.4" rx="2.6" ry="2.2" fill="#346432"/>
<ellipse cx="1039.7" cy="510.2" rx="2.6" ry="1.5" fill="#3c7038"/>
<ellipse cx="1032.5" cy="543.4" rx="2.9" ry="1.1" fill="#326030"/>
<ellipse cx="1050.7" cy="527.1" rx="2.3" ry="1.7" fill="#649c58"/>
<ellipse cx="1059.3" cy="516.1" rx="1.3" ry="1.8" fill="#4c8444"/>
<ellipse cx="1051.1" cy="498.4" rx="1.7" ry="1.2" fill="#467e40"/>
<ellipse cx="1066.6" cy="520.0" rx="1.7" ry="1.7" fill="#4c8444"/>
<ellipse cx="1054.2" cy="514.5" rx="2.7" ry="2.0" fill="#548e4a"/>
<ellipse cx="1028.0" cy="499.8" rx="3.0" ry="1.9" fill="#3c7038"/>
<ellipse cx="1062.3" cy="494.6" rx="2.2" ry="1.9" fill="#3c7038"/>
<ellipse cx="1038.7" cy="516.4" rx="2.7" ry="1.3" fill="#467e40"/>
<ellipse cx="1050.9" cy="500.4" rx="1.7" ry="2.3" fill="#3c7038"/>
<ellipse cx="1032.0" cy="505.1" rx="2.6" ry="2.1" fill="#3c7038"/>
<ellipse cx="1051.6" cy="518.7" rx="1.4" ry="1.9" fill="#70a664"/>
<ellipse cx="1062.9" cy="505.1" rx="3.2" ry="1.4" fill="#548e4a"/>
<ellipse cx="1058.7" cy="494.3" rx="1.5" ry="1.4" fill="#4c8444"/>
<ellipse cx="1030.7" cy="495.1" rx="3.0" ry="1.5" fill="#467e40"/>
<ellipse cx="1023.0" cy="540.1" rx="1.7" ry="1.5" fill="#336331"/>
<ellipse cx="1073.7" cy="497.2" rx="3.1" ry="1.1" fill="#649c58"/>
<ellipse cx="1035.4" cy="492.4" rx="2.6" ry="1.2" fill="#4c8444"/>
<ellipse cx="1041.8" cy="512.2" rx="1.4" ry="1.5" fill="#467e40"/>
<ellipse cx="1021.7" cy="532.3" rx="2.4" ry="2.1" fill="#3c7038"/>
<ellipse cx="1035.8" cy="533.7" rx="3.1" ry="1.9" fill="#548e4a"/>
<ellipse cx="1032.0" cy="548.3" rx="2.6" ry="2.2" fill="#43773d"/>
<ellipse cx="1032.9" cy="550.3" rx="2.0" ry="1.7" fill="#487d40"/>
<ellipse cx="1060.6" cy="509.5" rx="1.3" ry="1.4" fill="#4c8444"/>
<ellipse cx="1026.0" cy="522.2" rx="1.2" ry="2.1" fill="#4c8444"/>
<ellipse cx="1033.6" cy="536.3" rx="2.6" ry="1.9" fill="#4c8444"/>
<ellipse cx="1042.0" cy="506.5" rx="1.9" ry="1.6" fill="#649c58"/>
<ellipse cx="1019.0" cy="533.1" rx="3.1" ry="2.0" fill="#4c8444"/>
<ellipse cx="1046.2" cy="551.1" rx="2.5" ry="2.3" fill="#3c6f38"/>
<ellipse cx="1040.5" cy="538.7" rx="2.1" ry="2.1" fill="#467e40"/>
<ellipse cx="1069.6" cy="530.8" rx="2.6" ry="1.7" fill="#3c7038"/>
<ellipse cx="1028.5" cy="511.3" rx="2.5" ry="1.1" fill="#3c7038"/>
<ellipse cx="1078.2" cy="499.0" rx="2.1" ry="1.3" fill="#70a664"/>
<ellipse cx="1070.4" cy="494.8" rx="1.2" ry="1.1" fill="#649c58"/>
<ellipse cx="1047.3" cy="511.4" rx="2.2" ry="1.0" fill="#4c8444"/>
<ellipse cx="1027.8" cy="547.2" rx="1.6" ry="1.4" fill="#4b8143"/>
<ellipse cx="1025.3" cy="548.6" rx="2.3" ry="2.1" fill="#2f5d2e"/>
<ellipse cx="1064.7" cy="505.4" rx="1.4" ry="1.4" fill="#467e40"/>
<ellipse cx="1062.4" cy="498.2" rx="3.2" ry="1.8" fill="#467e40"/>
<ellipse cx="1029.9" cy="508.2" rx="2.7" ry="1.6" fill="#346432"/>
<ellipse cx="1045.5" cy="531.4" rx="3.1" ry="1.9" fill="#4c8444"/>
<ellipse cx="1069.6" cy="509.4" rx="1.9" ry="1.6" fill="#649c58"/>
<ellipse cx="1048.4" cy="503.6" rx="3.1" ry="2.0" fill="#4c8444"/>
<ellipse cx="1035.4" cy="518.6" rx="1.7" ry="2.3" fill="#649c58"/>
<ellipse cx="1021.7" cy="512.9" rx="2.4" ry="1.5" fill="#467e40"/>
<ellipse cx="1026.4" cy="515.7" rx="2.1" ry="1.8" fill="#70a664"/>
<ellipse cx="1061.4" cy="504.8" rx="2.5" ry="2.3" fill="#467e40"/>
<ellipse cx="1037.9" cy="501.3" rx="2.4" ry="1.0" fill="#649c58"/>
<ellipse cx="1078.0" cy="509.9" rx="2.2" ry="1.7" fill="#70a664"/>
<ellipse cx="1042.4" cy="541.3" rx="2.1" ry="2.1" fill="#6ca161"/>
<ellipse cx="1051.0" cy="507.2" rx="1.9" ry="1.0" fill="#649c58"/>
<ellipse cx="1050.7" cy="546.1" rx="1.8" ry="2.3" fill="#4c8344"/>
<ellipse cx="1080.1" cy="500.2" rx="2.6" ry="2.2" fill="#548e4a"/>
<ellipse cx="1026.8" cy="517.3" rx="2.3" ry="2.1" fill="#649c58"/>
<ellipse cx="1036.6" cy="531.8" rx="1.6" ry="2.0" fill="#649c58"/>
<ellipse cx="1060.2" cy="506.8" rx="1.9" ry="1.7" fill="#3c7038"/>
<ellipse cx="1030.8" cy="530.6" rx="1.8" ry="1.3" fill="#3c7038"/>
<ellipse cx="1046.7" cy="505.5" rx="3.0" ry="1.8" fill="#649c58"/>
<ellipse cx="1050.3" cy="517.9" rx="1.8" ry="2.0" fill="#70a664"/>
<ellipse cx="1041.9" cy="507.4" rx="2.0" ry="1.1" fill="#649c58"/>
<ellipse cx="1038.2" cy="513.5" rx="2.7" ry="1.0" fill="#548e4a"/>
<ellipse cx="1042.6" cy="532.7" rx="2.6" ry="2.2" fill="#346432"/>
<ellipse cx="1048.8" cy="504.5" rx="1.2" ry="2.1" fill="#467e40"/>
<ellipse cx="1027.1" cy="515.2" rx="2.7" ry="2.0" fill="#346432"/>
<ellipse cx="1029.0" cy="513.5" rx="2.1" ry="1.2" fill="#649c58"/>
<ellipse cx="1056.4" cy="496.5" rx="2.8" ry="1.6" fill="#467e40"/>
<ellipse cx="1049.7" cy="522.5" rx="1.5" ry="1.6" fill="#649c58"/>
<ellipse cx="1045.2" cy="551.6" rx="2.0" ry="1.7" fill="#53864a"/>
<ellipse cx="1026.7" cy="544.1" rx="2.0" ry="1.3" fill="#5d9352"/>
<ellipse cx="1042.1" cy="540.7" rx="1.6" ry="2.2" fill="#447c3e"/>
<ellipse cx="1026.0" cy="505.1" rx="2.9" ry="2.0" fill="#3c7038"/>
<ellipse cx="1032.2" cy="538.0" rx="1.3" ry="1.5" fill="#4c8444"/>
<ellipse cx="1076.0" cy="497.6" rx="3.2" ry="1.6" fill="#649c58"/>
<ellipse cx="1052.1" cy="503.8" rx="1.5" ry="2.4" fill="#649c58"/>
<ellipse cx="1019.7" cy="517.1" rx="2.2" ry="2.4" fill="#3c7038"/>
<ellipse cx="1050.8" cy="497.2" rx="1.4" ry="1.5" fill="#346432"/>
<ellipse cx="1022.2" cy="522.1" rx="3.0" ry="1.8" fill="#548e4a"/>
<ellipse cx="1025.1" cy="511.5" rx="2.3" ry="1.9" fill="#649c58"/>
<ellipse cx="1071.7" cy="518.3" rx="2.9" ry="1.9" fill="#346432"/>
<ellipse cx="1066.3" cy="516.7" rx="1.4" ry="2.3" fill="#346432"/>
<ellipse cx="1068.9" cy="511.1" rx="1.4" ry="2.2" fill="#467e40"/>
<ellipse cx="1067.3" cy="549.5" rx="2.3" ry="2.1" fill="#356632"/>
<ellipse cx="1052.0" cy="551.2" rx="2.5" ry="1.4" fill="#2e5b2d"/>
<ellipse cx="1035.0" cy="519.3" rx="2.3" ry="1.2" fill="#649c58"/>
<ellipse cx="1031.2" cy="494.0" rx="2.5" ry="1.9" fill="#3c7038"/>
<ellipse cx="1076.7" cy="493.9" rx="1.5" ry="1.3" fill="#467e40"/>
<ellipse cx="1025.7" cy="541.5" rx="2.6" ry="1.3" fill="#326231"/>
<ellipse cx="1034.4" cy="548.8" rx="2.4" ry="1.7" fill="#609357"/>
<ellipse cx="1040.9" cy="509.8" rx="1.4" ry="2.1" fill="#467e40"/>
<ellipse cx="1047.3" cy="529.5" rx="1.8" ry="1.2" fill="#346432"/>
<ellipse cx="1035.1" cy="551.0" rx="2.2" ry="1.1" fill="#346432"/>
<ellipse cx="1054.1" cy="495.6" rx="1.7" ry="2.1" fill="#346432"/>
<ellipse cx="1041.4" cy="553.7" rx="1.4" ry="1.7" fill="#3e7039"/>
<ellipse cx="1055.2" cy="504.6" rx="2.1" ry="2.3" fill="#3c7038"/>
<ellipse cx="1020.4" cy="513.8" rx="1.6" ry="1.3" fill="#346432"/>
<ellipse cx="1021.2" cy="536.6" rx="3.1" ry="1.2" fill="#3c7038"/>
<ellipse cx="1068.2" cy="537.7" rx="1.7" ry="1.8" fill="#4c8444"/>
<ellipse cx="1073.1" cy="520.0" rx="2.5" ry="1.7" fill="#467e40"/>
<ellipse cx="1051.6" cy="507.7" rx="2.1" ry="2.3" fill="#467e40"/>
<ellipse cx="1079.1" cy="500.0" rx="2.9" ry="1.3" fill="#548e4a"/>
<ellipse cx="1047.9" cy="502.6" rx="2.9" ry="2.3" fill="#467e40"/>
<ellipse cx="1074.4" cy="515.4" rx="2.8" ry="2.0" fill="#548e4a"/>
<ellipse cx="1060.2" cy="495.8" rx="3.2" ry="1.5" fill="#3c7038"/>
<ellipse cx="1032.6" cy="530.1" rx="2.3" ry="1.7" fill="#346432"/>
<ellipse cx="1061.1" cy="536.8" rx="1.5" ry="1.0" fill="#3c7038"/>
<ellipse cx="1039.6" cy="515.4" rx="1.6" ry="1.0" fill="#649c58"/>
<ellipse cx="1053.8" cy="553.5" rx="1.5" ry="2.4" fill="#598a51"/>
<ellipse cx="1076.8" cy="507.6" rx="2.4" ry="1.6" fill="#548e4a"/>
<ellipse cx="1018.6" cy="532.2" rx="1.5" ry="1.9" fill="#346432"/>
<ellipse cx="1026.0" cy="520.3" rx="3.0" ry="1.2" fill="#548e4a"/>
<ellipse cx="1062.7" cy="535.5" rx="2.9" ry="1.8" fill="#4c8444"/>
<ellipse cx="1035.9" cy="515.6" rx="1.7" ry="1.5" fill="#548e4a"/>
<ellipse cx="1073.1" cy="501.7" rx="1.3" ry="1.5" fill="#3c7038"/>
<ellipse cx="1058.6" cy="531.4" rx="1.6" ry="1.8" fill="#70a664"/>
<ellipse cx="1026.8" cy="532.8" rx="2.8" ry="2.2" fill="#70a664"/>
<ellipse cx="1019.0" cy="540.3" rx="2.5" ry="1.4" fill="#3b6e37"/>
<ellipse cx="1036.3" cy="498.5" rx="2.9" ry="1.9" fill="#70a664"/>
<ellipse cx="1041.0" cy="508.3" rx="1.6" ry="1.6" fill="#548e4a"/>
<ellipse cx="1052.8" cy="503.6" rx="2.7" ry="2.2" fill="#70a664"/>
<ellipse cx="1055.0" cy="538.7" rx="2.0" ry="1.5" fill="#4c8444"/>
<ellipse cx="1050.7" cy="540.7" rx="2.0" ry="1.9" fill="#528b48"/>
<ellipse cx="1080.0" cy="504.3" rx="2.5" ry="1.5" fill="#3c7038"/>
<ellipse cx="1075.9" cy="507.8" rx="3.2" ry="1.3" fill="#3c7038"/>
<ellipse cx="1058.3" cy="541.7" rx="1.9" ry="1.8" fill="#3a6d36"/>
<ellipse cx="1041.7" cy="527.0" rx="1.3" ry="1.7" fill="#346432"/>
<ellipse cx="1032.0" cy="528.2" rx="3.0" ry="2.0" fill="#548e4a"/>
<ellipse cx="1067.8" cy="546.0" rx="1.8" ry="2.3" fill="#65985a"/>
<ellipse cx="1068.5" cy="508.9" rx="2.7" ry="1.6" fill="#4c8444"/>
<ellipse cx="1063.2" cy="514.6" rx="1.5" ry="1.6" fill="#3c7038"/>
<ellipse cx="1073.2" cy="501.4" rx="2.0" ry="1.5" fill="#3c7038"/>
<ellipse cx="1042.6" cy="527.0" rx="2.7" ry="1.5" fill="#548e4a"/>
<ellipse cx="1029.8" cy="502.9" rx="1.8" ry="1.6" fill="#4c8444"/>
<ellipse cx="1047.5" cy="512.0" rx="2.0" ry="2.0" fill="#649c58"/>
<ellipse cx="1031.5" cy="550.7" rx="2.5" ry="1.7" fill="#2e5b2d"/>
<ellipse cx="1031.3" cy="507.9" rx="1.4" ry="1.6" fill="#649c58"/>
<ellipse cx="1076.6" cy="515.1" rx="3.1" ry="1.8" fill="#4c8444"/>
<ellipse cx="1034.9" cy="537.5" rx="2.1" ry="1.1" fill="#4c8444"/>
<ellipse cx="1048.3" cy="515.8" rx="2.5" ry="2.3" fill="#467e40"/>
<path d="M1046.5,555.2 L1048.5,538.4 L1050.4,538.4 L1049.4,555.2 Z" fill="#a8987a"/>
<path d="M1058.2,555.2 L1058.5,542.3 L1060.1,542.3 L1060.4,555.2 Z" fill="#9aa088"/>
<ellipse cx="1062.1" cy="526.8" rx="1.8" ry="1.5" fill="#e8eee4"/>
<ellipse cx="1027.7" cy="537.1" rx="2.6" ry="3.6" fill="#a9c6b5"/>
<ellipse cx="1077.6" cy="552.6" rx="5.5" ry="2.6" fill="#e6e6e2"/>
<ellipse cx="1069.8" cy="528.1" rx="4.0" ry="3.0" fill="#2f5c34"/>
</g></g>
<clipPath id="tc3"><rect x="1088.90" y="490.6" width="62.10" height="64.60"/></clipPath>
<g clip-path="url(#tc3)">
<rect x="1088.90" y="490.60" width="62.10" height="64.60" fill="#c5dbf2" stroke="none" stroke-width="1" />
<g filter="url(#b2)">
<ellipse cx="1110.8" cy="498.3" rx="4.5" ry="4.4" fill="#5c7c22"/>
<ellipse cx="1120.5" cy="498.1" rx="4.5" ry="4.4" fill="#5c7c22"/>
<ellipse cx="1106.0" cy="502.2" rx="4.5" ry="4.4" fill="#789832"/>
<ellipse cx="1111.6" cy="501.8" rx="4.5" ry="4.4" fill="#789832"/>
<ellipse cx="1114.4" cy="501.1" rx="4.5" ry="4.4" fill="#789832"/>
<ellipse cx="1119.6" cy="503.0" rx="4.5" ry="4.4" fill="#789832"/>
<ellipse cx="1125.0" cy="501.0" rx="4.5" ry="4.4" fill="#789832"/>
<ellipse cx="1129.3" cy="501.0" rx="4.5" ry="4.4" fill="#789832"/>
<ellipse cx="1095.5" cy="507.2" rx="4.5" ry="4.4" fill="#688828"/>
<ellipse cx="1101.2" cy="506.0" rx="4.5" ry="4.4" fill="#688828"/>
<ellipse cx="1106.5" cy="507.6" rx="4.5" ry="4.4" fill="#688828"/>
<ellipse cx="1109.8" cy="507.9" rx="4.5" ry="4.4" fill="#688828"/>
<ellipse cx="1114.6" cy="505.6" rx="4.5" ry="4.4" fill="#688828"/>
<ellipse cx="1120.0" cy="507.7" rx="4.5" ry="4.4" fill="#688828"/>
<ellipse cx="1125.0" cy="506.9" rx="4.5" ry="4.4" fill="#688828"/>
<ellipse cx="1129.5" cy="506.2" rx="4.5" ry="4.4" fill="#688828"/>
<ellipse cx="1133.8" cy="506.5" rx="4.5" ry="4.4" fill="#688828"/>
<ellipse cx="1139.2" cy="507.9" rx="4.5" ry="4.4" fill="#688828"/>
<ellipse cx="1096.4" cy="512.4" rx="4.5" ry="4.4" fill="#5c7c22"/>
<ellipse cx="1099.8" cy="512.4" rx="4.5" ry="4.4" fill="#5c7c22"/>
<ellipse cx="1106.3" cy="510.8" rx="4.5" ry="4.4" fill="#5c7c22"/>
<ellipse cx="1110.5" cy="512.2" rx="4.5" ry="4.4" fill="#5c7c22"/>
<ellipse cx="1114.5" cy="511.9" rx="4.5" ry="4.4" fill="#5c7c22"/>
<ellipse cx="1120.1" cy="510.3" rx="4.5" ry="4.4" fill="#5c7c22"/>
<ellipse cx="1124.2" cy="511.1" rx="4.5" ry="4.4" fill="#5c7c22"/>
<ellipse cx="1128.6" cy="512.5" rx="4.5" ry="4.4" fill="#5c7c22"/>
<ellipse cx="1133.7" cy="510.7" rx="4.5" ry="4.4" fill="#5c7c22"/>
<ellipse cx="1139.3" cy="511.4" rx="4.5" ry="4.4" fill="#5c7c22"/>
<ellipse cx="1143.4" cy="510.9" rx="4.5" ry="4.4" fill="#5c7c22"/>
<ellipse cx="1090.2" cy="517.0" rx="4.5" ry="4.4" fill="#789832"/>
<ellipse cx="1097.2" cy="516.5" rx="4.5" ry="4.4" fill="#789832"/>
<ellipse cx="1101.6" cy="515.7" rx="4.5" ry="4.4" fill="#789832"/>
<ellipse cx="1106.8" cy="516.6" rx="4.5" ry="4.4" fill="#789832"/>
<ellipse cx="1110.9" cy="515.8" rx="4.5" ry="4.4" fill="#789832"/>
<ellipse cx="1114.5" cy="516.5" rx="4.5" ry="4.4" fill="#789832"/>
<ellipse cx="1120.5" cy="514.7" rx="4.5" ry="4.4" fill="#789832"/>
<ellipse cx="1124.3" cy="516.1" rx="4.5" ry="4.4" fill="#789832"/>
<ellipse cx="1128.8" cy="515.0" rx="4.5" ry="4.4" fill="#789832"/>
<ellipse cx="1133.5" cy="514.7" rx="4.5" ry="4.4" fill="#789832"/>
<ellipse cx="1138.1" cy="515.7" rx="4.5" ry="4.4" fill="#789832"/>
<ellipse cx="1143.8" cy="516.3" rx="4.5" ry="4.4" fill="#789832"/>
<ellipse cx="1092.3" cy="520.9" rx="4.5" ry="4.4" fill="#688828"/>
<ellipse cx="1096.5" cy="521.1" rx="4.5" ry="4.4" fill="#688828"/>
<ellipse cx="1100.4" cy="520.8" rx="4.5" ry="4.4" fill="#688828"/>
<ellipse cx="1105.2" cy="521.0" rx="4.5" ry="4.4" fill="#688828"/>
<ellipse cx="1111.2" cy="519.3" rx="4.5" ry="4.4" fill="#688828"/>
<ellipse cx="1115.9" cy="519.6" rx="4.5" ry="4.4" fill="#688828"/>
<ellipse cx="1118.7" cy="519.5" rx="4.5" ry="4.4" fill="#688828"/>
<ellipse cx="1124.9" cy="521.5" rx="4.5" ry="4.4" fill="#688828"/>
<ellipse cx="1130.6" cy="519.7" rx="4.5" ry="4.4" fill="#688828"/>
<ellipse cx="1134.1" cy="521.7" rx="4.5" ry="4.4" fill="#688828"/>
<ellipse cx="1140.0" cy="521.4" rx="4.5" ry="4.4" fill="#688828"/>
<ellipse cx="1143.2" cy="520.0" rx="4.5" ry="4.4" fill="#688828"/>
<ellipse cx="1147.7" cy="520.0" rx="4.5" ry="4.4" fill="#688828"/>
<ellipse cx="1091.1" cy="526.0" rx="4.5" ry="4.4" fill="#5c7c22"/>
<ellipse cx="1096.5" cy="524.4" rx="4.5" ry="4.4" fill="#5c7c22"/>
<ellipse cx="1100.0" cy="525.1" rx="4.5" ry="4.4" fill="#5c7c22"/>
<ellipse cx="1106.6" cy="525.1" rx="4.5" ry="4.4" fill="#5c7c22"/>
<ellipse cx="1111.1" cy="525.7" rx="4.5" ry="4.4" fill="#5c7c22"/>
<ellipse cx="1116.1" cy="525.2" rx="4.5" ry="4.4" fill="#5c7c22"/>
<ellipse cx="1119.6" cy="525.1" rx="4.5" ry="4.4" fill="#5c7c22"/>
<ellipse cx="1125.5" cy="524.6" rx="4.5" ry="4.4" fill="#5c7c22"/>
<ellipse cx="1128.7" cy="526.1" rx="4.5" ry="4.4" fill="#5c7c22"/>
<ellipse cx="1134.2" cy="525.6" rx="4.5" ry="4.4" fill="#5c7c22"/>
<ellipse cx="1138.2" cy="524.0" rx="4.5" ry="4.4" fill="#5c7c22"/>
<ellipse cx="1143.2" cy="525.0" rx="4.5" ry="4.4" fill="#5c7c22"/>
<ellipse cx="1147.5" cy="524.6" rx="4.5" ry="4.4" fill="#5c7c22"/>
<ellipse cx="1092.4" cy="529.7" rx="4.5" ry="4.4" fill="#6d8c2e"/>
<ellipse cx="1094.8" cy="530.6" rx="4.5" ry="4.4" fill="#6b892d"/>
<ellipse cx="1100.3" cy="529.0" rx="4.5" ry="4.4" fill="#6f8f2e"/>
<ellipse cx="1106.0" cy="530.2" rx="4.5" ry="4.4" fill="#6c8b2d"/>
<ellipse cx="1110.0" cy="530.4" rx="4.5" ry="4.4" fill="#6b8a2d"/>
<ellipse cx="1116.1" cy="529.4" rx="4.5" ry="4.4" fill="#71912f"/>
<ellipse cx="1119.9" cy="528.5" rx="4.5" ry="4.4" fill="#749430"/>
<ellipse cx="1125.0" cy="529.3" rx="4.5" ry="4.4" fill="#789832"/>
<ellipse cx="1129.9" cy="530.5" rx="4.5" ry="4.4" fill="#789832"/>
<ellipse cx="1133.9" cy="530.3" rx="4.5" ry="4.4" fill="#789832"/>
<ellipse cx="1140.2" cy="529.0" rx="4.5" ry="4.4" fill="#789832"/>
<ellipse cx="1144.6" cy="529.8" rx="4.5" ry="4.4" fill="#789832"/>
<ellipse cx="1149.7" cy="528.7" rx="4.5" ry="4.4" fill="#789832"/>
<ellipse cx="1091.0" cy="533.6" rx="4.5" ry="4.4" fill="#567422"/>
<ellipse cx="1095.5" cy="535.4" rx="4.5" ry="4.4" fill="#526f21"/>
<ellipse cx="1100.9" cy="534.1" rx="4.5" ry="4.4" fill="#557322"/>
<ellipse cx="1106.8" cy="533.3" rx="4.5" ry="4.4" fill="#577522"/>
<ellipse cx="1109.2" cy="535.1" rx="4.5" ry="4.4" fill="#527021"/>
<ellipse cx="1115.3" cy="535.3" rx="4.5" ry="4.4" fill="#587623"/>
<ellipse cx="1119.9" cy="535.6" rx="4.5" ry="4.4" fill="#5d7c24"/>
<ellipse cx="1124.3" cy="533.7" rx="4.5" ry="4.4" fill="#688828"/>
<ellipse cx="1130.5" cy="534.5" rx="4.5" ry="4.4" fill="#688828"/>
<ellipse cx="1133.1" cy="533.2" rx="4.5" ry="4.4" fill="#688828"/>
<ellipse cx="1137.9" cy="535.0" rx="4.5" ry="4.4" fill="#688828"/>
<ellipse cx="1144.2" cy="533.4" rx="4.5" ry="4.4" fill="#688828"/>
<ellipse cx="1149.3" cy="535.1" rx="4.5" ry="4.4" fill="#688828"/>
<ellipse cx="1091.6" cy="539.3" rx="4.5" ry="4.4" fill="#425e1a"/>
<ellipse cx="1095.9" cy="539.5" rx="4.5" ry="4.4" fill="#415e1a"/>
<ellipse cx="1100.6" cy="540.2" rx="4.5" ry="4.4" fill="#405c1a"/>
<ellipse cx="1105.8" cy="539.5" rx="4.5" ry="4.4" fill="#415e1a"/>
<ellipse cx="1111.5" cy="540.3" rx="4.5" ry="4.4" fill="#425f1a"/>
<ellipse cx="1115.3" cy="538.0" rx="4.5" ry="4.4" fill="#4b691d"/>
<ellipse cx="1120.0" cy="540.1" rx="4.5" ry="4.4" fill="#4f6d1e"/>
<ellipse cx="1124.0" cy="538.4" rx="4.5" ry="4.4" fill="#5c7c22"/>
<ellipse cx="1128.9" cy="538.4" rx="4.5" ry="4.4" fill="#5c7c22"/>
<ellipse cx="1135.1" cy="539.1" rx="4.5" ry="4.4" fill="#5b7b21"/>
<ellipse cx="1138.0" cy="539.1" rx="4.5" ry="4.4" fill="#5b7b21"/>
<ellipse cx="1144.3" cy="537.8" rx="4.5" ry="4.4" fill="#5c7c22"/>
<ellipse cx="1147.9" cy="537.8" rx="4.5" ry="4.4" fill="#5c7c22"/>
<ellipse cx="1091.8" cy="543.4" rx="4.5" ry="4.4" fill="#46611f"/>
<ellipse cx="1094.9" cy="543.0" rx="4.5" ry="4.4" fill="#47621f"/>
<ellipse cx="1100.1" cy="543.8" rx="4.5" ry="4.4" fill="#44601e"/>
<ellipse cx="1105.4" cy="543.5" rx="4.5" ry="4.4" fill="#46611f"/>
<ellipse cx="1110.0" cy="542.5" rx="4.5" ry="4.4" fill="#486420"/>
<ellipse cx="1114.7" cy="544.0" rx="4.5" ry="4.4" fill="#516d23"/>
<ellipse cx="1120.0" cy="543.9" rx="4.5" ry="4.4" fill="#607e29"/>
<ellipse cx="1123.9" cy="542.5" rx="4.5" ry="4.4" fill="#72922f"/>
<ellipse cx="1130.2" cy="544.2" rx="4.5" ry="4.4" fill="#6f8e2e"/>
<ellipse cx="1134.7" cy="544.9" rx="4.5" ry="4.4" fill="#6e8d2e"/>
<ellipse cx="1138.6" cy="544.3" rx="4.5" ry="4.4" fill="#6f8e2e"/>
<ellipse cx="1143.3" cy="543.9" rx="4.5" ry="4.4" fill="#708f2f"/>
<ellipse cx="1149.6" cy="543.5" rx="4.5" ry="4.4" fill="#70902f"/>
<ellipse cx="1091.6" cy="549.5" rx="4.5" ry="4.4" fill="#3a5519"/>
<ellipse cx="1096.0" cy="547.6" rx="4.5" ry="4.4" fill="#3a5519"/>
<ellipse cx="1102.0" cy="548.7" rx="4.5" ry="4.4" fill="#3a5519"/>
<ellipse cx="1105.2" cy="547.7" rx="4.5" ry="4.4" fill="#3a5519"/>
<ellipse cx="1109.2" cy="547.2" rx="4.5" ry="4.4" fill="#3a5519"/>
<ellipse cx="1116.4" cy="548.4" rx="4.5" ry="4.4" fill="#4a661e"/>
<ellipse cx="1120.6" cy="547.6" rx="4.5" ry="4.4" fill="#547221"/>
<ellipse cx="1125.6" cy="548.8" rx="4.5" ry="4.4" fill="#5b7924"/>
<ellipse cx="1130.4" cy="548.2" rx="4.5" ry="4.4" fill="#5c7a24"/>
<ellipse cx="1135.3" cy="548.5" rx="4.5" ry="4.4" fill="#5b7a24"/>
<ellipse cx="1138.2" cy="549.3" rx="4.5" ry="4.4" fill="#5a7923"/>
<ellipse cx="1143.3" cy="549.4" rx="4.5" ry="4.4" fill="#5a7923"/>
<ellipse cx="1148.7" cy="548.0" rx="4.5" ry="4.4" fill="#5c7b24"/>
<ellipse cx="1091.3" cy="552.6" rx="4.5" ry="4.4" fill="#365117"/>
<ellipse cx="1095.0" cy="551.7" rx="4.5" ry="4.4" fill="#365117"/>
<ellipse cx="1099.8" cy="553.9" rx="4.5" ry="4.4" fill="#365117"/>
<ellipse cx="1105.2" cy="551.7" rx="4.5" ry="4.4" fill="#365117"/>
<ellipse cx="1110.1" cy="553.2" rx="4.5" ry="4.4" fill="#365117"/>
<ellipse cx="1115.5" cy="554.0" rx="4.5" ry="4.4" fill="#415d1a"/>
<ellipse cx="1119.6" cy="554.1" rx="4.5" ry="4.4" fill="#49671c"/>
<ellipse cx="1123.5" cy="552.0" rx="4.5" ry="4.4" fill="#4e6c1e"/>
<ellipse cx="1129.5" cy="553.3" rx="4.5" ry="4.4" fill="#4c6a1d"/>
<ellipse cx="1134.1" cy="553.6" rx="4.5" ry="4.4" fill="#4c6a1d"/>
<ellipse cx="1139.2" cy="551.6" rx="4.5" ry="4.4" fill="#4e6c1e"/>
<ellipse cx="1128.9" cy="520.3" rx="3.1" ry="1.4" fill="#5c7c22"/>
<ellipse cx="1115.8" cy="518.0" rx="2.3" ry="2.2" fill="#88a63e"/>
<ellipse cx="1101.2" cy="552.8" rx="2.0" ry="2.1" fill="#455f21"/>
<ellipse cx="1131.2" cy="503.0" rx="2.8" ry="1.5" fill="#506e1e"/>
<ellipse cx="1134.0" cy="521.7" rx="2.0" ry="1.8" fill="#6e8e2c"/>
<ellipse cx="1103.7" cy="546.1" rx="1.2" ry="1.7" fill="#365117"/>
<ellipse cx="1115.6" cy="512.6" rx="1.6" ry="1.6" fill="#94b04a"/>
<ellipse cx="1096.2" cy="550.5" rx="1.4" ry="2.3" fill="#365117"/>
<ellipse cx="1092.1" cy="530.1" rx="2.6" ry="1.1" fill="#5e7d25"/>
<ellipse cx="1096.7" cy="507.1" rx="2.0" ry="2.3" fill="#688828"/>
<ellipse cx="1133.2" cy="503.4" rx="1.3" ry="2.0" fill="#6e8e2c"/>
<ellipse cx="1103.7" cy="547.5" rx="1.5" ry="1.6" fill="#3a5519"/>
<ellipse cx="1117.9" cy="525.3" rx="3.1" ry="1.3" fill="#506e1e"/>
<ellipse cx="1112.0" cy="545.7" rx="3.0" ry="1.9" fill="#516b29"/>
<ellipse cx="1103.8" cy="508.0" rx="2.0" ry="2.0" fill="#5c7c22"/>
<ellipse cx="1116.5" cy="544.5" rx="1.3" ry="1.7" fill="#44611b"/>
<ellipse cx="1111.6" cy="501.5" rx="1.9" ry="1.4" fill="#789832"/>
<ellipse cx="1130.6" cy="533.6" rx="2.8" ry="1.4" fill="#506e1e"/>
<ellipse cx="1114.1" cy="518.7" rx="2.0" ry="2.0" fill="#688828"/>
<ellipse cx="1139.3" cy="545.2" rx="2.5" ry="2.3" fill="#4a681c"/>
<ellipse cx="1091.6" cy="552.9" rx="2.7" ry="1.3" fill="#3a5519"/>
<ellipse cx="1093.3" cy="541.0" rx="3.0" ry="1.4" fill="#395418"/>
<ellipse cx="1129.4" cy="553.2" rx="1.4" ry="2.0" fill="#76913b"/>
<ellipse cx="1110.3" cy="532.5" rx="3.2" ry="1.2" fill="#4f6e1e"/>
<ellipse cx="1106.8" cy="517.4" rx="1.5" ry="2.0" fill="#688828"/>
<ellipse cx="1127.8" cy="510.7" rx="3.2" ry="2.1" fill="#506e1e"/>
<ellipse cx="1140.3" cy="517.5" rx="2.0" ry="2.0" fill="#688828"/>
<ellipse cx="1141.8" cy="530.7" rx="2.6" ry="1.1" fill="#506e1e"/>
<ellipse cx="1106.8" cy="535.7" rx="1.9" ry="1.3" fill="#415d1a"/>
<ellipse cx="1137.4" cy="511.0" rx="2.8" ry="2.0" fill="#94b04a"/>
<ellipse cx="1134.9" cy="517.4" rx="2.1" ry="1.1" fill="#506e1e"/>
<ellipse cx="1104.0" cy="523.2" rx="2.4" ry="1.0" fill="#5c7c22"/>
<ellipse cx="1114.9" cy="553.4" rx="2.3" ry="1.6" fill="#577228"/>
<ellipse cx="1144.8" cy="530.5" rx="2.5" ry="1.8" fill="#5c7c22"/>
<ellipse cx="1115.4" cy="544.7" rx="2.1" ry="1.7" fill="#5a762a"/>
<ellipse cx="1143.5" cy="517.9" rx="2.0" ry="2.0" fill="#88a63e"/>
<ellipse cx="1114.7" cy="546.1" rx="2.8" ry="2.1" fill="#4e6a22"/>
<ellipse cx="1145.2" cy="544.0" rx="1.5" ry="1.2" fill="#89a544"/>
<ellipse cx="1120.9" cy="539.2" rx="1.3" ry="1.7" fill="#47641b"/>
<ellipse cx="1091.5" cy="523.7" rx="3.0" ry="1.7" fill="#94b04a"/>
<ellipse cx="1141.1" cy="527.0" rx="2.0" ry="1.0" fill="#94b04a"/>
<ellipse cx="1111.2" cy="504.7" rx="1.3" ry="2.0" fill="#506e1e"/>
<ellipse cx="1126.6" cy="545.2" rx="2.9" ry="1.5" fill="#6e8d2e"/>
<ellipse cx="1100.2" cy="513.2" rx="2.6" ry="1.1" fill="#688828"/>
<ellipse cx="1138.3" cy="543.0" rx="2.4" ry="1.8" fill="#809e3a"/>
<ellipse cx="1145.0" cy="534.2" rx="2.6" ry="1.2" fill="#789832"/>
<ellipse cx="1109.9" cy="516.2" rx="2.9" ry="1.1" fill="#5c7c22"/>
<ellipse cx="1117.5" cy="545.2" rx="2.1" ry="1.2" fill="#577425"/>
<ellipse cx="1125.9" cy="510.8" rx="2.2" ry="1.3" fill="#688828"/>
<ellipse cx="1107.7" cy="519.5" rx="2.7" ry="2.0" fill="#6e8e2c"/>
<ellipse cx="1120.0" cy="531.1" rx="1.6" ry="1.7" fill="#8ba645"/>
<ellipse cx="1108.4" cy="551.2" rx="3.2" ry="1.5" fill="#405a1d"/>
<ellipse cx="1131.6" cy="500.7" rx="1.3" ry="1.4" fill="#88a63e"/>
<ellipse cx="1114.5" cy="539.9" rx="1.2" ry="1.7" fill="#537022"/>
<ellipse cx="1136.7" cy="537.0" rx="3.1" ry="1.7" fill="#5c7c22"/>
<ellipse cx="1105.9" cy="501.9" rx="2.4" ry="2.4" fill="#94b04a"/>
<ellipse cx="1103.3" cy="518.1" rx="1.9" ry="1.0" fill="#789832"/>
<ellipse cx="1128.7" cy="527.1" rx="1.6" ry="1.8" fill="#688828"/>
<ellipse cx="1126.7" cy="521.2" rx="2.8" ry="1.9" fill="#5c7c22"/>
<ellipse cx="1126.6" cy="545.8" rx="2.5" ry="1.0" fill="#5f7e25"/>
<ellipse cx="1137.5" cy="553.6" rx="2.9" ry="2.3" fill="#4c6a1d"/>
<ellipse cx="1122.1" cy="499.7" rx="2.1" ry="1.0" fill="#94b04a"/>
<ellipse cx="1118.9" cy="499.2" rx="1.6" ry="1.6" fill="#5c7c22"/>
<ellipse cx="1104.3" cy="509.4" rx="1.8" ry="1.2" fill="#94b04a"/>
<ellipse cx="1113.5" cy="508.6" rx="1.8" ry="1.0" fill="#789832"/>
<ellipse cx="1119.6" cy="520.2" rx="2.9" ry="1.1" fill="#88a63e"/>
<ellipse cx="1144.8" cy="511.5" rx="1.5" ry="1.9" fill="#6e8e2c"/>
<ellipse cx="1113.9" cy="540.3" rx="1.8" ry="2.0" fill="#688334"/>
<ellipse cx="1110.1" cy="532.6" rx="1.3" ry="1.3" fill="#46621b"/>
<ellipse cx="1138.2" cy="514.7" rx="2.4" ry="1.6" fill="#506e1e"/>
<ellipse cx="1149.8" cy="546.4" rx="2.1" ry="1.9" fill="#638228"/>
<ellipse cx="1117.7" cy="534.4" rx="1.7" ry="1.3" fill="#69882c"/>
<ellipse cx="1105.0" cy="521.2" rx="2.3" ry="1.5" fill="#789832"/>
<ellipse cx="1126.6" cy="536.0" rx="3.2" ry="1.2" fill="#5c7c22"/>
<ellipse cx="1127.0" cy="520.4" rx="3.2" ry="1.1" fill="#5c7c22"/>
<ellipse cx="1145.3" cy="513.0" rx="1.6" ry="1.7" fill="#94b04a"/>
<ellipse cx="1095.5" cy="531.6" rx="3.0" ry="1.8" fill="#68862c"/>
<ellipse cx="1132.6" cy="509.4" rx="1.3" ry="1.6" fill="#5c7c22"/>
<ellipse cx="1146.6" cy="534.6" rx="1.6" ry="2.0" fill="#5c7c22"/>
<ellipse cx="1107.6" cy="520.6" rx="2.3" ry="2.1" fill="#94b04a"/>
<ellipse cx="1151.0" cy="530.1" rx="3.0" ry="1.4" fill="#5c7c22"/>
<ellipse cx="1120.6" cy="509.0" rx="1.5" ry="1.3" fill="#506e1e"/>
<ellipse cx="1094.8" cy="554.2" rx="1.9" ry="2.0" fill="#3a5519"/>
<ellipse cx="1140.6" cy="546.2" rx="1.2" ry="2.0" fill="#7a9738"/>
<ellipse cx="1116.7" cy="516.8" rx="1.8" ry="1.0" fill="#688828"/>
<ellipse cx="1137.8" cy="544.0" rx="1.8" ry="1.1" fill="#7e9c39"/>
<ellipse cx="1113.6" cy="553.4" rx="1.4" ry="1.6" fill="#435f1c"/>
<ellipse cx="1123.2" cy="503.5" rx="3.1" ry="2.1" fill="#789832"/>
<ellipse cx="1130.5" cy="523.2" rx="2.9" ry="1.5" fill="#6e8e2c"/>
<ellipse cx="1120.3" cy="506.1" rx="2.1" ry="1.7" fill="#94b04a"/>
<ellipse cx="1121.7" cy="554.5" rx="2.6" ry="2.1" fill="#5b7925"/>
<ellipse cx="1143.2" cy="525.3" rx="2.4" ry="2.1" fill="#5c7c22"/>
<ellipse cx="1146.1" cy="548.4" rx="3.2" ry="2.3" fill="#51701f"/>
<ellipse cx="1131.8" cy="523.9" rx="1.2" ry="1.9" fill="#688828"/>
<ellipse cx="1118.2" cy="537.7" rx="2.7" ry="2.1" fill="#718e34"/>
<ellipse cx="1107.0" cy="500.9" rx="2.4" ry="1.2" fill="#88a63e"/>
<ellipse cx="1145.6" cy="524.8" rx="1.6" ry="1.3" fill="#506e1e"/>
<ellipse cx="1121.2" cy="534.4" rx="1.9" ry="1.4" fill="#557420"/>
<ellipse cx="1128.9" cy="531.6" rx="1.7" ry="2.0" fill="#5c7c22"/>
<ellipse cx="1137.9" cy="544.1" rx="3.0" ry="2.1" fill="#618025"/>
<ellipse cx="1098.0" cy="551.6" rx="2.1" ry="1.2" fill="#405a1d"/>
<ellipse cx="1105.8" cy="510.0" rx="2.4" ry="2.0" fill="#789832"/>
<ellipse cx="1139.4" cy="520.2" rx="1.2" ry="1.8" fill="#94b04a"/>
<ellipse cx="1120.2" cy="549.9" rx="2.3" ry="1.7" fill="#537121"/>
<ellipse cx="1107.9" cy="509.5" rx="2.9" ry="2.3" fill="#5c7c22"/>
<ellipse cx="1110.7" cy="512.1" rx="1.8" ry="2.0" fill="#6e8e2c"/>
<ellipse cx="1118.6" cy="521.9" rx="2.3" ry="1.4" fill="#94b04a"/>
<ellipse cx="1133.5" cy="539.2" rx="2.3" ry="1.4" fill="#6d8d2b"/>
<ellipse cx="1126.0" cy="513.6" rx="2.9" ry="2.1" fill="#789832"/>
<ellipse cx="1122.3" cy="519.4" rx="2.2" ry="1.9" fill="#94b04a"/>
<ellipse cx="1144.3" cy="542.4" rx="2.4" ry="1.4" fill="#819f3b"/>
<ellipse cx="1137.1" cy="516.6" rx="1.8" ry="2.1" fill="#94b04a"/>
<ellipse cx="1121.6" cy="548.7" rx="1.7" ry="2.3" fill="#5b7925"/>
<ellipse cx="1138.2" cy="518.2" rx="2.9" ry="1.1" fill="#88a63e"/>
<ellipse cx="1137.7" cy="542.9" rx="2.9" ry="2.3" fill="#68872a"/>
<ellipse cx="1093.4" cy="518.8" rx="3.1" ry="1.3" fill="#789832"/>
<ellipse cx="1150.6" cy="543.1" rx="3.2" ry="2.0" fill="#68872a"/>
<ellipse cx="1149.1" cy="530.7" rx="1.5" ry="1.5" fill="#5c7c22"/>
<ellipse cx="1095.3" cy="544.1" rx="1.4" ry="1.0" fill="#4f6828"/>
<ellipse cx="1097.0" cy="508.5" rx="1.9" ry="1.7" fill="#5c7c22"/>
<ellipse cx="1089.4" cy="545.4" rx="2.4" ry="2.2" fill="#4a6325"/>
<ellipse cx="1113.4" cy="517.8" rx="3.1" ry="1.1" fill="#506e1e"/>
<ellipse cx="1140.5" cy="547.2" rx="2.9" ry="1.4" fill="#49661c"/>
<ellipse cx="1108.3" cy="538.6" rx="1.6" ry="1.1" fill="#4e6a21"/>
<ellipse cx="1139.9" cy="549.6" rx="1.9" ry="1.2" fill="#5a7823"/>
<ellipse cx="1090.6" cy="526.4" rx="2.0" ry="1.6" fill="#678727"/>
<ellipse cx="1104.4" cy="508.0" rx="2.9" ry="2.0" fill="#6e8e2c"/>
<ellipse cx="1136.7" cy="550.9" rx="1.5" ry="1.6" fill="#718e34"/>
<ellipse cx="1099.5" cy="505.6" rx="1.7" ry="1.7" fill="#5c7c22"/>
<ellipse cx="1119.4" cy="554.5" rx="2.1" ry="1.9" fill="#49661c"/>
<ellipse cx="1129.1" cy="509.9" rx="2.3" ry="1.6" fill="#5c7c22"/>
<ellipse cx="1103.6" cy="511.8" rx="1.8" ry="1.3" fill="#688828"/>
<ellipse cx="1138.3" cy="511.3" rx="2.7" ry="1.5" fill="#6e8e2c"/>
<ellipse cx="1118.4" cy="545.6" rx="1.8" ry="2.0" fill="#637f2e"/>
<ellipse cx="1137.2" cy="533.0" rx="2.6" ry="1.1" fill="#506e1e"/>
<ellipse cx="1121.5" cy="542.2" rx="2.1" ry="2.2" fill="#7c973e"/>
<ellipse cx="1111.4" cy="516.5" rx="2.7" ry="1.4" fill="#5c7c22"/>
<ellipse cx="1113.7" cy="542.7" rx="2.9" ry="1.0" fill="#425e1a"/>
<ellipse cx="1111.0" cy="507.7" rx="1.9" ry="1.8" fill="#506e1e"/>
<ellipse cx="1137.9" cy="532.5" rx="2.4" ry="1.8" fill="#506e1e"/>
<ellipse cx="1122.4" cy="519.1" rx="1.8" ry="1.4" fill="#789832"/>
<ellipse cx="1111.0" cy="527.1" rx="2.5" ry="2.2" fill="#90ac48"/>
<ellipse cx="1115.8" cy="517.2" rx="2.6" ry="1.2" fill="#5c7c22"/>
<ellipse cx="1149.6" cy="535.5" rx="2.9" ry="2.2" fill="#5c7c22"/>
<ellipse cx="1119.5" cy="524.8" rx="2.4" ry="1.2" fill="#5c7c22"/>
<ellipse cx="1141.9" cy="515.9" rx="2.4" ry="1.3" fill="#789832"/>
<ellipse cx="1112.1" cy="502.5" rx="1.8" ry="1.3" fill="#6e8e2c"/>
<ellipse cx="1136.7" cy="504.9" rx="1.3" ry="2.3" fill="#789832"/>
<ellipse cx="1124.3" cy="544.0" rx="2.7" ry="2.2" fill="#89a544"/>
<ellipse cx="1122.9" cy="521.8" rx="2.0" ry="1.9" fill="#5c7c22"/>
<ellipse cx="1091.2" cy="527.4" rx="3.1" ry="2.3" fill="#749430"/>
<ellipse cx="1118.8" cy="543.1" rx="1.3" ry="1.3" fill="#5e7b28"/>
<ellipse cx="1111.8" cy="500.2" rx="2.2" ry="1.1" fill="#88a63e"/>
<ellipse cx="1105.0" cy="548.2" rx="1.4" ry="1.3" fill="#405a1d"/>
<ellipse cx="1100.7" cy="506.5" rx="2.0" ry="2.2" fill="#5c7c22"/>
<ellipse cx="1134.6" cy="526.4" rx="2.9" ry="2.4" fill="#88a63e"/>
<ellipse cx="1126.2" cy="537.7" rx="2.0" ry="2.0" fill="#88a63e"/>
<ellipse cx="1112.7" cy="501.1" rx="2.7" ry="1.6" fill="#94b04a"/>
<ellipse cx="1113.2" cy="509.4" rx="1.7" ry="1.8" fill="#94b04a"/>
<ellipse cx="1124.4" cy="549.7" rx="1.6" ry="2.0" fill="#739035"/>
<ellipse cx="1142.8" cy="512.1" rx="3.0" ry="2.0" fill="#506e1e"/>
<ellipse cx="1133.9" cy="541.5" rx="1.2" ry="1.4" fill="#83a13b"/>
<ellipse cx="1102.2" cy="530.3" rx="2.4" ry="1.5" fill="#6c8a2d"/>
<ellipse cx="1137.4" cy="535.0" rx="2.6" ry="1.9" fill="#94b04a"/>
<ellipse cx="1119.8" cy="529.1" rx="2.9" ry="2.3" fill="#4d6b1d"/>
<ellipse cx="1092.4" cy="542.4" rx="2.3" ry="1.7" fill="#556f2b"/>
<ellipse cx="1103.5" cy="543.0" rx="1.6" ry="1.7" fill="#47621f"/>
<ellipse cx="1113.7" cy="537.0" rx="2.9" ry="1.4" fill="#577524"/>
<ellipse cx="1136.3" cy="536.1" rx="1.9" ry="2.0" fill="#6e8e2c"/>
<ellipse cx="1103.5" cy="533.3" rx="2.3" ry="1.8" fill="#78933c"/>
<ellipse cx="1118.3" cy="545.4" rx="2.3" ry="2.2" fill="#4e6c20"/>
<ellipse cx="1092.5" cy="511.5" rx="2.1" ry="1.5" fill="#6e8e2c"/>
<ellipse cx="1135.6" cy="525.2" rx="1.3" ry="1.5" fill="#6e8e2c"/>
<ellipse cx="1121.3" cy="522.4" rx="1.9" ry="1.7" fill="#94b04a"/>
<ellipse cx="1146.8" cy="520.2" rx="3.1" ry="2.2" fill="#688828"/>
<ellipse cx="1138.7" cy="540.6" rx="2.9" ry="2.0" fill="#759531"/>
<ellipse cx="1134.9" cy="503.9" rx="2.9" ry="1.9" fill="#688828"/>
<ellipse cx="1106.8" cy="517.4" rx="3.2" ry="1.3" fill="#688828"/>
<ellipse cx="1144.5" cy="534.4" rx="2.9" ry="1.6" fill="#94b04a"/>
<ellipse cx="1117.7" cy="501.6" rx="1.5" ry="1.9" fill="#88a63e"/>
<ellipse cx="1097.4" cy="532.8" rx="2.6" ry="1.1" fill="#45621b"/>
<ellipse cx="1114.1" cy="542.8" rx="1.8" ry="2.1" fill="#49651e"/>
<ellipse cx="1136.5" cy="536.9" rx="1.3" ry="2.4" fill="#506e1e"/>
<ellipse cx="1134.4" cy="535.7" rx="1.8" ry="1.4" fill="#94b04a"/>
<ellipse cx="1105.6" cy="548.6" rx="2.2" ry="1.1" fill="#365117"/>
<ellipse cx="1145.5" cy="544.3" rx="2.0" ry="1.9" fill="#4b681c"/>
<ellipse cx="1141.4" cy="534.9" rx="2.9" ry="2.3" fill="#789832"/>
<ellipse cx="1134.6" cy="506.4" rx="3.0" ry="2.4" fill="#94b04a"/>
<ellipse cx="1099.5" cy="547.5" rx="2.1" ry="1.2" fill="#405a1d"/>
<ellipse cx="1129.4" cy="536.1" rx="3.0" ry="2.1" fill="#506e1e"/>
<ellipse cx="1127.0" cy="540.5" rx="2.6" ry="2.3" fill="#668527"/>
<ellipse cx="1101.0" cy="513.4" rx="3.2" ry="1.8" fill="#789832"/>
<ellipse cx="1095.2" cy="534.9" rx="2.1" ry="1.6" fill="#537121"/>
<ellipse cx="1143.1" cy="549.2" rx="1.5" ry="2.3" fill="#749135"/>
<ellipse cx="1107.0" cy="547.6" rx="1.3" ry="2.2" fill="#3a5519"/>
<ellipse cx="1098.9" cy="516.7" rx="2.2" ry="1.7" fill="#789832"/>
<ellipse cx="1101.4" cy="543.7" rx="1.2" ry="1.2" fill="#3e5a1b"/>
<ellipse cx="1139.0" cy="542.5" rx="2.8" ry="2.0" fill="#819f3b"/>
<ellipse cx="1143.3" cy="550.5" rx="1.8" ry="1.2" fill="#728e34"/>
<ellipse cx="1110.9" cy="552.5" rx="1.7" ry="1.3" fill="#3f5a1b"/>
<ellipse cx="1138.6" cy="537.8" rx="2.0" ry="1.2" fill="#506e1e"/>
<ellipse cx="1090.2" cy="519.1" rx="1.2" ry="1.4" fill="#5c7c22"/>
<ellipse cx="1100.9" cy="505.8" rx="1.3" ry="2.3" fill="#688828"/>
<ellipse cx="1120.8" cy="553.4" rx="2.1" ry="2.3" fill="#748f3a"/>
<ellipse cx="1097.6" cy="507.0" rx="2.9" ry="1.8" fill="#789832"/>
<ellipse cx="1114.8" cy="553.1" rx="2.0" ry="1.3" fill="#4e6a22"/>
<ellipse cx="1127.6" cy="507.5" rx="2.5" ry="1.2" fill="#6e8e2c"/>
<ellipse cx="1134.3" cy="522.3" rx="1.7" ry="1.2" fill="#688828"/>
<ellipse cx="1102.5" cy="501.8" rx="2.7" ry="1.2" fill="#6e8e2c"/>
<ellipse cx="1130.9" cy="551.9" rx="2.1" ry="1.1" fill="#4e6c1e"/>
<ellipse cx="1110.8" cy="548.5" rx="1.5" ry="1.5" fill="#486222"/>
<ellipse cx="1132.5" cy="502.6" rx="2.1" ry="1.7" fill="#789832"/>
<ellipse cx="1135.6" cy="551.7" rx="2.9" ry="1.4" fill="#79943c"/>
<ellipse cx="1138.2" cy="515.9" rx="2.7" ry="1.6" fill="#789832"/>
<ellipse cx="1125.6" cy="545.6" rx="2.3" ry="1.4" fill="#648328"/>
<ellipse cx="1111.9" cy="527.9" rx="2.3" ry="1.8" fill="#739230"/>
<ellipse cx="1134.5" cy="504.1" rx="2.4" ry="1.7" fill="#5c7c22"/>
<ellipse cx="1139.4" cy="552.4" rx="1.8" ry="1.1" fill="#4d6b1e"/>
<ellipse cx="1117.3" cy="511.7" rx="1.7" ry="1.9" fill="#688828"/>
<ellipse cx="1126.8" cy="534.0" rx="3.0" ry="2.0" fill="#6e8e2c"/>
<ellipse cx="1101.7" cy="517.8" rx="1.7" ry="1.8" fill="#5c7c22"/>
<ellipse cx="1100.0" cy="547.2" rx="3.0" ry="1.0" fill="#365117"/>
<ellipse cx="1095.6" cy="553.7" rx="3.2" ry="1.3" fill="#496325"/>
<ellipse cx="1125.7" cy="527.0" rx="2.0" ry="1.3" fill="#789832"/>
<ellipse cx="1117.3" cy="521.5" rx="3.1" ry="1.9" fill="#5c7c22"/>
<ellipse cx="1090.1" cy="519.0" rx="2.9" ry="2.3" fill="#688828"/>
<ellipse cx="1114.0" cy="533.9" rx="1.8" ry="1.4" fill="#506e1e"/>
<ellipse cx="1094.4" cy="524.3" rx="2.6" ry="1.5" fill="#88a63e"/>
<ellipse cx="1123.2" cy="551.6" rx="3.1" ry="1.7" fill="#708c33"/>
<ellipse cx="1096.5" cy="539.0" rx="2.6" ry="1.1" fill="#49661e"/>
<ellipse cx="1123.1" cy="548.7" rx="9" ry="5.5" fill="#4a7a2a"/>
<ellipse cx="1101.3" cy="550.7" rx="9" ry="4.0" fill="#2a4818"/>
<line x1="1111.256" y1="530.652" x2="1111.256" y2="548.74" stroke="#8fa860" stroke-width="0.6" />
<line x1="1119.95" y1="526.13" x2="1119.95" y2="539.0500000000001" stroke="#b8c890" stroke-width="0.6" />
</g></g>
<rect x="884.60" y="555.40" width="57.40" height="12.20" fill="#f1f1f1" stroke="none" stroke-width="1" />
<rect x="948.60" y="555.40" width="63.00" height="12.20" fill="#f1f1f1" stroke="none" stroke-width="1" />
<rect x="1018.00" y="555.40" width="64.80" height="12.20" fill="#f1f1f1" stroke="none" stroke-width="1" />
<rect x="1088.80" y="555.40" width="62.20" height="12.20" fill="#f1f1f1" stroke="none" stroke-width="1" />
<circle cx="889.4" cy="561.6" r="3.4" fill="#c89a24"/>
<text x="899.0" y="565.4" font-size="11" fill="#c89a24" text-anchor="start" font-weight="bold" font-style="italic" >Ginkgo</text>
<circle cx="953.4" cy="561.6" r="3.4" fill="#7c9c52"/>
<text x="963.4" y="565.4" font-size="11" fill="#7c9c52" text-anchor="start" font-weight="bold" font-style="italic" >Acer</text>
<circle cx="1022.4" cy="561.6" r="3.4" fill="#3a8ea5"/>
<text x="1030.8" y="565.4" font-size="11" fill="#3a8ea5" text-anchor="start" font-weight="bold" font-style="italic" >Fraxinus</text>
<circle cx="1093.4" cy="561.6" r="3.4" fill="#866aae"/>
<text x="1101.0" y="565.4" font-size="11" fill="#866aae" text-anchor="start" font-weight="bold" font-style="italic" >Platanus</text>
<line x1="879.0" y1="571.9" x2="1154.4" y2="571.9" stroke="#c2c2c2" stroke-width="1.3" stroke-dasharray="6 4.2"/>
<path d="M924.6,576.0 L924.6,576.0 L924.5,579.0 L924.3,582.1 L924.3,585.1 L924.2,588.2 L924.2,591.2 L924.1,594.3 L924.0,597.4 L923.9,600.4 L923.8,603.5 L923.7,606.5 L923.6,609.5 L923.4,612.6 L923.3,615.6 L923.0,618.7 L922.8,621.8 L922.4,624.8 L922.0,627.9 L921.5,630.9 L920.9,634.0 L920.1,637.0 L919.1,640.0 L918.0,643.1 L916.6,646.1 L915.1,649.2 L913.4,652.2 L911.5,655.3 L909.4,658.4 L907.3,661.4 L905.2,664.5 L903.2,667.5 L901.3,670.5 L899.7,673.6 L898.4,676.6 L897.5,679.7 L897.1,682.8 L897.1,685.8 L897.6,688.9 L898.5,691.9 L899.7,695.0 L901.3,698.0 L903.1,701.0 L904.9,704.1 L906.9,707.1 L908.8,710.2 L910.6,713.2 L912.2,716.3 L913.7,719.4 L915.0,722.4 L916.1,725.5 L917.1,728.5 L917.9,731.5 L918.6,734.6 L919.2,737.6 L919.7,740.7 L920.1,743.8 L920.5,746.8 L920.8,749.9 L921.1,752.9 L921.3,756.0 L921.6,759.0 L921.8,762.0 L922.1,765.1 L922.3,768.1 L922.5,771.2 L922.7,774.2 L922.8,777.3 L923.0,780.4 L923.2,783.4 L923.3,786.5 L923.5,789.5 L923.6,792.5 L923.7,795.6 L923.8,798.6 L923.9,801.7 L924.0,804.8 L924.1,807.8 L924.1,810.9 L924.2,813.9 L924.4,817.0 L924.6,820.0 L924.6,820.0 Z" fill="#5c8acf"/>
<line x1="924.1" y1="576.0" x2="924.1" y2="818.5" stroke="#84ace0" stroke-width="0.9" />
<path d="M1108.2,664.0 L1108.2,664.0 L1108.5,666.3 L1108.8,668.5 L1109.1,670.8 L1109.2,673.0 L1109.3,675.3 L1109.4,677.6 L1109.5,679.8 L1109.7,682.1 L1109.9,684.4 L1110.0,686.6 L1110.2,688.9 L1110.5,691.1 L1110.7,693.4 L1111.0,695.7 L1111.4,697.9 L1111.8,700.2 L1112.2,702.5 L1112.8,704.7 L1113.4,707.0 L1114.1,709.2 L1114.9,711.5 L1115.8,713.8 L1116.8,716.0 L1118.0,718.3 L1119.2,720.6 L1120.6,722.8 L1122.0,725.1 L1123.5,727.4 L1125.0,729.6 L1126.5,731.9 L1128.0,734.1 L1129.4,736.4 L1130.6,738.7 L1131.7,740.9 L1132.6,743.2 L1133.2,745.5 L1133.6,747.7 L1133.7,750.0 L1133.5,752.2 L1133.1,754.5 L1132.4,756.8 L1131.5,759.0 L1130.4,761.3 L1129.1,763.5 L1127.7,765.8 L1126.3,768.1 L1124.8,770.3 L1123.3,772.6 L1121.9,774.9 L1120.5,777.1 L1119.2,779.4 L1118.0,781.6 L1116.9,783.9 L1115.9,786.2 L1115.0,788.4 L1114.3,790.7 L1113.6,793.0 L1113.0,795.2 L1112.5,797.5 L1112.1,799.8 L1111.7,802.0 L1111.3,804.3 L1111.0,806.5 L1110.8,808.8 L1110.5,811.1 L1110.3,813.3 L1110.1,815.6 L1110.0,817.9 L1109.8,820.1 L1109.7,822.4 L1109.5,824.6 L1109.4,826.9 L1109.3,829.2 L1109.2,831.4 L1109.1,833.7 L1109.0,836.0 L1108.9,838.2 L1108.7,840.5 L1108.4,842.7 L1108.2,845.0 L1108.2,845.0 Z" fill="#e9623d"/>
<circle cx="938.5" cy="620.2" r="3.4" fill="#6694d4"/>
<circle cx="937.8" cy="642.0" r="3.4" fill="#6694d4"/>
<circle cx="933.0" cy="674.1" r="3.4" fill="#6694d4"/>
<circle cx="937.4" cy="674.1" r="3.4" fill="#6694d4"/>
<circle cx="934.4" cy="681.5" r="3.4" fill="#6694d4"/>
<circle cx="933.0" cy="687.4" r="3.4" fill="#6694d4"/>
<circle cx="940.4" cy="686.3" r="3.4" fill="#6694d4"/>
<circle cx="937.8" cy="694.8" r="3.4" fill="#6694d4"/>
<circle cx="939.2" cy="700.3" r="3.4" fill="#6694d4"/>
<circle cx="936.3" cy="705.9" r="3.4" fill="#6694d4"/>
<circle cx="941.1" cy="716.9" r="3.4" fill="#6694d4"/>
<circle cx="937.4" cy="721.7" r="3.4" fill="#6694d4"/>
<circle cx="933.0" cy="722.9" r="3.4" fill="#6694d4"/>
<circle cx="941.5" cy="755.7" r="3.4" fill="#6694d4"/>
<circle cx="932.6" cy="774.5" r="3.4" fill="#6694d4"/>
<circle cx="1091.4" cy="703.3" r="3.4" fill="#e8613d"/>
<circle cx="1095.8" cy="702.2" r="3.4" fill="#e8613d"/>
<circle cx="1090.6" cy="727.3" r="3.4" fill="#e8613d"/>
<circle cx="1093.6" cy="730.6" r="3.4" fill="#e8613d"/>
<circle cx="1097.3" cy="731.7" r="3.4" fill="#e8613d"/>
<circle cx="1090.6" cy="741.3" r="3.4" fill="#e8613d"/>
<circle cx="1098.8" cy="742.1" r="3.4" fill="#e8613d"/>
<circle cx="1091.8" cy="748.3" r="3.4" fill="#e8613d"/>
<circle cx="1096.2" cy="750.2" r="3.4" fill="#e8613d"/>
<circle cx="1090.6" cy="755.0" r="3.4" fill="#e8613d"/>
<circle cx="1094.7" cy="756.5" r="3.4" fill="#e8613d"/>
<circle cx="1098.8" cy="755.7" r="3.4" fill="#e8613d"/>
<circle cx="1097.3" cy="766.8" r="3.4" fill="#e8613d"/>
<circle cx="1094.3" cy="772.3" r="3.4" fill="#e8613d"/>
<circle cx="1091.4" cy="774.2" r="3.4" fill="#e8613d"/>
<circle cx="1100.6" cy="784.5" r="3.4" fill="#e8613d"/>
<circle cx="1091.4" cy="803.7" r="3.4" fill="#e8613d"/>
<circle cx="1095.8" cy="803.7" r="3.4" fill="#e8613d"/>
<line x1="957.0" y1="694.8" x2="957.0" y2="700.3" stroke="#c9a227" stroke-width="1.0" />
<line x1="957.0" y1="713.2" x2="957.0" y2="721.4" stroke="#c9a227" stroke-width="1.0" />
<rect x="951.90" y="700.30" width="10.20" height="12.90" fill="#e3d29a" stroke="#c9a227" stroke-width="1.25" />
<line x1="951.9" y1="705.9" x2="962.1" y2="705.9" stroke="#c9a227" stroke-width="1.6" />
<line x1="968.0" y1="642.0" x2="968.0" y2="674.1" stroke="#7fa650" stroke-width="1.0" />
<line x1="968.0" y1="695.5" x2="968.0" y2="715.8" stroke="#7fa650" stroke-width="1.0" />
<rect x="962.90" y="674.10" width="10.20" height="21.40" fill="#b7cdb0" stroke="#7fa650" stroke-width="1.25" />
<line x1="962.9" y1="683.7" x2="973.1" y2="683.7" stroke="#7fa650" stroke-width="1.6" />
<line x1="978.8" y1="673.7" x2="978.8" y2="673.7" stroke="#3a8ea5" stroke-width="1.0" />
<line x1="978.8" y1="698.5" x2="978.8" y2="723.6" stroke="#3a8ea5" stroke-width="1.0" />
<rect x="973.70" y="673.70" width="10.20" height="24.80" fill="#9cc6d6" stroke="#3a8ea5" stroke-width="1.25" />
<line x1="973.6999999999999" y1="674.3" x2="983.9" y2="674.3" stroke="#3a8ea5" stroke-width="1.6" />
<line x1="989.8" y1="688.1" x2="989.8" y2="698.5" stroke="#8e7cc0" stroke-width="1.0" />
<line x1="989.8" y1="732.5" x2="989.8" y2="774.5" stroke="#8e7cc0" stroke-width="1.0" />
<rect x="984.70" y="698.50" width="10.20" height="34.00" fill="#bdbbe0" stroke="#8e7cc0" stroke-width="1.25" />
<line x1="984.6999999999999" y1="709.6" x2="994.9" y2="709.6" stroke="#8e7cc0" stroke-width="1.6" />
<line x1="1042.6" y1="730.6" x2="1042.6" y2="739.5" stroke="#d4a92a" stroke-width="1.0" />
<line x1="1042.6" y1="758.3" x2="1042.6" y2="766.8" stroke="#d4a92a" stroke-width="1.0" />
<rect x="1037.50" y="739.50" width="10.20" height="18.80" fill="#f0d9a4" stroke="#d4a92a" stroke-width="1.25" />
<line x1="1037.5" y1="748.7" x2="1047.6999999999998" y2="748.7" stroke="#d4a92a" stroke-width="1.6" />
<line x1="1053.7" y1="750.2" x2="1053.7" y2="750.2" stroke="#a3a36a" stroke-width="1.0" />
<line x1="1053.7" y1="794.5" x2="1053.7" y2="803.7" stroke="#a3a36a" stroke-width="1.0" />
<rect x="1048.60" y="750.20" width="10.20" height="44.30" fill="#e3d6b8" stroke="#a3a36a" stroke-width="1.25" />
<line x1="1048.6000000000001" y1="755.7" x2="1058.8" y2="755.7" stroke="#a3a36a" stroke-width="1.6" />
<line x1="1064.4" y1="741.7" x2="1064.4" y2="749.4" stroke="#3a8ea5" stroke-width="1.0" />
<line x1="1064.4" y1="765.0" x2="1064.4" y2="772.7" stroke="#3a8ea5" stroke-width="1.0" />
<rect x="1059.30" y="749.40" width="10.20" height="15.60" fill="#bfd0cf" stroke="#3a8ea5" stroke-width="1.25" />
<line x1="1059.3000000000002" y1="756.8" x2="1069.5" y2="756.8" stroke="#3a8ea5" stroke-width="1.6" />
<line x1="1075.9" y1="702.2" x2="1075.9" y2="726.2" stroke="#9a78b8" stroke-width="1.0" />
<line x1="1075.9" y1="757.6" x2="1075.9" y2="774.5" stroke="#9a78b8" stroke-width="1.0" />
<rect x="1070.80" y="726.20" width="10.20" height="31.40" fill="#dcc3d3" stroke="#9a78b8" stroke-width="1.25" />
<line x1="1070.8000000000002" y1="730.6" x2="1081.0" y2="730.6" stroke="#9a78b8" stroke-width="1.6" />
<line x1="924.1" y1="660.4" x2="924.1" y2="727.3" stroke="#000" stroke-width="2.0" />
<line x1="917.6" y1="660.4" x2="930.6" y2="660.4" stroke="#000" stroke-width="1.8" />
<line x1="917.6" y1="727.3" x2="930.6" y2="727.3" stroke="#000" stroke-width="1.8" />
<circle cx="924.1" cy="694.4" r="5.2" fill="#000"/>
<line x1="1108.7" y1="725.1" x2="1108.7" y2="780.1" stroke="#000" stroke-width="2.0" />
<line x1="1102.2" y1="725.1" x2="1115.2" y2="725.1" stroke="#000" stroke-width="1.8" />
<line x1="1102.2" y1="780.1" x2="1115.2" y2="780.1" stroke="#000" stroke-width="1.8" />
<circle cx="1108.7" cy="752.4" r="5.2" fill="#000"/>
<rect x="878.00" y="487.60" width="277.40" height="362.30" fill="none" stroke="#4d4d4d" stroke-width="1.3" />
<line x1="875.2" y1="837.3" x2="878.0" y2="837.3" stroke="#4d4d4d" stroke-width="1.1" />
<text x="873.0" y="842.3" font-size="16.4" fill="#4d4d4d" text-anchor="end" font-weight="normal" font-style="normal" >90</text>
<line x1="875.2" y1="793.65" x2="878.0" y2="793.65" stroke="#4d4d4d" stroke-width="1.1" />
<text x="873.0" y="798.65" font-size="16.4" fill="#4d4d4d" text-anchor="end" font-weight="normal" font-style="normal" >100</text>
<line x1="875.2" y1="750.0" x2="878.0" y2="750.0" stroke="#4d4d4d" stroke-width="1.1" />
<text x="873.0" y="755.0" font-size="16.4" fill="#4d4d4d" text-anchor="end" font-weight="normal" font-style="normal" >110</text>
<line x1="875.2" y1="706.3499999999999" x2="878.0" y2="706.3499999999999" stroke="#4d4d4d" stroke-width="1.1" />
<text x="873.0" y="711.3499999999999" font-size="16.4" fill="#4d4d4d" text-anchor="end" font-weight="normal" font-style="normal" >120</text>
<line x1="875.2" y1="662.6999999999999" x2="878.0" y2="662.6999999999999" stroke="#4d4d4d" stroke-width="1.1" />
<text x="873.0" y="667.6999999999999" font-size="16.4" fill="#4d4d4d" text-anchor="end" font-weight="normal" font-style="normal" >130</text>
<line x1="875.2" y1="619.05" x2="878.0" y2="619.05" stroke="#4d4d4d" stroke-width="1.1" />
<text x="873.0" y="624.05" font-size="16.4" fill="#4d4d4d" text-anchor="end" font-weight="normal" font-style="normal" >140</text>
<line x1="875.2" y1="575.3999999999999" x2="878.0" y2="575.3999999999999" stroke="#4d4d4d" stroke-width="1.1" />
<text x="873.0" y="580.3999999999999" font-size="16.4" fill="#4d4d4d" text-anchor="end" font-weight="normal" font-style="normal" >150</text>
<line x1="948.8" y1="849.9" x2="948.8" y2="852.6999999999999" stroke="#4d4d4d" stroke-width="1.1" />
<text x="950.3" y="872.2" font-size="16.7" fill="#4d4d4d" text-anchor="middle" font-weight="normal" font-style="normal" >Rural</text>
<line x1="1088.6" y1="849.9" x2="1088.6" y2="852.6999999999999" stroke="#4d4d4d" stroke-width="1.1" />
<text x="1089.6" y="872.2" font-size="16.7" fill="#4d4d4d" text-anchor="middle" font-weight="normal" font-style="normal" >Urban</text>
<text x="829.5" y="706.8" font-size="16.8" fill="#111" text-anchor="middle" font-weight="normal" font-style="normal" transform="rotate(-90 829.5 706.8)" >Leaf-out date (d)</text>
<text x="846.0" y="529.5" font-size="16.8" fill="#111" text-anchor="middle" font-weight="normal" font-style="normal" transform="rotate(-90 846.0 529.5)" >Species</text>
</g>
</svg>
</body></html>
